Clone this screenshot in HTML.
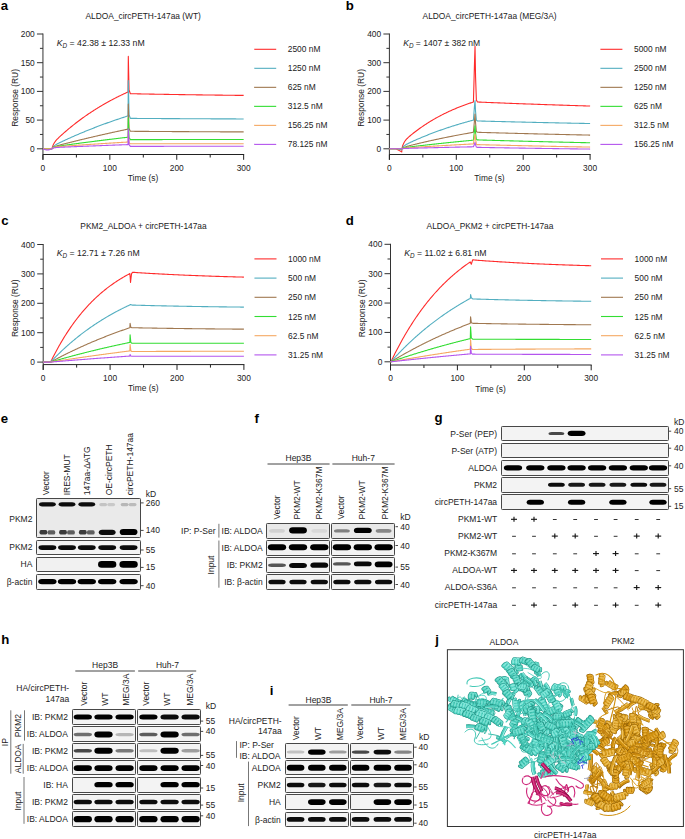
<!DOCTYPE html>
<html><head><meta charset="utf-8"><style>
html,body{margin:0;padding:0;background:#fff;}
svg{display:block;}
svg{font-family:"Liberation Sans",sans-serif;font-size:8.4px;fill:#222;}
</style></head><body>
<svg width="685" height="839" viewBox="0 0 685 839">
<defs>
<filter id="bl" x="-20%" y="-60%" width="140%" height="220%"><feGaussianBlur stdDeviation="0.7"/></filter>
<filter id="bl2" x="-20%" y="-60%" width="140%" height="220%"><feGaussianBlur stdDeviation="0.5"/></filter>
</defs>
<rect width="685" height="839" fill="#fff"/>
<line x1="42.95" y1="33.5" x2="42.95" y2="159.8" stroke="#333" stroke-width="1"/>
<line x1="42.95" y1="154.5" x2="244.15" y2="154.5" stroke="#222" stroke-width="1"/>
<line x1="36.95" y1="148.8" x2="42.95" y2="148.8" stroke="#333" stroke-width="1"/>
<text x="34.75" y="151.8" text-anchor="end">0</text>
<line x1="39.95" y1="134.45" x2="42.95" y2="134.45" stroke="#333" stroke-width="1"/>
<line x1="36.95" y1="120.1" x2="42.95" y2="120.1" stroke="#333" stroke-width="1"/>
<text x="34.75" y="123.1" text-anchor="end">50</text>
<line x1="39.95" y1="105.75" x2="42.95" y2="105.75" stroke="#333" stroke-width="1"/>
<line x1="36.95" y1="91.4" x2="42.95" y2="91.4" stroke="#333" stroke-width="1"/>
<text x="34.75" y="94.4" text-anchor="end">100</text>
<line x1="39.95" y1="77.05" x2="42.95" y2="77.05" stroke="#333" stroke-width="1"/>
<line x1="36.95" y1="62.7" x2="42.95" y2="62.7" stroke="#333" stroke-width="1"/>
<text x="34.75" y="65.7" text-anchor="end">150</text>
<line x1="39.95" y1="48.35" x2="42.95" y2="48.35" stroke="#333" stroke-width="1"/>
<line x1="36.95" y1="34" x2="42.95" y2="34" stroke="#333" stroke-width="1"/>
<text x="34.75" y="37" text-anchor="end">200</text>
<line x1="42.95" y1="154.5" x2="42.95" y2="159.8" stroke="#222" stroke-width="1"/>
<text x="42.95" y="170.8" text-anchor="middle">0</text>
<line x1="76.4" y1="154.5" x2="76.4" y2="157.5" stroke="#222" stroke-width="1"/>
<line x1="109.85" y1="154.5" x2="109.85" y2="159.8" stroke="#222" stroke-width="1"/>
<text x="109.85" y="170.8" text-anchor="middle">100</text>
<line x1="143.3" y1="154.5" x2="143.3" y2="157.5" stroke="#222" stroke-width="1"/>
<line x1="176.75" y1="154.5" x2="176.75" y2="159.8" stroke="#222" stroke-width="1"/>
<text x="176.75" y="170.8" text-anchor="middle">200</text>
<line x1="210.2" y1="154.5" x2="210.2" y2="157.5" stroke="#222" stroke-width="1"/>
<line x1="243.65" y1="154.5" x2="243.65" y2="159.8" stroke="#222" stroke-width="1"/>
<text x="243.65" y="170.8" text-anchor="middle">300</text>
<text x="143" y="181.2" text-anchor="middle">Time (s)</text>
<text x="18.4" y="97.9" text-anchor="middle" transform="rotate(-90 18.4 97.9)">Response (RU)</text>
<text x="143.2" y="18.8" text-anchor="middle">ALDOA_circPETH-147aa (WT)</text>
<text x="56.8" y="45.8" font-size="8.7"><tspan font-style="italic">K</tspan><tspan font-style="italic" font-size="6.3" dy="2.3">D</tspan><tspan dy="-2.3"> = 42.38 ± 12.33 nM</tspan></text>
<line x1="254.2" y1="49.3" x2="276.2" y2="49.3" stroke="#ff2b2b" stroke-width="1.1"/>
<text x="287.8" y="52.3">2500 nM</text>
<line x1="254.2" y1="68.32" x2="276.2" y2="68.32" stroke="#52aec0" stroke-width="1.1"/>
<text x="287.8" y="71.32">1250 nM</text>
<line x1="254.2" y1="87.34" x2="276.2" y2="87.34" stroke="#a07850" stroke-width="1.1"/>
<text x="287.8" y="90.34">625 nM</text>
<line x1="254.2" y1="106.36" x2="276.2" y2="106.36" stroke="#33dd33" stroke-width="1.1"/>
<text x="287.8" y="109.36">312.5 nM</text>
<line x1="254.2" y1="125.38" x2="276.2" y2="125.38" stroke="#f5a862" stroke-width="1.1"/>
<text x="287.8" y="128.38">156.25 nM</text>
<line x1="254.2" y1="144.4" x2="276.2" y2="144.4" stroke="#b455ee" stroke-width="1.1"/>
<text x="287.8" y="147.4">78.125 nM</text>
<path d="M42.95,148.8 L43.28,148.8 L43.62,148.8 L43.95,148.8 L44.29,148.8 L44.62,148.8 L44.96,148.8 L45.29,148.8 L45.63,148.8 L45.96,148.8 L46.3,148.8 L46.63,148.8 L46.96,148.8 L47.3,148.8 L47.63,148.8 L47.97,148.8 L48.3,148.8 L48.64,148.8 L48.97,148.8 L49.31,148.8 L49.64,148.8 L49.97,148.8 L50.31,148.8 L50.64,148.8 L50.98,148.8 L51.31,148.8 L51.65,148.8 L51.85,148.8 L52.52,146.62 L53.19,144.95 L53.85,143.62 L54.52,142.51 L55.19,141.56 L55.86,140.71 L56.53,139.94 L57.2,139.22 L57.87,138.53 L58.54,137.87 L59.21,137.22 L59.88,136.59 L60.54,135.96 L61.21,135.35 L61.88,134.74 L62.55,134.14 L63.22,133.55 L63.89,132.96 L64.56,132.37 L65.23,131.79 L65.9,131.21 L66.57,130.64 L67.23,130.07 L67.9,129.51 L68.57,128.95 L69.24,128.39 L69.91,127.84 L70.58,127.29 L71.25,126.74 L71.92,126.2 L72.59,125.66 L73.26,125.13 L73.92,124.6 L74.59,124.07 L75.26,123.55 L75.93,123.03 L76.6,122.52 L77.27,122 L77.94,121.5 L78.61,120.99 L79.28,120.49 L79.95,119.99 L80.61,119.5 L81.28,119.01 L81.95,118.52 L82.62,118.04 L83.29,117.56 L83.96,117.08 L84.63,116.6 L85.3,116.13 L85.97,115.67 L86.64,115.2 L87.3,114.74 L87.97,114.28 L88.64,113.83 L89.31,113.38 L89.98,112.93 L90.65,112.49 L91.32,112.04 L91.99,111.61 L92.66,111.17 L93.33,110.74 L93.99,110.31 L94.66,109.88 L95.33,109.46 L96,109.04 L96.67,108.62 L97.34,108.2 L98.01,107.79 L98.68,107.38 L99.35,106.98 L100.02,106.57 L100.68,106.17 L101.35,105.77 L102.02,105.38 L102.69,104.99 L103.36,104.6 L104.03,104.21 L104.7,103.83 L105.37,103.45 L106.04,103.07 L106.71,102.69 L107.37,102.32 L108.04,101.95 L108.71,101.58 L109.38,101.21 L110.05,100.85 L110.72,100.49 L111.39,100.13 L112.06,99.77 L112.73,99.42 L113.4,99.07 L114.06,98.72 L114.73,98.38 L115.4,98.03 L116.07,97.69 L116.74,97.35 L117.41,97.02 L118.08,96.68 L118.75,96.35 L119.42,96.02 L120.09,95.69 L120.75,95.37 L121.42,95.05 L122.09,94.73 L122.76,94.41 L123.43,94.09 L124.1,93.78 L124.77,93.47 L125.44,93.16 L126.11,92.85 L126.78,92.55 L127.44,92.24 L128.05,91.97 L128.31,56.39 L129.05,89.97 L130.39,93.7 L131.06,93.71 L132.4,93.74 L133.73,93.77 L135.07,93.79 L136.41,93.82 L137.75,93.85 L139.09,93.87 L140.42,93.9 L141.76,93.93 L143.1,93.95 L144.44,93.98 L145.78,94 L147.11,94.03 L148.45,94.05 L149.79,94.08 L151.13,94.1 L152.47,94.13 L153.8,94.15 L155.14,94.18 L156.48,94.2 L157.82,94.23 L159.16,94.25 L160.49,94.27 L161.83,94.3 L163.17,94.32 L164.51,94.34 L165.85,94.36 L167.18,94.39 L168.52,94.41 L169.86,94.43 L171.2,94.45 L172.54,94.48 L173.87,94.5 L175.21,94.52 L176.55,94.54 L177.89,94.56 L179.23,94.58 L180.56,94.6 L181.9,94.62 L183.24,94.64 L184.58,94.66 L185.92,94.68 L187.25,94.7 L188.59,94.72 L189.93,94.74 L191.27,94.76 L192.61,94.78 L193.94,94.8 L195.28,94.82 L196.62,94.84 L197.96,94.86 L199.3,94.88 L200.63,94.9 L201.97,94.91 L203.31,94.93 L204.65,94.95 L205.99,94.97 L207.32,94.99 L208.66,95 L210,95.02 L211.34,95.04 L212.68,95.06 L214.01,95.07 L215.35,95.09 L216.69,95.11 L218.03,95.12 L219.37,95.14 L220.7,95.16 L222.04,95.17 L223.38,95.19 L224.72,95.2 L226.06,95.22 L227.39,95.24 L228.73,95.25 L230.07,95.27 L231.41,95.28 L232.75,95.3 L234.08,95.31 L235.42,95.33 L236.76,95.34 L238.1,95.36 L239.44,95.37 L240.77,95.39 L242.11,95.4 L243.45,95.42 L243.65,95.42" fill="none" stroke="#ff2b2b" stroke-width="1.1" stroke-linejoin="round"/>
<path d="M42.95,148.8 L43.28,148.8 L43.62,148.8 L43.95,148.8 L44.29,148.8 L44.62,148.8 L44.96,148.8 L45.29,148.8 L45.63,148.8 L45.96,148.8 L46.3,148.8 L46.63,148.8 L46.96,148.8 L47.3,148.8 L47.63,148.8 L47.97,148.8 L48.3,148.8 L48.64,148.8 L48.97,148.8 L49.31,148.8 L49.64,148.8 L49.97,148.8 L50.31,148.8 L50.64,148.8 L50.98,148.8 L51.31,148.8 L51.65,148.8 L51.85,148.8 L52.52,147.71 L53.19,146.87 L53.85,146.2 L54.52,145.64 L55.19,145.16 L55.86,144.73 L56.53,144.34 L57.2,143.96 L57.87,143.61 L58.54,143.27 L59.21,142.93 L59.88,142.6 L60.54,142.28 L61.21,141.96 L61.88,141.64 L62.55,141.32 L63.22,141.01 L63.89,140.7 L64.56,140.39 L65.23,140.08 L65.9,139.77 L66.57,139.46 L67.23,139.16 L67.9,138.85 L68.57,138.55 L69.24,138.25 L69.91,137.95 L70.58,137.65 L71.25,137.35 L71.92,137.05 L72.59,136.75 L73.26,136.46 L73.92,136.17 L74.59,135.87 L75.26,135.58 L75.93,135.29 L76.6,135 L77.27,134.71 L77.94,134.43 L78.61,134.14 L79.28,133.86 L79.95,133.57 L80.61,133.29 L81.28,133.01 L81.95,132.73 L82.62,132.45 L83.29,132.18 L83.96,131.9 L84.63,131.62 L85.3,131.35 L85.97,131.08 L86.64,130.8 L87.3,130.53 L87.97,130.26 L88.64,129.99 L89.31,129.73 L89.98,129.46 L90.65,129.19 L91.32,128.93 L91.99,128.66 L92.66,128.4 L93.33,128.14 L93.99,127.88 L94.66,127.62 L95.33,127.36 L96,127.11 L96.67,126.85 L97.34,126.59 L98.01,126.34 L98.68,126.09 L99.35,125.83 L100.02,125.58 L100.68,125.33 L101.35,125.08 L102.02,124.83 L102.69,124.59 L103.36,124.34 L104.03,124.1 L104.7,123.85 L105.37,123.61 L106.04,123.37 L106.71,123.12 L107.37,122.88 L108.04,122.64 L108.71,122.41 L109.38,122.17 L110.05,121.93 L110.72,121.7 L111.39,121.46 L112.06,121.23 L112.73,121 L113.4,120.76 L114.06,120.53 L114.73,120.3 L115.4,120.07 L116.07,119.84 L116.74,119.62 L117.41,119.39 L118.08,119.17 L118.75,118.94 L119.42,118.72 L120.09,118.49 L120.75,118.27 L121.42,118.05 L122.09,117.83 L122.76,117.61 L123.43,117.39 L124.1,117.18 L124.77,116.96 L125.44,116.74 L126.11,116.53 L126.78,116.31 L127.44,116.1 L128.05,115.91 L128.31,80.49 L129.05,114.59 L130.39,118.38 L131.06,118.38 L132.4,118.39 L133.73,118.4 L135.07,118.41 L136.41,118.42 L137.75,118.43 L139.09,118.44 L140.42,118.45 L141.76,118.45 L143.1,118.46 L144.44,118.47 L145.78,118.48 L147.11,118.49 L148.45,118.5 L149.79,118.51 L151.13,118.51 L152.47,118.52 L153.8,118.53 L155.14,118.54 L156.48,118.55 L157.82,118.55 L159.16,118.56 L160.49,118.57 L161.83,118.58 L163.17,118.59 L164.51,118.59 L165.85,118.6 L167.18,118.61 L168.52,118.62 L169.86,118.62 L171.2,118.63 L172.54,118.64 L173.87,118.65 L175.21,118.65 L176.55,118.66 L177.89,118.67 L179.23,118.67 L180.56,118.68 L181.9,118.69 L183.24,118.69 L184.58,118.7 L185.92,118.71 L187.25,118.71 L188.59,118.72 L189.93,118.73 L191.27,118.73 L192.61,118.74 L193.94,118.75 L195.28,118.75 L196.62,118.76 L197.96,118.77 L199.3,118.77 L200.63,118.78 L201.97,118.78 L203.31,118.79 L204.65,118.8 L205.99,118.8 L207.32,118.81 L208.66,118.81 L210,118.82 L211.34,118.83 L212.68,118.83 L214.01,118.84 L215.35,118.84 L216.69,118.85 L218.03,118.85 L219.37,118.86 L220.7,118.86 L222.04,118.87 L223.38,118.88 L224.72,118.88 L226.06,118.89 L227.39,118.89 L228.73,118.9 L230.07,118.9 L231.41,118.91 L232.75,118.91 L234.08,118.92 L235.42,118.92 L236.76,118.93 L238.1,118.93 L239.44,118.94 L240.77,118.94 L242.11,118.95 L243.45,118.95 L243.65,118.95" fill="none" stroke="#52aec0" stroke-width="1.1" stroke-linejoin="round"/>
<path d="M42.95,148.8 L43.28,148.8 L43.62,148.8 L43.95,148.8 L44.29,148.8 L44.62,148.8 L44.96,148.8 L45.29,148.8 L45.63,148.8 L45.96,148.8 L46.3,148.8 L46.63,148.8 L46.96,148.8 L47.3,148.8 L47.63,148.8 L47.97,148.8 L48.3,148.8 L48.64,148.8 L48.97,148.8 L49.31,148.8 L49.64,148.8 L49.97,148.8 L50.31,148.8 L50.64,148.8 L50.98,148.8 L51.31,148.8 L51.65,148.8 L51.85,148.8 L52.52,148.06 L53.19,147.5 L53.85,147.07 L54.52,146.72 L55.19,146.43 L55.86,146.18 L56.53,145.96 L57.2,145.75 L57.87,145.55 L58.54,145.36 L59.21,145.18 L59.88,145 L60.54,144.82 L61.21,144.65 L61.88,144.48 L62.55,144.3 L63.22,144.13 L63.89,143.96 L64.56,143.79 L65.23,143.62 L65.9,143.45 L66.57,143.28 L67.23,143.11 L67.9,142.94 L68.57,142.78 L69.24,142.61 L69.91,142.44 L70.58,142.28 L71.25,142.11 L71.92,141.94 L72.59,141.78 L73.26,141.61 L73.92,141.45 L74.59,141.28 L75.26,141.12 L75.93,140.95 L76.6,140.79 L77.27,140.62 L77.94,140.46 L78.61,140.3 L79.28,140.13 L79.95,139.97 L80.61,139.81 L81.28,139.65 L81.95,139.49 L82.62,139.33 L83.29,139.17 L83.96,139.01 L84.63,138.85 L85.3,138.69 L85.97,138.53 L86.64,138.37 L87.3,138.21 L87.97,138.05 L88.64,137.89 L89.31,137.73 L89.98,137.58 L90.65,137.42 L91.32,137.26 L91.99,137.11 L92.66,136.95 L93.33,136.79 L93.99,136.64 L94.66,136.48 L95.33,136.33 L96,136.17 L96.67,136.02 L97.34,135.86 L98.01,135.71 L98.68,135.56 L99.35,135.4 L100.02,135.25 L100.68,135.1 L101.35,134.95 L102.02,134.79 L102.69,134.64 L103.36,134.49 L104.03,134.34 L104.7,134.19 L105.37,134.04 L106.04,133.89 L106.71,133.74 L107.37,133.59 L108.04,133.44 L108.71,133.29 L109.38,133.14 L110.05,132.99 L110.72,132.85 L111.39,132.7 L112.06,132.55 L112.73,132.4 L113.4,132.26 L114.06,132.11 L114.73,131.96 L115.4,131.82 L116.07,131.67 L116.74,131.53 L117.41,131.38 L118.08,131.24 L118.75,131.09 L119.42,130.95 L120.09,130.8 L120.75,130.66 L121.42,130.52 L122.09,130.37 L122.76,130.23 L123.43,130.09 L124.1,129.95 L124.77,129.8 L125.44,129.66 L126.11,129.52 L126.78,129.38 L127.44,129.24 L128.05,129.11 L128.31,104.03 L129.05,128.57 L130.39,131.29 L131.06,131.3 L132.4,131.31 L133.73,131.32 L135.07,131.33 L136.41,131.34 L137.75,131.35 L139.09,131.36 L140.42,131.37 L141.76,131.38 L143.1,131.39 L144.44,131.4 L145.78,131.41 L147.11,131.42 L148.45,131.42 L149.79,131.43 L151.13,131.44 L152.47,131.45 L153.8,131.46 L155.14,131.47 L156.48,131.48 L157.82,131.49 L159.16,131.5 L160.49,131.5 L161.83,131.51 L163.17,131.52 L164.51,131.53 L165.85,131.54 L167.18,131.55 L168.52,131.55 L169.86,131.56 L171.2,131.57 L172.54,131.58 L173.87,131.59 L175.21,131.59 L176.55,131.6 L177.89,131.61 L179.23,131.62 L180.56,131.63 L181.9,131.63 L183.24,131.64 L184.58,131.65 L185.92,131.66 L187.25,131.66 L188.59,131.67 L189.93,131.68 L191.27,131.68 L192.61,131.69 L193.94,131.7 L195.28,131.71 L196.62,131.71 L197.96,131.72 L199.3,131.73 L200.63,131.73 L201.97,131.74 L203.31,131.75 L204.65,131.75 L205.99,131.76 L207.32,131.77 L208.66,131.77 L210,131.78 L211.34,131.79 L212.68,131.79 L214.01,131.8 L215.35,131.8 L216.69,131.81 L218.03,131.82 L219.37,131.82 L220.7,131.83 L222.04,131.83 L223.38,131.84 L224.72,131.85 L226.06,131.85 L227.39,131.86 L228.73,131.86 L230.07,131.87 L231.41,131.87 L232.75,131.88 L234.08,131.89 L235.42,131.89 L236.76,131.9 L238.1,131.9 L239.44,131.91 L240.77,131.91 L242.11,131.92 L243.45,131.92 L243.65,131.92" fill="none" stroke="#a07850" stroke-width="1.1" stroke-linejoin="round"/>
<path d="M42.95,148.8 L43.28,148.8 L43.62,148.8 L43.95,148.8 L44.29,148.8 L44.62,148.8 L44.96,148.8 L45.29,148.8 L45.63,148.8 L45.96,148.8 L46.3,148.8 L46.63,148.8 L46.96,148.8 L47.3,148.8 L47.63,148.8 L47.97,148.8 L48.3,148.8 L48.64,148.8 L48.97,148.8 L49.31,148.8 L49.64,148.8 L49.97,148.8 L50.31,148.8 L50.64,148.8 L50.98,148.8 L51.31,148.8 L51.65,148.8 L51.85,148.8 L52.52,148.14 L53.19,147.66 L53.85,147.31 L54.52,147.04 L55.19,146.83 L55.86,146.66 L56.53,146.51 L57.2,146.38 L57.87,146.26 L58.54,146.15 L59.21,146.04 L59.88,145.94 L60.54,145.84 L61.21,145.75 L61.88,145.65 L62.55,145.55 L63.22,145.46 L63.89,145.37 L64.56,145.27 L65.23,145.18 L65.9,145.09 L66.57,144.99 L67.23,144.9 L67.9,144.81 L68.57,144.71 L69.24,144.62 L69.91,144.53 L70.58,144.44 L71.25,144.35 L71.92,144.26 L72.59,144.16 L73.26,144.07 L73.92,143.98 L74.59,143.89 L75.26,143.8 L75.93,143.71 L76.6,143.62 L77.27,143.53 L77.94,143.44 L78.61,143.35 L79.28,143.26 L79.95,143.17 L80.61,143.08 L81.28,143 L81.95,142.91 L82.62,142.82 L83.29,142.73 L83.96,142.64 L84.63,142.55 L85.3,142.47 L85.97,142.38 L86.64,142.29 L87.3,142.2 L87.97,142.12 L88.64,142.03 L89.31,141.94 L89.98,141.86 L90.65,141.77 L91.32,141.68 L91.99,141.6 L92.66,141.51 L93.33,141.43 L93.99,141.34 L94.66,141.26 L95.33,141.17 L96,141.09 L96.67,141 L97.34,140.92 L98.01,140.83 L98.68,140.75 L99.35,140.66 L100.02,140.58 L100.68,140.49 L101.35,140.41 L102.02,140.33 L102.69,140.24 L103.36,140.16 L104.03,140.08 L104.7,140 L105.37,139.91 L106.04,139.83 L106.71,139.75 L107.37,139.67 L108.04,139.58 L108.71,139.5 L109.38,139.42 L110.05,139.34 L110.72,139.26 L111.39,139.18 L112.06,139.09 L112.73,139.01 L113.4,138.93 L114.06,138.85 L114.73,138.77 L115.4,138.69 L116.07,138.61 L116.74,138.53 L117.41,138.45 L118.08,138.37 L118.75,138.29 L119.42,138.21 L120.09,138.13 L120.75,138.06 L121.42,137.98 L122.09,137.9 L122.76,137.82 L123.43,137.74 L124.1,137.66 L124.77,137.59 L125.44,137.51 L126.11,137.43 L126.78,137.35 L127.44,137.27 L128.05,137.21 L128.31,117.8 L129.05,137.43 L130.39,139.62 L131.06,139.62 L132.4,139.61 L133.73,139.61 L135.07,139.61 L136.41,139.61 L137.75,139.61 L139.09,139.6 L140.42,139.6 L141.76,139.6 L143.1,139.6 L144.44,139.6 L145.78,139.6 L147.11,139.59 L148.45,139.59 L149.79,139.59 L151.13,139.59 L152.47,139.59 L153.8,139.59 L155.14,139.58 L156.48,139.58 L157.82,139.58 L159.16,139.58 L160.49,139.58 L161.83,139.58 L163.17,139.57 L164.51,139.57 L165.85,139.57 L167.18,139.57 L168.52,139.57 L169.86,139.57 L171.2,139.57 L172.54,139.56 L173.87,139.56 L175.21,139.56 L176.55,139.56 L177.89,139.56 L179.23,139.56 L180.56,139.56 L181.9,139.55 L183.24,139.55 L184.58,139.55 L185.92,139.55 L187.25,139.55 L188.59,139.55 L189.93,139.55 L191.27,139.54 L192.61,139.54 L193.94,139.54 L195.28,139.54 L196.62,139.54 L197.96,139.54 L199.3,139.54 L200.63,139.54 L201.97,139.53 L203.31,139.53 L204.65,139.53 L205.99,139.53 L207.32,139.53 L208.66,139.53 L210,139.53 L211.34,139.53 L212.68,139.53 L214.01,139.52 L215.35,139.52 L216.69,139.52 L218.03,139.52 L219.37,139.52 L220.7,139.52 L222.04,139.52 L223.38,139.52 L224.72,139.52 L226.06,139.51 L227.39,139.51 L228.73,139.51 L230.07,139.51 L231.41,139.51 L232.75,139.51 L234.08,139.51 L235.42,139.51 L236.76,139.51 L238.1,139.51 L239.44,139.5 L240.77,139.5 L242.11,139.5 L243.45,139.5 L243.65,139.5" fill="none" stroke="#33dd33" stroke-width="1.1" stroke-linejoin="round"/>
<path d="M42.95,148.8 L43.28,148.8 L43.62,148.8 L43.95,148.8 L44.29,148.8 L44.62,148.8 L44.96,148.8 L45.29,148.8 L45.63,148.8 L45.96,148.8 L46.3,148.8 L46.63,148.8 L46.96,148.8 L47.3,148.8 L47.63,148.8 L47.97,148.8 L48.3,148.8 L48.64,148.8 L48.97,148.8 L49.31,148.8 L49.64,148.8 L49.97,148.8 L50.31,148.8 L50.64,148.8 L50.98,148.8 L51.31,148.8 L51.65,148.8 L51.85,148.8 L52.52,148.18 L53.19,147.75 L53.85,147.45 L54.52,147.23 L55.19,147.06 L55.86,146.94 L56.53,146.84 L57.2,146.75 L57.87,146.68 L58.54,146.62 L59.21,146.56 L59.88,146.5 L60.54,146.45 L61.21,146.4 L61.88,146.35 L62.55,146.3 L63.22,146.25 L63.89,146.2 L64.56,146.15 L65.23,146.11 L65.9,146.06 L66.57,146.01 L67.23,145.96 L67.9,145.92 L68.57,145.87 L69.24,145.82 L69.91,145.77 L70.58,145.73 L71.25,145.68 L71.92,145.63 L72.59,145.59 L73.26,145.54 L73.92,145.49 L74.59,145.45 L75.26,145.4 L75.93,145.36 L76.6,145.31 L77.27,145.26 L77.94,145.22 L78.61,145.17 L79.28,145.13 L79.95,145.08 L80.61,145.03 L81.28,144.99 L81.95,144.94 L82.62,144.9 L83.29,144.85 L83.96,144.81 L84.63,144.76 L85.3,144.72 L85.97,144.67 L86.64,144.63 L87.3,144.58 L87.97,144.54 L88.64,144.5 L89.31,144.45 L89.98,144.41 L90.65,144.36 L91.32,144.32 L91.99,144.27 L92.66,144.23 L93.33,144.19 L93.99,144.14 L94.66,144.1 L95.33,144.06 L96,144.01 L96.67,143.97 L97.34,143.93 L98.01,143.88 L98.68,143.84 L99.35,143.8 L100.02,143.75 L100.68,143.71 L101.35,143.67 L102.02,143.62 L102.69,143.58 L103.36,143.54 L104.03,143.5 L104.7,143.45 L105.37,143.41 L106.04,143.37 L106.71,143.33 L107.37,143.29 L108.04,143.24 L108.71,143.2 L109.38,143.16 L110.05,143.12 L110.72,143.08 L111.39,143.03 L112.06,142.99 L112.73,142.95 L113.4,142.91 L114.06,142.87 L114.73,142.83 L115.4,142.79 L116.07,142.75 L116.74,142.71 L117.41,142.66 L118.08,142.62 L118.75,142.58 L119.42,142.54 L120.09,142.5 L120.75,142.46 L121.42,142.42 L122.09,142.38 L122.76,142.34 L123.43,142.3 L124.1,142.26 L124.77,142.22 L125.44,142.18 L126.11,142.14 L126.78,142.1 L127.44,142.06 L128.05,142.03 L128.31,131.58 L129.05,142.58 L130.39,143.81 L131.06,143.81 L132.4,143.81 L133.73,143.81 L135.07,143.81 L136.41,143.81 L137.75,143.81 L139.09,143.81 L140.42,143.81 L141.76,143.81 L143.1,143.81 L144.44,143.81 L145.78,143.81 L147.11,143.81 L148.45,143.81 L149.79,143.81 L151.13,143.81 L152.47,143.81 L153.8,143.81 L155.14,143.81 L156.48,143.81 L157.82,143.81 L159.16,143.81 L160.49,143.81 L161.83,143.81 L163.17,143.81 L164.51,143.81 L165.85,143.81 L167.18,143.81 L168.52,143.81 L169.86,143.81 L171.2,143.81 L172.54,143.81 L173.87,143.81 L175.21,143.81 L176.55,143.81 L177.89,143.81 L179.23,143.81 L180.56,143.81 L181.9,143.81 L183.24,143.81 L184.58,143.81 L185.92,143.81 L187.25,143.81 L188.59,143.81 L189.93,143.81 L191.27,143.81 L192.61,143.81 L193.94,143.81 L195.28,143.81 L196.62,143.81 L197.96,143.81 L199.3,143.81 L200.63,143.81 L201.97,143.81 L203.31,143.81 L204.65,143.81 L205.99,143.81 L207.32,143.81 L208.66,143.81 L210,143.81 L211.34,143.81 L212.68,143.81 L214.01,143.81 L215.35,143.81 L216.69,143.81 L218.03,143.81 L219.37,143.81 L220.7,143.81 L222.04,143.81 L223.38,143.81 L224.72,143.81 L226.06,143.81 L227.39,143.81 L228.73,143.81 L230.07,143.81 L231.41,143.81 L232.75,143.81 L234.08,143.81 L235.42,143.81 L236.76,143.81 L238.1,143.81 L239.44,143.81 L240.77,143.81 L242.11,143.81 L243.45,143.81 L243.65,143.81" fill="none" stroke="#f5a862" stroke-width="1.1" stroke-linejoin="round"/>
<path d="M42.95,148.8 L43.28,148.94 L43.62,149.07 L43.95,149.2 L44.29,149.32 L44.62,149.44 L44.96,149.55 L45.29,149.64 L45.63,149.73 L45.96,149.8 L46.3,149.86 L46.63,149.91 L46.96,149.93 L47.3,149.95 L47.63,149.94 L47.97,149.92 L48.3,149.89 L48.64,149.84 L48.97,149.78 L49.31,149.7 L49.64,149.61 L49.97,149.51 L50.31,149.39 L50.64,149.27 L50.98,149.15 L51.31,149.02 L51.65,148.88 L51.85,148.8 L52.52,148.39 L53.19,148.11 L53.85,147.91 L54.52,147.76 L55.19,147.66 L55.86,147.58 L56.53,147.51 L57.2,147.46 L57.87,147.42 L58.54,147.38 L59.21,147.34 L59.88,147.31 L60.54,147.28 L61.21,147.24 L61.88,147.21 L62.55,147.18 L63.22,147.15 L63.89,147.12 L64.56,147.1 L65.23,147.07 L65.9,147.04 L66.57,147.01 L67.23,146.98 L67.9,146.95 L68.57,146.92 L69.24,146.9 L69.91,146.87 L70.58,146.84 L71.25,146.81 L71.92,146.78 L72.59,146.75 L73.26,146.73 L73.92,146.7 L74.59,146.67 L75.26,146.64 L75.93,146.61 L76.6,146.59 L77.27,146.56 L77.94,146.53 L78.61,146.5 L79.28,146.48 L79.95,146.45 L80.61,146.42 L81.28,146.39 L81.95,146.37 L82.62,146.34 L83.29,146.31 L83.96,146.29 L84.63,146.26 L85.3,146.23 L85.97,146.2 L86.64,146.18 L87.3,146.15 L87.97,146.12 L88.64,146.1 L89.31,146.07 L89.98,146.04 L90.65,146.02 L91.32,145.99 L91.99,145.96 L92.66,145.94 L93.33,145.91 L93.99,145.88 L94.66,145.86 L95.33,145.83 L96,145.81 L96.67,145.78 L97.34,145.75 L98.01,145.73 L98.68,145.7 L99.35,145.68 L100.02,145.65 L100.68,145.62 L101.35,145.6 L102.02,145.57 L102.69,145.55 L103.36,145.52 L104.03,145.49 L104.7,145.47 L105.37,145.44 L106.04,145.42 L106.71,145.39 L107.37,145.37 L108.04,145.34 L108.71,145.32 L109.38,145.29 L110.05,145.27 L110.72,145.24 L111.39,145.22 L112.06,145.19 L112.73,145.17 L113.4,145.14 L114.06,145.12 L114.73,145.09 L115.4,145.07 L116.07,145.04 L116.74,145.02 L117.41,144.99 L118.08,144.97 L118.75,144.95 L119.42,144.92 L120.09,144.9 L120.75,144.87 L121.42,144.85 L122.09,144.82 L122.76,144.8 L123.43,144.78 L124.1,144.75 L124.77,144.73 L125.44,144.7 L126.11,144.68 L126.78,144.66 L127.44,144.63 L128.05,144.61 L128.31,128.71 L129.05,144.62 L130.39,146.39 L131.06,146.39 L132.4,146.39 L133.73,146.38 L135.07,146.38 L136.41,146.38 L137.75,146.37 L139.09,146.37 L140.42,146.37 L141.76,146.37 L143.1,146.36 L144.44,146.36 L145.78,146.36 L147.11,146.36 L148.45,146.35 L149.79,146.35 L151.13,146.35 L152.47,146.35 L153.8,146.34 L155.14,146.34 L156.48,146.34 L157.82,146.34 L159.16,146.33 L160.49,146.33 L161.83,146.33 L163.17,146.33 L164.51,146.32 L165.85,146.32 L167.18,146.32 L168.52,146.32 L169.86,146.32 L171.2,146.31 L172.54,146.31 L173.87,146.31 L175.21,146.31 L176.55,146.3 L177.89,146.3 L179.23,146.3 L180.56,146.3 L181.9,146.3 L183.24,146.29 L184.58,146.29 L185.92,146.29 L187.25,146.29 L188.59,146.29 L189.93,146.28 L191.27,146.28 L192.61,146.28 L193.94,146.28 L195.28,146.28 L196.62,146.27 L197.96,146.27 L199.3,146.27 L200.63,146.27 L201.97,146.27 L203.31,146.27 L204.65,146.26 L205.99,146.26 L207.32,146.26 L208.66,146.26 L210,146.26 L211.34,146.25 L212.68,146.25 L214.01,146.25 L215.35,146.25 L216.69,146.25 L218.03,146.25 L219.37,146.24 L220.7,146.24 L222.04,146.24 L223.38,146.24 L224.72,146.24 L226.06,146.24 L227.39,146.24 L228.73,146.23 L230.07,146.23 L231.41,146.23 L232.75,146.23 L234.08,146.23 L235.42,146.23 L236.76,146.22 L238.1,146.22 L239.44,146.22 L240.77,146.22 L242.11,146.22 L243.45,146.22 L243.65,146.22" fill="none" stroke="#b455ee" stroke-width="1.1" stroke-linejoin="round"/>
<line x1="389.4" y1="33.5" x2="389.4" y2="159.8" stroke="#333" stroke-width="1"/>
<line x1="389.4" y1="154.5" x2="590.6" y2="154.5" stroke="#222" stroke-width="1"/>
<line x1="383.4" y1="148.8" x2="389.4" y2="148.8" stroke="#333" stroke-width="1"/>
<text x="381.2" y="151.8" text-anchor="end">0</text>
<line x1="386.4" y1="134.45" x2="389.4" y2="134.45" stroke="#333" stroke-width="1"/>
<line x1="383.4" y1="120.1" x2="389.4" y2="120.1" stroke="#333" stroke-width="1"/>
<text x="381.2" y="123.1" text-anchor="end">100</text>
<line x1="386.4" y1="105.75" x2="389.4" y2="105.75" stroke="#333" stroke-width="1"/>
<line x1="383.4" y1="91.4" x2="389.4" y2="91.4" stroke="#333" stroke-width="1"/>
<text x="381.2" y="94.4" text-anchor="end">200</text>
<line x1="386.4" y1="77.05" x2="389.4" y2="77.05" stroke="#333" stroke-width="1"/>
<line x1="383.4" y1="62.7" x2="389.4" y2="62.7" stroke="#333" stroke-width="1"/>
<text x="381.2" y="65.7" text-anchor="end">300</text>
<line x1="386.4" y1="48.35" x2="389.4" y2="48.35" stroke="#333" stroke-width="1"/>
<line x1="383.4" y1="34" x2="389.4" y2="34" stroke="#333" stroke-width="1"/>
<text x="381.2" y="37" text-anchor="end">400</text>
<line x1="389.4" y1="154.5" x2="389.4" y2="159.8" stroke="#222" stroke-width="1"/>
<text x="389.4" y="170.8" text-anchor="middle">0</text>
<line x1="422.85" y1="154.5" x2="422.85" y2="157.5" stroke="#222" stroke-width="1"/>
<line x1="456.3" y1="154.5" x2="456.3" y2="159.8" stroke="#222" stroke-width="1"/>
<text x="456.3" y="170.8" text-anchor="middle">100</text>
<line x1="489.75" y1="154.5" x2="489.75" y2="157.5" stroke="#222" stroke-width="1"/>
<line x1="523.2" y1="154.5" x2="523.2" y2="159.8" stroke="#222" stroke-width="1"/>
<text x="523.2" y="170.8" text-anchor="middle">200</text>
<line x1="556.65" y1="154.5" x2="556.65" y2="157.5" stroke="#222" stroke-width="1"/>
<line x1="590.1" y1="154.5" x2="590.1" y2="159.8" stroke="#222" stroke-width="1"/>
<text x="590.1" y="170.8" text-anchor="middle">300</text>
<text x="489.45" y="181.2" text-anchor="middle">Time (s)</text>
<text x="363.8" y="97.9" text-anchor="middle" transform="rotate(-90 363.8 97.9)">Response (RU)</text>
<text x="489.6" y="18.8" text-anchor="middle">ALDOA_circPETH-147aa (MEG/3A)</text>
<text x="403.2" y="45.6" font-size="8.55"><tspan font-style="italic">K</tspan><tspan font-style="italic" font-size="6.3" dy="2.3">D</tspan><tspan dy="-2.3"> = 1407 ± 382 nM</tspan></text>
<line x1="600.4" y1="49.3" x2="622.4" y2="49.3" stroke="#ff2b2b" stroke-width="1.1"/>
<text x="634" y="52.3">5000 nM</text>
<line x1="600.4" y1="68.32" x2="622.4" y2="68.32" stroke="#52aec0" stroke-width="1.1"/>
<text x="634" y="71.32">2500 nM</text>
<line x1="600.4" y1="87.34" x2="622.4" y2="87.34" stroke="#a07850" stroke-width="1.1"/>
<text x="634" y="90.34">1250 nM</text>
<line x1="600.4" y1="106.36" x2="622.4" y2="106.36" stroke="#33dd33" stroke-width="1.1"/>
<text x="634" y="109.36">625 nM</text>
<line x1="600.4" y1="125.38" x2="622.4" y2="125.38" stroke="#f5a862" stroke-width="1.1"/>
<text x="634" y="128.38">312.5 nM</text>
<line x1="600.4" y1="144.4" x2="622.4" y2="144.4" stroke="#b455ee" stroke-width="1.1"/>
<text x="634" y="147.4">156.25 nM</text>
<path d="M389.4,148.8 L389.73,148.8 L390.07,148.8 L390.4,148.8 L390.74,148.8 L391.07,148.8 L391.41,148.8 L391.74,148.8 L392.08,148.8 L392.41,148.8 L392.75,148.8 L393.08,148.8 L393.41,148.8 L393.75,148.8 L394.08,148.8 L394.42,148.8 L394.75,148.8 L395.09,148.8 L395.42,148.8 L395.76,148.8 L396.09,148.8 L396.42,148.98 L396.76,149.17 L397.09,149.35 L397.43,149.53 L397.76,149.72 L398.1,149.9 L398.43,150.08 L398.77,150.27 L399.1,150.45 L399.44,150.64 L399.77,150.82 L400.1,151 L400.44,151.19 L400.77,151.37 L401.11,151.55 L401.44,151.74 L401.78,151.92 L401.84,148.8 L402.51,146.29 L403.18,144.4 L403.85,142.94 L404.52,141.77 L405.19,140.79 L405.86,139.94 L406.53,139.19 L407.2,138.49 L407.86,137.84 L408.53,137.22 L409.2,136.62 L409.87,136.04 L410.54,135.48 L411.21,134.92 L411.88,134.37 L412.55,133.83 L413.22,133.3 L413.89,132.77 L414.55,132.25 L415.22,131.74 L415.89,131.23 L416.56,130.72 L417.23,130.23 L417.9,129.73 L418.57,129.24 L419.24,128.76 L419.91,128.28 L420.58,127.8 L421.24,127.33 L421.91,126.87 L422.58,126.41 L423.25,125.95 L423.92,125.5 L424.59,125.05 L425.26,124.61 L425.93,124.17 L426.6,123.74 L427.27,123.31 L427.93,122.89 L428.6,122.47 L429.27,122.05 L429.94,121.64 L430.61,121.23 L431.28,120.82 L431.95,120.42 L432.62,120.03 L433.29,119.63 L433.96,119.25 L434.62,118.86 L435.29,118.48 L435.96,118.1 L436.63,117.73 L437.3,117.36 L437.97,117 L438.64,116.63 L439.31,116.27 L439.98,115.92 L440.65,115.57 L441.31,115.22 L441.98,114.88 L442.65,114.53 L443.32,114.2 L443.99,113.86 L444.66,113.53 L445.33,113.2 L446,112.88 L446.67,112.56 L447.34,112.24 L448,111.92 L448.67,111.61 L449.34,111.3 L450.01,111 L450.68,110.7 L451.35,110.4 L452.02,110.1 L452.69,109.81 L453.36,109.52 L454.03,109.23 L454.69,108.94 L455.36,108.66 L456.03,108.38 L456.7,108.1 L457.37,107.83 L458.04,107.56 L458.71,107.29 L459.38,107.03 L460.05,106.76 L460.72,106.5 L461.38,106.24 L462.05,105.99 L462.72,105.74 L463.39,105.49 L464.06,105.24 L464.73,104.99 L465.4,104.75 L466.07,104.51 L466.74,104.27 L467.41,104.04 L468.07,103.8 L468.74,103.57 L469.41,103.34 L470.08,103.12 L470.75,102.89 L471.42,102.67 L472.09,102.45 L472.76,102.23 L473.43,102.02 L474.5,62.7 L475.03,46.34 L475.57,77.05 L476.37,100.01 L477.44,102.02 L478.11,102.05 L479.45,102.1 L480.79,102.16 L482.12,102.21 L483.46,102.27 L484.8,102.32 L486.14,102.38 L487.48,102.43 L488.81,102.49 L490.15,102.54 L491.49,102.6 L492.83,102.65 L494.17,102.7 L495.5,102.76 L496.84,102.81 L498.18,102.86 L499.52,102.92 L500.86,102.97 L502.19,103.02 L503.53,103.07 L504.87,103.13 L506.21,103.18 L507.55,103.23 L508.88,103.28 L510.22,103.33 L511.56,103.38 L512.9,103.43 L514.24,103.48 L515.57,103.53 L516.91,103.58 L518.25,103.63 L519.59,103.68 L520.93,103.73 L522.26,103.78 L523.6,103.83 L524.94,103.88 L526.28,103.93 L527.62,103.98 L528.95,104.02 L530.29,104.07 L531.63,104.12 L532.97,104.17 L534.31,104.22 L535.64,104.26 L536.98,104.31 L538.32,104.36 L539.66,104.4 L541,104.45 L542.33,104.5 L543.67,104.54 L545.01,104.59 L546.35,104.63 L547.69,104.68 L549.02,104.73 L550.36,104.77 L551.7,104.82 L553.04,104.86 L554.38,104.91 L555.71,104.95 L557.05,105 L558.39,105.04 L559.73,105.08 L561.07,105.13 L562.4,105.17 L563.74,105.21 L565.08,105.26 L566.42,105.3 L567.76,105.34 L569.09,105.39 L570.43,105.43 L571.77,105.47 L573.11,105.51 L574.45,105.56 L575.78,105.6 L577.12,105.64 L578.46,105.68 L579.8,105.72 L581.14,105.76 L582.47,105.81 L583.81,105.85 L585.15,105.89 L586.49,105.93 L587.83,105.97 L589.16,106.01 L590.1,106.04" fill="none" stroke="#ff2b2b" stroke-width="1.1" stroke-linejoin="round"/>
<path d="M389.4,148.8 L389.73,148.8 L390.07,148.8 L390.4,148.8 L390.74,148.8 L391.07,148.8 L391.41,148.8 L391.74,148.8 L392.08,148.8 L392.41,148.8 L392.75,148.8 L393.08,148.8 L393.41,148.8 L393.75,148.8 L394.08,148.8 L394.42,148.8 L394.75,148.8 L395.09,148.8 L395.42,148.8 L395.76,148.8 L396.09,148.8 L396.42,148.8 L396.76,148.8 L397.09,148.8 L397.43,148.8 L397.76,148.89 L398.1,148.97 L398.43,149.06 L398.77,149.15 L399.1,149.23 L399.44,149.32 L399.77,149.41 L400.1,149.5 L400.44,149.58 L400.77,149.67 L401.11,149.76 L401.44,149.84 L401.78,149.93 L401.84,148.8 L402.51,147.71 L403.18,146.87 L403.85,146.2 L404.52,145.65 L405.19,145.17 L405.86,144.74 L406.53,144.35 L407.2,143.99 L407.86,143.64 L408.53,143.3 L409.2,142.97 L409.87,142.65 L410.54,142.33 L411.21,142.02 L411.88,141.71 L412.55,141.41 L413.22,141.1 L413.89,140.8 L414.55,140.5 L415.22,140.2 L415.89,139.91 L416.56,139.61 L417.23,139.32 L417.9,139.03 L418.57,138.74 L419.24,138.45 L419.91,138.17 L420.58,137.89 L421.24,137.6 L421.91,137.32 L422.58,137.04 L423.25,136.77 L423.92,136.49 L424.59,136.22 L425.26,135.95 L425.93,135.68 L426.6,135.41 L427.27,135.14 L427.93,134.88 L428.6,134.61 L429.27,134.35 L429.94,134.09 L430.61,133.83 L431.28,133.57 L431.95,133.32 L432.62,133.06 L433.29,132.81 L433.96,132.56 L434.62,132.31 L435.29,132.06 L435.96,131.81 L436.63,131.57 L437.3,131.32 L437.97,131.08 L438.64,130.84 L439.31,130.6 L439.98,130.36 L440.65,130.12 L441.31,129.89 L441.98,129.65 L442.65,129.42 L443.32,129.19 L443.99,128.96 L444.66,128.73 L445.33,128.51 L446,128.28 L446.67,128.06 L447.34,127.83 L448,127.61 L448.67,127.39 L449.34,127.17 L450.01,126.95 L450.68,126.74 L451.35,126.52 L452.02,126.31 L452.69,126.1 L453.36,125.88 L454.03,125.67 L454.69,125.47 L455.36,125.26 L456.03,125.05 L456.7,124.85 L457.37,124.64 L458.04,124.44 L458.71,124.24 L459.38,124.04 L460.05,123.84 L460.72,123.64 L461.38,123.44 L462.05,123.25 L462.72,123.06 L463.39,122.86 L464.06,122.67 L464.73,122.48 L465.4,122.29 L466.07,122.1 L466.74,121.91 L467.41,121.73 L468.07,121.54 L468.74,121.36 L469.41,121.18 L470.08,120.99 L470.75,120.81 L471.42,120.63 L472.09,120.45 L472.76,120.28 L473.43,120.1 L474.5,105.75 L475.03,100.58 L475.57,111.49 L476.37,120.1 L477.44,120.96 L478.11,120.98 L479.45,121.02 L480.79,121.05 L482.12,121.09 L483.46,121.12 L484.8,121.16 L486.14,121.19 L487.48,121.23 L488.81,121.26 L490.15,121.3 L491.49,121.33 L492.83,121.37 L494.17,121.4 L495.5,121.44 L496.84,121.47 L498.18,121.5 L499.52,121.54 L500.86,121.57 L502.19,121.61 L503.53,121.64 L504.87,121.67 L506.21,121.71 L507.55,121.74 L508.88,121.77 L510.22,121.8 L511.56,121.84 L512.9,121.87 L514.24,121.9 L515.57,121.93 L516.91,121.97 L518.25,122 L519.59,122.03 L520.93,122.06 L522.26,122.09 L523.6,122.13 L524.94,122.16 L526.28,122.19 L527.62,122.22 L528.95,122.25 L530.29,122.28 L531.63,122.31 L532.97,122.34 L534.31,122.37 L535.64,122.4 L536.98,122.43 L538.32,122.46 L539.66,122.49 L541,122.52 L542.33,122.55 L543.67,122.58 L545.01,122.61 L546.35,122.64 L547.69,122.67 L549.02,122.7 L550.36,122.73 L551.7,122.76 L553.04,122.79 L554.38,122.82 L555.71,122.85 L557.05,122.87 L558.39,122.9 L559.73,122.93 L561.07,122.96 L562.4,122.99 L563.74,123.02 L565.08,123.04 L566.42,123.07 L567.76,123.1 L569.09,123.13 L570.43,123.15 L571.77,123.18 L573.11,123.21 L574.45,123.23 L575.78,123.26 L577.12,123.29 L578.46,123.32 L579.8,123.34 L581.14,123.37 L582.47,123.4 L583.81,123.42 L585.15,123.45 L586.49,123.47 L587.83,123.5 L589.16,123.53 L590.1,123.54" fill="none" stroke="#52aec0" stroke-width="1.1" stroke-linejoin="round"/>
<path d="M389.4,148.8 L389.73,148.8 L390.07,148.8 L390.4,148.8 L390.74,148.8 L391.07,148.8 L391.41,148.8 L391.74,148.8 L392.08,148.8 L392.41,148.8 L392.75,148.8 L393.08,148.8 L393.41,148.8 L393.75,148.8 L394.08,148.8 L394.42,148.8 L394.75,148.8 L395.09,148.8 L395.42,148.8 L395.76,148.8 L396.09,148.8 L396.42,148.8 L396.76,148.8 L397.09,148.8 L397.43,148.8 L397.76,148.8 L398.1,148.8 L398.43,148.8 L398.77,148.8 L399.1,148.8 L399.44,148.8 L399.77,148.8 L400.1,148.8 L400.44,148.8 L400.77,148.8 L401.11,148.8 L401.44,148.8 L401.78,148.8 L401.84,148.8 L402.51,148.25 L403.18,147.82 L403.85,147.47 L404.52,147.18 L405.19,146.93 L405.86,146.71 L406.53,146.5 L407.2,146.31 L407.86,146.12 L408.53,145.94 L409.2,145.77 L409.87,145.59 L410.54,145.42 L411.21,145.25 L411.88,145.09 L412.55,144.92 L413.22,144.75 L413.89,144.59 L414.55,144.43 L415.22,144.26 L415.89,144.1 L416.56,143.94 L417.23,143.78 L417.9,143.62 L418.57,143.46 L419.24,143.3 L419.91,143.14 L420.58,142.98 L421.24,142.82 L421.91,142.67 L422.58,142.51 L423.25,142.35 L423.92,142.2 L424.59,142.04 L425.26,141.89 L425.93,141.74 L426.6,141.59 L427.27,141.43 L427.93,141.28 L428.6,141.13 L429.27,140.98 L429.94,140.83 L430.61,140.68 L431.28,140.54 L431.95,140.39 L432.62,140.24 L433.29,140.09 L433.96,139.95 L434.62,139.8 L435.29,139.66 L435.96,139.51 L436.63,139.37 L437.3,139.23 L437.97,139.09 L438.64,138.94 L439.31,138.8 L439.98,138.66 L440.65,138.52 L441.31,138.38 L441.98,138.24 L442.65,138.1 L443.32,137.97 L443.99,137.83 L444.66,137.69 L445.33,137.56 L446,137.42 L446.67,137.28 L447.34,137.15 L448,137.02 L448.67,136.88 L449.34,136.75 L450.01,136.62 L450.68,136.48 L451.35,136.35 L452.02,136.22 L452.69,136.09 L453.36,135.96 L454.03,135.83 L454.69,135.7 L455.36,135.58 L456.03,135.45 L456.7,135.32 L457.37,135.19 L458.04,135.07 L458.71,134.94 L459.38,134.82 L460.05,134.69 L460.72,134.57 L461.38,134.44 L462.05,134.32 L462.72,134.2 L463.39,134.07 L464.06,133.95 L464.73,133.83 L465.4,133.71 L466.07,133.59 L466.74,133.47 L467.41,133.35 L468.07,133.23 L468.74,133.11 L469.41,133 L470.08,132.88 L470.75,132.76 L471.42,132.64 L472.09,132.53 L472.76,132.41 L473.43,132.3 L474.5,120.1 L475.03,114.07 L475.57,122.97 L476.37,131.58 L477.44,132.3 L478.11,132.32 L479.45,132.36 L480.79,132.4 L482.12,132.43 L483.46,132.47 L484.8,132.51 L486.14,132.55 L487.48,132.59 L488.81,132.63 L490.15,132.66 L491.49,132.7 L492.83,132.74 L494.17,132.78 L495.5,132.81 L496.84,132.85 L498.18,132.89 L499.52,132.93 L500.86,132.96 L502.19,133 L503.53,133.04 L504.87,133.07 L506.21,133.11 L507.55,133.14 L508.88,133.18 L510.22,133.22 L511.56,133.25 L512.9,133.29 L514.24,133.32 L515.57,133.36 L516.91,133.39 L518.25,133.43 L519.59,133.46 L520.93,133.5 L522.26,133.53 L523.6,133.57 L524.94,133.6 L526.28,133.63 L527.62,133.67 L528.95,133.7 L530.29,133.74 L531.63,133.77 L532.97,133.8 L534.31,133.84 L535.64,133.87 L536.98,133.9 L538.32,133.93 L539.66,133.97 L541,134 L542.33,134.03 L543.67,134.06 L545.01,134.1 L546.35,134.13 L547.69,134.16 L549.02,134.19 L550.36,134.22 L551.7,134.26 L553.04,134.29 L554.38,134.32 L555.71,134.35 L557.05,134.38 L558.39,134.41 L559.73,134.44 L561.07,134.47 L562.4,134.5 L563.74,134.53 L565.08,134.56 L566.42,134.59 L567.76,134.62 L569.09,134.65 L570.43,134.68 L571.77,134.71 L573.11,134.74 L574.45,134.77 L575.78,134.8 L577.12,134.83 L578.46,134.86 L579.8,134.89 L581.14,134.92 L582.47,134.95 L583.81,134.98 L585.15,135.01 L586.49,135.03 L587.83,135.06 L589.16,135.09 L590.1,135.11" fill="none" stroke="#a07850" stroke-width="1.1" stroke-linejoin="round"/>
<path d="M389.4,148.8 L389.73,148.8 L390.07,148.8 L390.4,148.8 L390.74,148.8 L391.07,148.8 L391.41,148.8 L391.74,148.8 L392.08,148.8 L392.41,148.8 L392.75,148.8 L393.08,148.8 L393.41,148.8 L393.75,148.8 L394.08,148.8 L394.42,148.8 L394.75,148.8 L395.09,148.8 L395.42,148.8 L395.76,148.8 L396.09,148.8 L396.42,148.8 L396.76,148.8 L397.09,148.8 L397.43,148.8 L397.76,148.8 L398.1,148.8 L398.43,148.8 L398.77,148.8 L399.1,148.8 L399.44,148.8 L399.77,148.8 L400.1,148.8 L400.44,148.8 L400.77,148.8 L401.11,148.8 L401.44,148.8 L401.78,148.8 L401.84,148.8 L402.51,148.43 L403.18,148.16 L403.85,147.95 L404.52,147.78 L405.19,147.64 L405.86,147.51 L406.53,147.4 L407.2,147.3 L407.86,147.21 L408.53,147.12 L409.2,147.03 L409.87,146.95 L410.54,146.86 L411.21,146.78 L411.88,146.7 L412.55,146.62 L413.22,146.54 L413.89,146.46 L414.55,146.38 L415.22,146.3 L415.89,146.22 L416.56,146.14 L417.23,146.06 L417.9,145.98 L418.57,145.9 L419.24,145.82 L419.91,145.74 L420.58,145.67 L421.24,145.59 L421.91,145.51 L422.58,145.43 L423.25,145.36 L423.92,145.28 L424.59,145.2 L425.26,145.13 L425.93,145.05 L426.6,144.97 L427.27,144.9 L427.93,144.82 L428.6,144.75 L429.27,144.67 L429.94,144.6 L430.61,144.52 L431.28,144.45 L431.95,144.38 L432.62,144.3 L433.29,144.23 L433.96,144.15 L434.62,144.08 L435.29,144.01 L435.96,143.94 L436.63,143.86 L437.3,143.79 L437.97,143.72 L438.64,143.65 L439.31,143.57 L439.98,143.5 L440.65,143.43 L441.31,143.36 L441.98,143.29 L442.65,143.22 L443.32,143.15 L443.99,143.08 L444.66,143.01 L445.33,142.94 L446,142.87 L446.67,142.8 L447.34,142.73 L448,142.66 L448.67,142.59 L449.34,142.52 L450.01,142.46 L450.68,142.39 L451.35,142.32 L452.02,142.25 L452.69,142.19 L453.36,142.12 L454.03,142.05 L454.69,141.98 L455.36,141.92 L456.03,141.85 L456.7,141.78 L457.37,141.72 L458.04,141.65 L458.71,141.59 L459.38,141.52 L460.05,141.46 L460.72,141.39 L461.38,141.33 L462.05,141.26 L462.72,141.2 L463.39,141.13 L464.06,141.07 L464.73,141 L465.4,140.94 L466.07,140.88 L466.74,140.81 L467.41,140.75 L468.07,140.69 L468.74,140.62 L469.41,140.56 L470.08,140.5 L470.75,140.44 L471.42,140.38 L472.09,140.31 L472.76,140.25 L473.43,140.19 L474.5,130.15 L475.03,125.84 L475.57,133.02 L476.37,139.33 L477.44,139.9 L478.11,139.92 L479.45,139.96 L480.79,140 L482.12,140.04 L483.46,140.08 L484.8,140.12 L486.14,140.16 L487.48,140.2 L488.81,140.24 L490.15,140.28 L491.49,140.32 L492.83,140.35 L494.17,140.39 L495.5,140.43 L496.84,140.47 L498.18,140.51 L499.52,140.54 L500.86,140.58 L502.19,140.62 L503.53,140.66 L504.87,140.69 L506.21,140.73 L507.55,140.77 L508.88,140.8 L510.22,140.84 L511.56,140.88 L512.9,140.91 L514.24,140.95 L515.57,140.98 L516.91,141.02 L518.25,141.06 L519.59,141.09 L520.93,141.13 L522.26,141.16 L523.6,141.2 L524.94,141.23 L526.28,141.27 L527.62,141.3 L528.95,141.34 L530.29,141.37 L531.63,141.4 L532.97,141.44 L534.31,141.47 L535.64,141.51 L536.98,141.54 L538.32,141.57 L539.66,141.61 L541,141.64 L542.33,141.67 L543.67,141.71 L545.01,141.74 L546.35,141.77 L547.69,141.8 L549.02,141.84 L550.36,141.87 L551.7,141.9 L553.04,141.93 L554.38,141.97 L555.71,142 L557.05,142.03 L558.39,142.06 L559.73,142.09 L561.07,142.12 L562.4,142.15 L563.74,142.19 L565.08,142.22 L566.42,142.25 L567.76,142.28 L569.09,142.31 L570.43,142.34 L571.77,142.37 L573.11,142.4 L574.45,142.43 L575.78,142.46 L577.12,142.49 L578.46,142.52 L579.8,142.55 L581.14,142.58 L582.47,142.61 L583.81,142.64 L585.15,142.67 L586.49,142.7 L587.83,142.72 L589.16,142.75 L590.1,142.77" fill="none" stroke="#33dd33" stroke-width="1.1" stroke-linejoin="round"/>
<path d="M389.4,148.8 L389.73,148.8 L390.07,148.8 L390.4,148.8 L390.74,148.8 L391.07,148.8 L391.41,148.8 L391.74,148.8 L392.08,148.8 L392.41,148.8 L392.75,148.8 L393.08,148.8 L393.41,148.8 L393.75,148.8 L394.08,148.8 L394.42,148.8 L394.75,148.8 L395.09,148.8 L395.42,148.8 L395.76,148.8 L396.09,148.8 L396.42,148.8 L396.76,148.8 L397.09,148.8 L397.43,148.8 L397.76,148.8 L398.1,148.8 L398.43,148.8 L398.77,148.8 L399.1,148.8 L399.44,148.8 L399.77,148.8 L400.1,148.8 L400.44,148.8 L400.77,148.8 L401.11,148.8 L401.44,148.8 L401.78,148.8 L401.84,148.8 L402.51,148.56 L403.18,148.39 L403.85,148.26 L404.52,148.15 L405.19,148.07 L405.86,148 L406.53,147.94 L407.2,147.88 L407.86,147.82 L408.53,147.77 L409.2,147.72 L409.87,147.68 L410.54,147.63 L411.21,147.58 L411.88,147.54 L412.55,147.49 L413.22,147.45 L413.89,147.4 L414.55,147.36 L415.22,147.31 L415.89,147.27 L416.56,147.22 L417.23,147.18 L417.9,147.14 L418.57,147.09 L419.24,147.05 L419.91,147.01 L420.58,146.96 L421.24,146.92 L421.91,146.88 L422.58,146.83 L423.25,146.79 L423.92,146.75 L424.59,146.71 L425.26,146.66 L425.93,146.62 L426.6,146.58 L427.27,146.54 L427.93,146.49 L428.6,146.45 L429.27,146.41 L429.94,146.37 L430.61,146.33 L431.28,146.29 L431.95,146.25 L432.62,146.2 L433.29,146.16 L433.96,146.12 L434.62,146.08 L435.29,146.04 L435.96,146 L436.63,145.96 L437.3,145.92 L437.97,145.88 L438.64,145.84 L439.31,145.8 L439.98,145.76 L440.65,145.72 L441.31,145.68 L441.98,145.64 L442.65,145.6 L443.32,145.56 L443.99,145.53 L444.66,145.49 L445.33,145.45 L446,145.41 L446.67,145.37 L447.34,145.33 L448,145.29 L448.67,145.26 L449.34,145.22 L450.01,145.18 L450.68,145.14 L451.35,145.1 L452.02,145.07 L452.69,145.03 L453.36,144.99 L454.03,144.95 L454.69,144.92 L455.36,144.88 L456.03,144.84 L456.7,144.81 L457.37,144.77 L458.04,144.73 L458.71,144.7 L459.38,144.66 L460.05,144.62 L460.72,144.59 L461.38,144.55 L462.05,144.52 L462.72,144.48 L463.39,144.44 L464.06,144.41 L464.73,144.37 L465.4,144.34 L466.07,144.3 L466.74,144.27 L467.41,144.23 L468.07,144.2 L468.74,144.16 L469.41,144.13 L470.08,144.09 L470.75,144.06 L471.42,144.02 L472.09,143.99 L472.76,143.96 L473.43,143.92 L474.5,137.32 L475.03,134.16 L475.57,138.75 L476.37,144.21 L477.44,144.61 L478.11,144.63 L479.45,144.66 L480.79,144.7 L482.12,144.73 L483.46,144.76 L484.8,144.8 L486.14,144.83 L487.48,144.86 L488.81,144.9 L490.15,144.93 L491.49,144.96 L492.83,145 L494.17,145.03 L495.5,145.06 L496.84,145.1 L498.18,145.13 L499.52,145.16 L500.86,145.19 L502.19,145.23 L503.53,145.26 L504.87,145.29 L506.21,145.32 L507.55,145.35 L508.88,145.38 L510.22,145.42 L511.56,145.45 L512.9,145.48 L514.24,145.51 L515.57,145.54 L516.91,145.57 L518.25,145.6 L519.59,145.63 L520.93,145.66 L522.26,145.69 L523.6,145.72 L524.94,145.75 L526.28,145.78 L527.62,145.81 L528.95,145.84 L530.29,145.87 L531.63,145.9 L532.97,145.93 L534.31,145.96 L535.64,145.99 L536.98,146.02 L538.32,146.05 L539.66,146.07 L541,146.1 L542.33,146.13 L543.67,146.16 L545.01,146.19 L546.35,146.22 L547.69,146.24 L549.02,146.27 L550.36,146.3 L551.7,146.33 L553.04,146.36 L554.38,146.38 L555.71,146.41 L557.05,146.44 L558.39,146.47 L559.73,146.49 L561.07,146.52 L562.4,146.55 L563.74,146.57 L565.08,146.6 L566.42,146.63 L567.76,146.65 L569.09,146.68 L570.43,146.7 L571.77,146.73 L573.11,146.76 L574.45,146.78 L575.78,146.81 L577.12,146.83 L578.46,146.86 L579.8,146.89 L581.14,146.91 L582.47,146.94 L583.81,146.96 L585.15,146.99 L586.49,147.01 L587.83,147.04 L589.16,147.06 L590.1,147.08" fill="none" stroke="#f5a862" stroke-width="1.1" stroke-linejoin="round"/>
<path d="M389.4,148.8 L389.73,148.8 L390.07,148.8 L390.4,148.8 L390.74,148.8 L391.07,148.8 L391.41,148.8 L391.74,148.8 L392.08,148.8 L392.41,148.8 L392.75,148.8 L393.08,148.8 L393.41,148.8 L393.75,148.8 L394.08,148.8 L394.42,148.8 L394.75,148.8 L395.09,148.8 L395.42,148.8 L395.76,148.8 L396.09,148.8 L396.42,148.8 L396.76,148.8 L397.09,148.8 L397.43,148.8 L397.76,148.8 L398.1,148.8 L398.43,148.8 L398.77,148.8 L399.1,148.8 L399.44,148.8 L399.77,148.8 L400.1,148.8 L400.44,148.8 L400.77,148.8 L401.11,148.8 L401.44,148.8 L401.78,148.8 L401.84,148.8 L402.51,148.69 L403.18,148.6 L403.85,148.54 L404.52,148.5 L405.19,148.46 L405.86,148.43 L406.53,148.4 L407.2,148.38 L407.86,148.35 L408.53,148.33 L409.2,148.31 L409.87,148.29 L410.54,148.27 L411.21,148.26 L411.88,148.24 L412.55,148.22 L413.22,148.2 L413.89,148.18 L414.55,148.17 L415.22,148.15 L415.89,148.13 L416.56,148.11 L417.23,148.09 L417.9,148.08 L418.57,148.06 L419.24,148.04 L419.91,148.03 L420.58,148.01 L421.24,147.99 L421.91,147.97 L422.58,147.96 L423.25,147.94 L423.92,147.92 L424.59,147.9 L425.26,147.89 L425.93,147.87 L426.6,147.85 L427.27,147.84 L427.93,147.82 L428.6,147.8 L429.27,147.79 L429.94,147.77 L430.61,147.75 L431.28,147.74 L431.95,147.72 L432.62,147.7 L433.29,147.69 L433.96,147.67 L434.62,147.66 L435.29,147.64 L435.96,147.62 L436.63,147.61 L437.3,147.59 L437.97,147.58 L438.64,147.56 L439.31,147.54 L439.98,147.53 L440.65,147.51 L441.31,147.5 L441.98,147.48 L442.65,147.46 L443.32,147.45 L443.99,147.43 L444.66,147.42 L445.33,147.4 L446,147.39 L446.67,147.37 L447.34,147.36 L448,147.34 L448.67,147.33 L449.34,147.31 L450.01,147.29 L450.68,147.28 L451.35,147.26 L452.02,147.25 L452.69,147.23 L453.36,147.22 L454.03,147.2 L454.69,147.19 L455.36,147.17 L456.03,147.16 L456.7,147.15 L457.37,147.13 L458.04,147.12 L458.71,147.1 L459.38,147.09 L460.05,147.07 L460.72,147.06 L461.38,147.04 L462.05,147.03 L462.72,147.01 L463.39,147 L464.06,146.99 L464.73,146.97 L465.4,146.96 L466.07,146.94 L466.74,146.93 L467.41,146.92 L468.07,146.9 L468.74,146.89 L469.41,146.87 L470.08,146.86 L470.75,146.85 L471.42,146.83 L472.09,146.82 L472.76,146.8 L473.43,146.79 L474.5,144.21 L475.03,142.49 L475.57,144.78 L476.37,147.08 L477.44,147.37 L478.11,147.38 L479.45,147.4 L480.79,147.42 L482.12,147.45 L483.46,147.47 L484.8,147.5 L486.14,147.52 L487.48,147.54 L488.81,147.57 L490.15,147.59 L491.49,147.61 L492.83,147.64 L494.17,147.66 L495.5,147.68 L496.84,147.7 L498.18,147.73 L499.52,147.75 L500.86,147.77 L502.19,147.79 L503.53,147.82 L504.87,147.84 L506.21,147.86 L507.55,147.88 L508.88,147.91 L510.22,147.93 L511.56,147.95 L512.9,147.97 L514.24,147.99 L515.57,148.01 L516.91,148.04 L518.25,148.06 L519.59,148.08 L520.93,148.1 L522.26,148.12 L523.6,148.14 L524.94,148.16 L526.28,148.18 L527.62,148.2 L528.95,148.22 L530.29,148.25 L531.63,148.27 L532.97,148.29 L534.31,148.31 L535.64,148.33 L536.98,148.35 L538.32,148.37 L539.66,148.39 L541,148.41 L542.33,148.43 L543.67,148.45 L545.01,148.47 L546.35,148.49 L547.69,148.51 L549.02,148.53 L550.36,148.54 L551.7,148.56 L553.04,148.58 L554.38,148.6 L555.71,148.62 L557.05,148.64 L558.39,148.66 L559.73,148.68 L561.07,148.7 L562.4,148.72 L563.74,148.73 L565.08,148.75 L566.42,148.77 L567.76,148.79 L569.09,148.81 L570.43,148.83 L571.77,148.84 L573.11,148.86 L574.45,148.88 L575.78,148.9 L577.12,148.92 L578.46,148.93 L579.8,148.95 L581.14,148.97 L582.47,148.99 L583.81,149.01 L585.15,149.02 L586.49,149.04 L587.83,149.06 L589.16,149.07 L590.1,149.09" fill="none" stroke="#b455ee" stroke-width="1.1" stroke-linejoin="round"/>
<line x1="43.2" y1="244" x2="43.2" y2="369.9" stroke="#333" stroke-width="1"/>
<line x1="43.2" y1="364.6" x2="244.4" y2="364.6" stroke="#222" stroke-width="1"/>
<line x1="37.2" y1="362.1" x2="43.2" y2="362.1" stroke="#333" stroke-width="1"/>
<text x="35" y="365.1" text-anchor="end">0</text>
<line x1="40.2" y1="347.4" x2="43.2" y2="347.4" stroke="#333" stroke-width="1"/>
<line x1="37.2" y1="332.7" x2="43.2" y2="332.7" stroke="#333" stroke-width="1"/>
<text x="35" y="335.7" text-anchor="end">100</text>
<line x1="40.2" y1="318" x2="43.2" y2="318" stroke="#333" stroke-width="1"/>
<line x1="37.2" y1="303.3" x2="43.2" y2="303.3" stroke="#333" stroke-width="1"/>
<text x="35" y="306.3" text-anchor="end">200</text>
<line x1="40.2" y1="288.6" x2="43.2" y2="288.6" stroke="#333" stroke-width="1"/>
<line x1="37.2" y1="273.9" x2="43.2" y2="273.9" stroke="#333" stroke-width="1"/>
<text x="35" y="276.9" text-anchor="end">300</text>
<line x1="40.2" y1="259.2" x2="43.2" y2="259.2" stroke="#333" stroke-width="1"/>
<line x1="37.2" y1="244.5" x2="43.2" y2="244.5" stroke="#333" stroke-width="1"/>
<text x="35" y="247.5" text-anchor="end">400</text>
<line x1="43.2" y1="364.6" x2="43.2" y2="369.9" stroke="#222" stroke-width="1"/>
<text x="43.2" y="380.9" text-anchor="middle">0</text>
<line x1="76.65" y1="364.6" x2="76.65" y2="367.6" stroke="#222" stroke-width="1"/>
<line x1="110.1" y1="364.6" x2="110.1" y2="369.9" stroke="#222" stroke-width="1"/>
<text x="110.1" y="380.9" text-anchor="middle">100</text>
<line x1="143.55" y1="364.6" x2="143.55" y2="367.6" stroke="#222" stroke-width="1"/>
<line x1="177" y1="364.6" x2="177" y2="369.9" stroke="#222" stroke-width="1"/>
<text x="177" y="380.9" text-anchor="middle">200</text>
<line x1="210.45" y1="364.6" x2="210.45" y2="367.6" stroke="#222" stroke-width="1"/>
<line x1="243.9" y1="364.6" x2="243.9" y2="369.9" stroke="#222" stroke-width="1"/>
<text x="243.9" y="380.9" text-anchor="middle">300</text>
<text x="143.25" y="391.3" text-anchor="middle">Time (s)</text>
<text x="18.4" y="308.2" text-anchor="middle" transform="rotate(-90 18.4 308.2)">Response (RU)</text>
<text x="143.5" y="229" text-anchor="middle">PKM2_ALDOA + circPETH-147aa</text>
<text x="56.7" y="256.1" font-size="8.7"><tspan font-style="italic">K</tspan><tspan font-style="italic" font-size="6.3" dy="2.3">D</tspan><tspan dy="-2.3"> = 12.71 ± 7.26 nM</tspan></text>
<line x1="254.5" y1="258.9" x2="276.5" y2="258.9" stroke="#ff2b2b" stroke-width="1.1"/>
<text x="288.1" y="261.9">1000 nM</text>
<line x1="254.5" y1="278.1" x2="276.5" y2="278.1" stroke="#52aec0" stroke-width="1.1"/>
<text x="288.1" y="281.1">500 nM</text>
<line x1="254.5" y1="297.3" x2="276.5" y2="297.3" stroke="#a07850" stroke-width="1.1"/>
<text x="288.1" y="300.3">250 nM</text>
<line x1="254.5" y1="316.5" x2="276.5" y2="316.5" stroke="#33dd33" stroke-width="1.1"/>
<text x="288.1" y="319.5">125 nM</text>
<line x1="254.5" y1="335.7" x2="276.5" y2="335.7" stroke="#f5a862" stroke-width="1.1"/>
<text x="288.1" y="338.7">62.5 nM</text>
<line x1="254.5" y1="354.9" x2="276.5" y2="354.9" stroke="#b455ee" stroke-width="1.1"/>
<text x="288.1" y="357.9">31.25 nM</text>
<path d="M43.2,362.1 L43.53,362.1 L43.87,362.1 L44.2,362.1 L44.54,362.1 L44.87,362.1 L45.21,362.1 L45.54,362.1 L45.88,362.1 L46.21,362.1 L46.55,362.1 L46.88,362.1 L47.21,362.1 L47.55,362.1 L47.88,362.1 L48.22,362.1 L48.55,362.1 L48.89,362.1 L49.22,362.1 L49.56,362.1 L49.89,362.1 L50.22,362.1 L50.56,362.1 L50.56,362.1 L51.23,360.74 L51.9,359.4 L52.57,358.07 L53.23,356.75 L53.9,355.45 L54.57,354.17 L55.24,352.9 L55.91,351.65 L56.58,350.41 L57.25,349.18 L57.92,347.97 L58.59,346.77 L59.26,345.58 L59.93,344.41 L60.59,343.26 L61.26,342.11 L61.93,340.98 L62.6,339.86 L63.27,338.76 L63.94,337.66 L64.61,336.58 L65.28,335.51 L65.95,334.46 L66.62,333.41 L67.28,332.38 L67.95,331.36 L68.62,330.35 L69.29,329.36 L69.96,328.37 L70.63,327.4 L71.3,326.43 L71.97,325.48 L72.64,324.54 L73.31,323.61 L73.97,322.69 L74.64,321.78 L75.31,320.88 L75.98,319.99 L76.65,319.11 L77.32,318.25 L77.99,317.39 L78.66,316.54 L79.33,315.7 L80,314.87 L80.66,314.05 L81.33,313.24 L82,312.44 L82.67,311.65 L83.34,310.86 L84.01,310.09 L84.68,309.32 L85.35,308.57 L86.02,307.82 L86.69,307.08 L87.35,306.35 L88.02,305.63 L88.69,304.91 L89.36,304.21 L90.03,303.51 L90.7,302.82 L91.37,302.14 L92.04,301.46 L92.71,300.8 L93.38,300.14 L94.04,299.49 L94.71,298.84 L95.38,298.21 L96.05,297.58 L96.72,296.95 L97.39,296.34 L98.06,295.73 L98.73,295.13 L99.4,294.54 L100.06,293.95 L100.73,293.37 L101.4,292.79 L102.07,292.23 L102.74,291.66 L103.41,291.11 L104.08,290.56 L104.75,290.02 L105.42,289.48 L106.09,288.95 L106.76,288.43 L107.42,287.91 L108.09,287.4 L108.76,286.9 L109.43,286.4 L110.1,285.9 L110.77,285.41 L111.44,284.93 L112.11,284.45 L112.78,283.98 L113.45,283.51 L114.11,283.05 L114.78,282.6 L115.45,282.15 L116.12,281.7 L116.79,281.26 L117.46,280.82 L118.13,280.39 L118.8,279.97 L119.47,279.55 L120.14,279.13 L120.8,278.72 L121.47,278.31 L122.14,277.91 L122.81,277.51 L123.48,277.12 L124.15,276.73 L124.82,276.35 L125.49,275.97 L126.16,275.59 L126.83,275.22 L127.49,274.86 L128.16,274.49 L128.83,274.14 L129.5,273.78 L129.84,273.61 L130.17,276.84 L130.5,282.43 L131.51,273.9 L132.51,272.28 L133.18,272.33 L134.52,272.42 L135.86,272.51 L137.19,272.6 L138.53,272.69 L139.87,272.77 L141.21,272.86 L142.55,272.94 L143.88,273.03 L145.22,273.11 L146.56,273.19 L147.9,273.27 L149.24,273.35 L150.57,273.43 L151.91,273.51 L153.25,273.59 L154.59,273.66 L155.93,273.74 L157.26,273.81 L158.6,273.89 L159.94,273.96 L161.28,274.03 L162.62,274.1 L163.95,274.17 L165.29,274.24 L166.63,274.31 L167.97,274.37 L169.31,274.44 L170.64,274.51 L171.98,274.57 L173.32,274.64 L174.66,274.7 L176,274.76 L177.33,274.82 L178.67,274.89 L180.01,274.95 L181.35,275.01 L182.69,275.07 L184.02,275.12 L185.36,275.18 L186.7,275.24 L188.04,275.29 L189.38,275.35 L190.71,275.41 L192.05,275.46 L193.39,275.51 L194.73,275.57 L196.07,275.62 L197.4,275.67 L198.74,275.72 L200.08,275.77 L201.42,275.82 L202.76,275.87 L204.09,275.92 L205.43,275.97 L206.77,276.02 L208.11,276.06 L209.45,276.11 L210.78,276.16 L212.12,276.2 L213.46,276.25 L214.8,276.29 L216.14,276.33 L217.47,276.38 L218.81,276.42 L220.15,276.46 L221.49,276.5 L222.83,276.55 L224.16,276.59 L225.5,276.63 L226.84,276.67 L228.18,276.71 L229.52,276.74 L230.85,276.78 L232.19,276.82 L233.53,276.86 L234.87,276.9 L236.21,276.93 L237.54,276.97 L238.88,277 L240.22,277.04 L241.56,277.07 L242.9,277.11 L243.9,277.13" fill="none" stroke="#ff2b2b" stroke-width="1.1" stroke-linejoin="round"/>
<path d="M43.2,362.1 L43.53,362.1 L43.87,362.1 L44.2,362.1 L44.54,362.1 L44.87,362.1 L45.21,362.1 L45.54,362.1 L45.88,362.1 L46.21,362.1 L46.55,362.1 L46.88,362.1 L47.21,362.1 L47.55,362.1 L47.88,362.1 L48.22,362.1 L48.55,362.1 L48.89,362.1 L49.22,362.1 L49.56,362.1 L49.89,362.1 L50.22,362.1 L50.56,362.1 L50.56,362.1 L51.23,361.39 L51.9,360.69 L52.57,359.99 L53.23,359.3 L53.9,358.61 L54.57,357.93 L55.24,357.25 L55.91,356.58 L56.58,355.91 L57.25,355.24 L57.92,354.58 L58.59,353.93 L59.26,353.28 L59.93,352.63 L60.59,351.99 L61.26,351.35 L61.93,350.72 L62.6,350.09 L63.27,349.47 L63.94,348.85 L64.61,348.23 L65.28,347.62 L65.95,347.02 L66.62,346.41 L67.28,345.82 L67.95,345.22 L68.62,344.63 L69.29,344.05 L69.96,343.46 L70.63,342.89 L71.3,342.31 L71.97,341.74 L72.64,341.18 L73.31,340.62 L73.97,340.06 L74.64,339.5 L75.31,338.95 L75.98,338.41 L76.65,337.87 L77.32,337.33 L77.99,336.79 L78.66,336.26 L79.33,335.73 L80,335.21 L80.66,334.69 L81.33,334.17 L82,333.66 L82.67,333.15 L83.34,332.65 L84.01,332.14 L84.68,331.65 L85.35,331.15 L86.02,330.66 L86.69,330.17 L87.35,329.69 L88.02,329.2 L88.69,328.73 L89.36,328.25 L90.03,327.78 L90.7,327.31 L91.37,326.85 L92.04,326.39 L92.71,325.93 L93.38,325.47 L94.04,325.02 L94.71,324.57 L95.38,324.13 L96.05,323.68 L96.72,323.24 L97.39,322.81 L98.06,322.37 L98.73,321.94 L99.4,321.51 L100.06,321.09 L100.73,320.67 L101.4,320.25 L102.07,319.83 L102.74,319.42 L103.41,319.01 L104.08,318.6 L104.75,318.2 L105.42,317.8 L106.09,317.4 L106.76,317.01 L107.42,316.61 L108.09,316.22 L108.76,315.83 L109.43,315.45 L110.1,315.07 L110.77,314.69 L111.44,314.31 L112.11,313.94 L112.78,313.57 L113.45,313.2 L114.11,312.83 L114.78,312.47 L115.45,312.1 L116.12,311.75 L116.79,311.39 L117.46,311.04 L118.13,310.68 L118.8,310.34 L119.47,309.99 L120.14,309.64 L120.8,309.3 L121.47,308.96 L122.14,308.63 L122.81,308.29 L123.48,307.96 L124.15,307.63 L124.82,307.3 L125.49,306.98 L126.16,306.65 L126.83,306.33 L127.49,306.01 L128.16,305.7 L128.83,305.38 L129.5,305.07 L129.84,304.92 L130.5,304.48 L131.84,305.06 L132.51,305.08 L133.85,305.12 L135.19,305.16 L136.53,305.2 L137.86,305.23 L139.2,305.27 L140.54,305.31 L141.88,305.34 L143.22,305.38 L144.55,305.41 L145.89,305.45 L147.23,305.48 L148.57,305.52 L149.91,305.55 L151.24,305.58 L152.58,305.61 L153.92,305.65 L155.26,305.68 L156.6,305.71 L157.93,305.74 L159.27,305.77 L160.61,305.8 L161.95,305.83 L163.29,305.86 L164.62,305.89 L165.96,305.92 L167.3,305.95 L168.64,305.98 L169.98,306 L171.31,306.03 L172.65,306.06 L173.99,306.09 L175.33,306.11 L176.67,306.14 L178,306.16 L179.34,306.19 L180.68,306.22 L182.02,306.24 L183.36,306.27 L184.69,306.29 L186.03,306.31 L187.37,306.34 L188.71,306.36 L190.05,306.38 L191.38,306.41 L192.72,306.43 L194.06,306.45 L195.4,306.47 L196.74,306.5 L198.07,306.52 L199.41,306.54 L200.75,306.56 L202.09,306.58 L203.43,306.6 L204.76,306.62 L206.1,306.64 L207.44,306.66 L208.78,306.68 L210.12,306.7 L211.45,306.72 L212.79,306.74 L214.13,306.76 L215.47,306.78 L216.81,306.8 L218.14,306.81 L219.48,306.83 L220.82,306.85 L222.16,306.87 L223.5,306.88 L224.83,306.9 L226.17,306.92 L227.51,306.93 L228.85,306.95 L230.19,306.97 L231.52,306.98 L232.86,307 L234.2,307.01 L235.54,307.03 L236.88,307.04 L238.21,307.06 L239.55,307.07 L240.89,307.09 L242.23,307.1 L243.57,307.12 L243.9,307.12" fill="none" stroke="#52aec0" stroke-width="1.1" stroke-linejoin="round"/>
<path d="M43.2,362.1 L43.53,362.1 L43.87,362.1 L44.2,362.1 L44.54,362.1 L44.87,362.1 L45.21,362.1 L45.54,362.1 L45.88,362.1 L46.21,362.1 L46.55,362.1 L46.88,362.1 L47.21,362.1 L47.55,362.1 L47.88,362.1 L48.22,362.1 L48.55,362.1 L48.89,362.1 L49.22,362.1 L49.56,362.1 L49.89,362.1 L50.22,362.1 L50.56,362.1 L50.56,362.1 L51.23,361.74 L51.9,361.37 L52.57,361.01 L53.23,360.65 L53.9,360.3 L54.57,359.94 L55.24,359.58 L55.91,359.23 L56.58,358.88 L57.25,358.53 L57.92,358.18 L58.59,357.83 L59.26,357.48 L59.93,357.14 L60.59,356.79 L61.26,356.45 L61.93,356.11 L62.6,355.77 L63.27,355.43 L63.94,355.09 L64.61,354.76 L65.28,354.42 L65.95,354.09 L66.62,353.76 L67.28,353.43 L67.95,353.1 L68.62,352.77 L69.29,352.45 L69.96,352.12 L70.63,351.8 L71.3,351.47 L71.97,351.15 L72.64,350.83 L73.31,350.51 L73.97,350.2 L74.64,349.88 L75.31,349.56 L75.98,349.25 L76.65,348.94 L77.32,348.63 L77.99,348.32 L78.66,348.01 L79.33,347.7 L80,347.39 L80.66,347.09 L81.33,346.79 L82,346.48 L82.67,346.18 L83.34,345.88 L84.01,345.58 L84.68,345.28 L85.35,344.99 L86.02,344.69 L86.69,344.4 L87.35,344.11 L88.02,343.81 L88.69,343.52 L89.36,343.23 L90.03,342.94 L90.7,342.66 L91.37,342.37 L92.04,342.09 L92.71,341.8 L93.38,341.52 L94.04,341.24 L94.71,340.96 L95.38,340.68 L96.05,340.4 L96.72,340.12 L97.39,339.85 L98.06,339.57 L98.73,339.3 L99.4,339.02 L100.06,338.75 L100.73,338.48 L101.4,338.21 L102.07,337.94 L102.74,337.68 L103.41,337.41 L104.08,337.15 L104.75,336.88 L105.42,336.62 L106.09,336.36 L106.76,336.1 L107.42,335.84 L108.09,335.58 L108.76,335.32 L109.43,335.06 L110.1,334.81 L110.77,334.55 L111.44,334.3 L112.11,334.05 L112.78,333.79 L113.45,333.54 L114.11,333.29 L114.78,333.04 L115.45,332.8 L116.12,332.55 L116.79,332.3 L117.46,332.06 L118.13,331.81 L118.8,331.57 L119.47,331.33 L120.14,331.09 L120.8,330.85 L121.47,330.61 L122.14,330.37 L122.81,330.14 L123.48,329.9 L124.15,329.66 L124.82,329.43 L125.49,329.2 L126.16,328.96 L126.83,328.73 L127.49,328.5 L128.16,328.27 L128.83,328.04 L129.5,327.82 L129.84,327.7 L130.1,323.29 L130.84,327.26 L131.84,327.7 L132.51,327.72 L133.85,327.74 L135.19,327.77 L136.53,327.8 L137.86,327.82 L139.2,327.85 L140.54,327.88 L141.88,327.9 L143.22,327.93 L144.55,327.95 L145.89,327.98 L147.23,328 L148.57,328.02 L149.91,328.05 L151.24,328.07 L152.58,328.1 L153.92,328.12 L155.26,328.14 L156.6,328.16 L157.93,328.19 L159.27,328.21 L160.61,328.23 L161.95,328.25 L163.29,328.27 L164.62,328.29 L165.96,328.31 L167.3,328.33 L168.64,328.35 L169.98,328.37 L171.31,328.39 L172.65,328.41 L173.99,328.43 L175.33,328.45 L176.67,328.47 L178,328.49 L179.34,328.51 L180.68,328.52 L182.02,328.54 L183.36,328.56 L184.69,328.58 L186.03,328.59 L187.37,328.61 L188.71,328.63 L190.05,328.64 L191.38,328.66 L192.72,328.68 L194.06,328.69 L195.4,328.71 L196.74,328.73 L198.07,328.74 L199.41,328.76 L200.75,328.77 L202.09,328.79 L203.43,328.8 L204.76,328.82 L206.1,328.83 L207.44,328.84 L208.78,328.86 L210.12,328.87 L211.45,328.89 L212.79,328.9 L214.13,328.91 L215.47,328.93 L216.81,328.94 L218.14,328.95 L219.48,328.96 L220.82,328.98 L222.16,328.99 L223.5,329 L224.83,329.01 L226.17,329.03 L227.51,329.04 L228.85,329.05 L230.19,329.06 L231.52,329.07 L232.86,329.08 L234.2,329.09 L235.54,329.11 L236.88,329.12 L238.21,329.13 L239.55,329.14 L240.89,329.15 L242.23,329.16 L243.57,329.17 L243.9,329.17" fill="none" stroke="#a07850" stroke-width="1.1" stroke-linejoin="round"/>
<path d="M43.2,362.1 L43.53,362.1 L43.87,362.1 L44.2,362.1 L44.54,362.1 L44.87,362.1 L45.21,362.1 L45.54,362.1 L45.88,362.1 L46.21,362.1 L46.55,362.1 L46.88,362.1 L47.21,362.1 L47.55,362.1 L47.88,362.1 L48.22,362.1 L48.55,362.1 L48.89,362.1 L49.22,362.1 L49.56,362.1 L49.89,362.1 L50.22,362.1 L50.56,362.1 L50.56,362.1 L51.23,361.9 L51.9,361.71 L52.57,361.51 L53.23,361.31 L53.9,361.12 L54.57,360.93 L55.24,360.73 L55.91,360.54 L56.58,360.35 L57.25,360.15 L57.92,359.96 L58.59,359.77 L59.26,359.58 L59.93,359.39 L60.59,359.2 L61.26,359.01 L61.93,358.83 L62.6,358.64 L63.27,358.45 L63.94,358.27 L64.61,358.08 L65.28,357.89 L65.95,357.71 L66.62,357.53 L67.28,357.34 L67.95,357.16 L68.62,356.98 L69.29,356.8 L69.96,356.61 L70.63,356.43 L71.3,356.25 L71.97,356.07 L72.64,355.89 L73.31,355.72 L73.97,355.54 L74.64,355.36 L75.31,355.18 L75.98,355.01 L76.65,354.83 L77.32,354.65 L77.99,354.48 L78.66,354.31 L79.33,354.13 L80,353.96 L80.66,353.79 L81.33,353.61 L82,353.44 L82.67,353.27 L83.34,353.1 L84.01,352.93 L84.68,352.76 L85.35,352.59 L86.02,352.42 L86.69,352.25 L87.35,352.09 L88.02,351.92 L88.69,351.75 L89.36,351.59 L90.03,351.42 L90.7,351.25 L91.37,351.09 L92.04,350.93 L92.71,350.76 L93.38,350.6 L94.04,350.44 L94.71,350.27 L95.38,350.11 L96.05,349.95 L96.72,349.79 L97.39,349.63 L98.06,349.47 L98.73,349.31 L99.4,349.15 L100.06,348.99 L100.73,348.83 L101.4,348.68 L102.07,348.52 L102.74,348.36 L103.41,348.21 L104.08,348.05 L104.75,347.9 L105.42,347.74 L106.09,347.59 L106.76,347.43 L107.42,347.28 L108.09,347.13 L108.76,346.98 L109.43,346.82 L110.1,346.67 L110.77,346.52 L111.44,346.37 L112.11,346.22 L112.78,346.07 L113.45,345.92 L114.11,345.77 L114.78,345.62 L115.45,345.48 L116.12,345.33 L116.79,345.18 L117.46,345.04 L118.13,344.89 L118.8,344.74 L119.47,344.6 L120.14,344.45 L120.8,344.31 L121.47,344.17 L122.14,344.02 L122.81,343.88 L123.48,343.74 L124.15,343.59 L124.82,343.45 L125.49,343.31 L126.16,343.17 L126.83,343.03 L127.49,342.89 L128.16,342.75 L128.83,342.61 L129.5,342.47 L129.84,342.4 L130.1,334.76 L130.84,342.43 L131.84,343.28 L132.51,343.28 L133.85,343.28 L135.19,343.28 L136.53,343.28 L137.86,343.28 L139.2,343.28 L140.54,343.28 L141.88,343.28 L143.22,343.28 L144.55,343.28 L145.89,343.28 L147.23,343.28 L148.57,343.28 L149.91,343.28 L151.24,343.28 L152.58,343.28 L153.92,343.28 L155.26,343.28 L156.6,343.28 L157.93,343.28 L159.27,343.28 L160.61,343.28 L161.95,343.28 L163.29,343.28 L164.62,343.28 L165.96,343.28 L167.3,343.28 L168.64,343.28 L169.98,343.28 L171.31,343.28 L172.65,343.28 L173.99,343.28 L175.33,343.28 L176.67,343.28 L178,343.28 L179.34,343.28 L180.68,343.28 L182.02,343.28 L183.36,343.28 L184.69,343.28 L186.03,343.28 L187.37,343.28 L188.71,343.28 L190.05,343.28 L191.38,343.28 L192.72,343.28 L194.06,343.28 L195.4,343.28 L196.74,343.28 L198.07,343.28 L199.41,343.28 L200.75,343.28 L202.09,343.28 L203.43,343.28 L204.76,343.28 L206.1,343.28 L207.44,343.28 L208.78,343.28 L210.12,343.28 L211.45,343.28 L212.79,343.28 L214.13,343.28 L215.47,343.28 L216.81,343.28 L218.14,343.28 L219.48,343.28 L220.82,343.28 L222.16,343.28 L223.5,343.28 L224.83,343.28 L226.17,343.28 L227.51,343.28 L228.85,343.28 L230.19,343.28 L231.52,343.28 L232.86,343.28 L234.2,343.28 L235.54,343.28 L236.88,343.28 L238.21,343.28 L239.55,343.28 L240.89,343.28 L242.23,343.28 L243.57,343.28 L243.9,343.28" fill="none" stroke="#33dd33" stroke-width="1.1" stroke-linejoin="round"/>
<path d="M43.2,362.1 L43.53,362.1 L43.87,362.1 L44.2,362.1 L44.54,362.1 L44.87,362.1 L45.21,362.1 L45.54,362.1 L45.88,362.1 L46.21,362.1 L46.55,362.1 L46.88,362.1 L47.21,362.1 L47.55,362.1 L47.88,362.1 L48.22,362.1 L48.55,362.1 L48.89,362.1 L49.22,362.1 L49.56,362.1 L49.89,362.1 L50.22,362.1 L50.56,362.1 L50.56,362.1 L51.23,361.99 L51.9,361.89 L52.57,361.78 L53.23,361.68 L53.9,361.57 L54.57,361.47 L55.24,361.36 L55.91,361.26 L56.58,361.16 L57.25,361.05 L57.92,360.95 L58.59,360.84 L59.26,360.74 L59.93,360.64 L60.59,360.54 L61.26,360.43 L61.93,360.33 L62.6,360.23 L63.27,360.13 L63.94,360.02 L64.61,359.92 L65.28,359.82 L65.95,359.72 L66.62,359.62 L67.28,359.52 L67.95,359.42 L68.62,359.32 L69.29,359.22 L69.96,359.12 L70.63,359.02 L71.3,358.92 L71.97,358.82 L72.64,358.72 L73.31,358.62 L73.97,358.52 L74.64,358.42 L75.31,358.32 L75.98,358.23 L76.65,358.13 L77.32,358.03 L77.99,357.93 L78.66,357.83 L79.33,357.74 L80,357.64 L80.66,357.54 L81.33,357.45 L82,357.35 L82.67,357.25 L83.34,357.16 L84.01,357.06 L84.68,356.97 L85.35,356.87 L86.02,356.77 L86.69,356.68 L87.35,356.58 L88.02,356.49 L88.69,356.4 L89.36,356.3 L90.03,356.21 L90.7,356.11 L91.37,356.02 L92.04,355.93 L92.71,355.83 L93.38,355.74 L94.04,355.65 L94.71,355.55 L95.38,355.46 L96.05,355.37 L96.72,355.28 L97.39,355.18 L98.06,355.09 L98.73,355 L99.4,354.91 L100.06,354.82 L100.73,354.73 L101.4,354.63 L102.07,354.54 L102.74,354.45 L103.41,354.36 L104.08,354.27 L104.75,354.18 L105.42,354.09 L106.09,354 L106.76,353.91 L107.42,353.82 L108.09,353.73 L108.76,353.64 L109.43,353.56 L110.1,353.47 L110.77,353.38 L111.44,353.29 L112.11,353.2 L112.78,353.11 L113.45,353.03 L114.11,352.94 L114.78,352.85 L115.45,352.76 L116.12,352.68 L116.79,352.59 L117.46,352.5 L118.13,352.42 L118.8,352.33 L119.47,352.24 L120.14,352.16 L120.8,352.07 L121.47,351.99 L122.14,351.9 L122.81,351.81 L123.48,351.73 L124.15,351.64 L124.82,351.56 L125.49,351.47 L126.16,351.39 L126.83,351.31 L127.49,351.22 L128.16,351.14 L128.83,351.05 L129.5,350.97 L129.84,350.93 L130.1,344.46 L130.84,350.81 L131.84,351.52 L132.51,351.51 L133.85,351.51 L135.19,351.5 L136.53,351.5 L137.86,351.49 L139.2,351.49 L140.54,351.48 L141.88,351.48 L143.22,351.47 L144.55,351.47 L145.89,351.46 L147.23,351.46 L148.57,351.45 L149.91,351.45 L151.24,351.44 L152.58,351.44 L153.92,351.43 L155.26,351.43 L156.6,351.42 L157.93,351.42 L159.27,351.41 L160.61,351.41 L161.95,351.41 L163.29,351.4 L164.62,351.4 L165.96,351.39 L167.3,351.39 L168.64,351.39 L169.98,351.38 L171.31,351.38 L172.65,351.37 L173.99,351.37 L175.33,351.37 L176.67,351.36 L178,351.36 L179.34,351.36 L180.68,351.35 L182.02,351.35 L183.36,351.34 L184.69,351.34 L186.03,351.34 L187.37,351.33 L188.71,351.33 L190.05,351.33 L191.38,351.32 L192.72,351.32 L194.06,351.32 L195.4,351.31 L196.74,351.31 L198.07,351.31 L199.41,351.31 L200.75,351.3 L202.09,351.3 L203.43,351.3 L204.76,351.29 L206.1,351.29 L207.44,351.29 L208.78,351.28 L210.12,351.28 L211.45,351.28 L212.79,351.28 L214.13,351.27 L215.47,351.27 L216.81,351.27 L218.14,351.27 L219.48,351.26 L220.82,351.26 L222.16,351.26 L223.5,351.26 L224.83,351.25 L226.17,351.25 L227.51,351.25 L228.85,351.25 L230.19,351.24 L231.52,351.24 L232.86,351.24 L234.2,351.24 L235.54,351.24 L236.88,351.23 L238.21,351.23 L239.55,351.23 L240.89,351.23 L242.23,351.22 L243.57,351.22 L243.9,351.22" fill="none" stroke="#f5a862" stroke-width="1.1" stroke-linejoin="round"/>
<path d="M43.2,362.1 L43.53,362.1 L43.87,362.1 L44.2,362.1 L44.54,362.1 L44.87,362.1 L45.21,362.1 L45.54,362.1 L45.88,362.1 L46.21,362.1 L46.55,362.1 L46.88,362.1 L47.21,362.1 L47.55,362.1 L47.88,362.1 L48.22,362.1 L48.55,362.1 L48.89,362.1 L49.22,362.1 L49.56,362.1 L49.89,362.1 L50.22,362.1 L50.56,362.1 L50.56,362.1 L51.23,362.04 L51.9,361.99 L52.57,361.93 L53.23,361.87 L53.9,361.82 L54.57,361.76 L55.24,361.7 L55.91,361.65 L56.58,361.59 L57.25,361.53 L57.92,361.48 L58.59,361.42 L59.26,361.37 L59.93,361.31 L60.59,361.26 L61.26,361.2 L61.93,361.15 L62.6,361.09 L63.27,361.03 L63.94,360.98 L64.61,360.93 L65.28,360.87 L65.95,360.82 L66.62,360.76 L67.28,360.71 L67.95,360.65 L68.62,360.6 L69.29,360.54 L69.96,360.49 L70.63,360.44 L71.3,360.38 L71.97,360.33 L72.64,360.28 L73.31,360.22 L73.97,360.17 L74.64,360.12 L75.31,360.06 L75.98,360.01 L76.65,359.96 L77.32,359.9 L77.99,359.85 L78.66,359.8 L79.33,359.75 L80,359.69 L80.66,359.64 L81.33,359.59 L82,359.54 L82.67,359.49 L83.34,359.43 L84.01,359.38 L84.68,359.33 L85.35,359.28 L86.02,359.23 L86.69,359.18 L87.35,359.12 L88.02,359.07 L88.69,359.02 L89.36,358.97 L90.03,358.92 L90.7,358.87 L91.37,358.82 L92.04,358.77 L92.71,358.72 L93.38,358.67 L94.04,358.62 L94.71,358.57 L95.38,358.52 L96.05,358.47 L96.72,358.42 L97.39,358.37 L98.06,358.32 L98.73,358.27 L99.4,358.22 L100.06,358.17 L100.73,358.12 L101.4,358.07 L102.07,358.02 L102.74,357.97 L103.41,357.93 L104.08,357.88 L104.75,357.83 L105.42,357.78 L106.09,357.73 L106.76,357.68 L107.42,357.63 L108.09,357.59 L108.76,357.54 L109.43,357.49 L110.1,357.44 L110.77,357.39 L111.44,357.35 L112.11,357.3 L112.78,357.25 L113.45,357.2 L114.11,357.16 L114.78,357.11 L115.45,357.06 L116.12,357.02 L116.79,356.97 L117.46,356.92 L118.13,356.88 L118.8,356.83 L119.47,356.78 L120.14,356.74 L120.8,356.69 L121.47,356.64 L122.14,356.6 L122.81,356.55 L123.48,356.51 L124.15,356.46 L124.82,356.41 L125.49,356.37 L126.16,356.32 L126.83,356.28 L127.49,356.23 L128.16,356.19 L128.83,356.14 L129.5,356.1 L129.84,356.07 L130.1,354.46 L130.84,356.04 L131.84,356.22 L132.51,356.22 L133.85,356.22 L135.19,356.22 L136.53,356.22 L137.86,356.22 L139.2,356.22 L140.54,356.22 L141.88,356.22 L143.22,356.22 L144.55,356.22 L145.89,356.22 L147.23,356.22 L148.57,356.22 L149.91,356.22 L151.24,356.22 L152.58,356.22 L153.92,356.22 L155.26,356.22 L156.6,356.22 L157.93,356.22 L159.27,356.22 L160.61,356.22 L161.95,356.22 L163.29,356.22 L164.62,356.22 L165.96,356.22 L167.3,356.22 L168.64,356.22 L169.98,356.22 L171.31,356.22 L172.65,356.22 L173.99,356.22 L175.33,356.22 L176.67,356.22 L178,356.22 L179.34,356.22 L180.68,356.22 L182.02,356.22 L183.36,356.22 L184.69,356.22 L186.03,356.22 L187.37,356.22 L188.71,356.22 L190.05,356.22 L191.38,356.22 L192.72,356.22 L194.06,356.22 L195.4,356.22 L196.74,356.22 L198.07,356.22 L199.41,356.22 L200.75,356.22 L202.09,356.22 L203.43,356.22 L204.76,356.22 L206.1,356.22 L207.44,356.22 L208.78,356.22 L210.12,356.22 L211.45,356.22 L212.79,356.22 L214.13,356.22 L215.47,356.22 L216.81,356.22 L218.14,356.22 L219.48,356.22 L220.82,356.22 L222.16,356.22 L223.5,356.22 L224.83,356.22 L226.17,356.22 L227.51,356.22 L228.85,356.22 L230.19,356.22 L231.52,356.22 L232.86,356.22 L234.2,356.22 L235.54,356.22 L236.88,356.22 L238.21,356.22 L239.55,356.22 L240.89,356.22 L242.23,356.22 L243.57,356.22 L243.9,356.22" fill="none" stroke="#b455ee" stroke-width="1.1" stroke-linejoin="round"/>
<line x1="390.5" y1="243.8" x2="390.5" y2="370.3" stroke="#333" stroke-width="1"/>
<line x1="390.5" y1="365" x2="591.7" y2="365" stroke="#222" stroke-width="1"/>
<line x1="384.5" y1="361.8" x2="390.5" y2="361.8" stroke="#333" stroke-width="1"/>
<text x="382.3" y="364.8" text-anchor="end">0</text>
<line x1="387.5" y1="347.11" x2="390.5" y2="347.11" stroke="#333" stroke-width="1"/>
<line x1="384.5" y1="332.43" x2="390.5" y2="332.43" stroke="#333" stroke-width="1"/>
<text x="382.3" y="335.43" text-anchor="end">100</text>
<line x1="387.5" y1="317.74" x2="390.5" y2="317.74" stroke="#333" stroke-width="1"/>
<line x1="384.5" y1="303.05" x2="390.5" y2="303.05" stroke="#333" stroke-width="1"/>
<text x="382.3" y="306.05" text-anchor="end">200</text>
<line x1="387.5" y1="288.36" x2="390.5" y2="288.36" stroke="#333" stroke-width="1"/>
<line x1="384.5" y1="273.68" x2="390.5" y2="273.68" stroke="#333" stroke-width="1"/>
<text x="382.3" y="276.68" text-anchor="end">300</text>
<line x1="387.5" y1="258.99" x2="390.5" y2="258.99" stroke="#333" stroke-width="1"/>
<line x1="384.5" y1="244.3" x2="390.5" y2="244.3" stroke="#333" stroke-width="1"/>
<text x="382.3" y="247.3" text-anchor="end">400</text>
<line x1="390.5" y1="365" x2="390.5" y2="370.3" stroke="#222" stroke-width="1"/>
<text x="390.5" y="381.3" text-anchor="middle">0</text>
<line x1="423.95" y1="365" x2="423.95" y2="368" stroke="#222" stroke-width="1"/>
<line x1="457.4" y1="365" x2="457.4" y2="370.3" stroke="#222" stroke-width="1"/>
<text x="457.4" y="381.3" text-anchor="middle">100</text>
<line x1="490.85" y1="365" x2="490.85" y2="368" stroke="#222" stroke-width="1"/>
<line x1="524.3" y1="365" x2="524.3" y2="370.3" stroke="#222" stroke-width="1"/>
<text x="524.3" y="381.3" text-anchor="middle">200</text>
<line x1="557.75" y1="365" x2="557.75" y2="368" stroke="#222" stroke-width="1"/>
<line x1="591.2" y1="365" x2="591.2" y2="370.3" stroke="#222" stroke-width="1"/>
<text x="591.2" y="381.3" text-anchor="middle">300</text>
<text x="490.55" y="391.7" text-anchor="middle">Time (s)</text>
<text x="364.6" y="308.3" text-anchor="middle" transform="rotate(-90 364.6 308.3)">Response (RU)</text>
<text x="490" y="229" text-anchor="middle">ALDOA_PKM2 + circPETH-147aa</text>
<text x="404.2" y="256.1" font-size="8.7"><tspan font-style="italic">K</tspan><tspan font-style="italic" font-size="6.3" dy="2.3">D</tspan><tspan dy="-2.3"> = 11.02 ± 6.81 nM</tspan></text>
<line x1="601" y1="258.9" x2="623" y2="258.9" stroke="#ff2b2b" stroke-width="1.1"/>
<text x="634.6" y="261.9">1000 nM</text>
<line x1="601" y1="278.1" x2="623" y2="278.1" stroke="#52aec0" stroke-width="1.1"/>
<text x="634.6" y="281.1">500 nM</text>
<line x1="601" y1="297.3" x2="623" y2="297.3" stroke="#a07850" stroke-width="1.1"/>
<text x="634.6" y="300.3">250 nM</text>
<line x1="601" y1="316.5" x2="623" y2="316.5" stroke="#33dd33" stroke-width="1.1"/>
<text x="634.6" y="319.5">125 nM</text>
<line x1="601" y1="335.7" x2="623" y2="335.7" stroke="#f5a862" stroke-width="1.1"/>
<text x="634.6" y="338.7">62.5 nM</text>
<line x1="601" y1="354.9" x2="623" y2="354.9" stroke="#b455ee" stroke-width="1.1"/>
<text x="634.6" y="357.9">31.25 nM</text>
<path d="M390.5,361.8 L390.83,361.8 L390.9,361.8 L391.57,360.4 L392.24,359.02 L392.91,357.65 L393.58,356.29 L394.25,354.95 L394.92,353.62 L395.58,352.3 L396.25,350.99 L396.92,349.7 L397.59,348.41 L398.26,347.14 L398.93,345.89 L399.6,344.64 L400.27,343.41 L400.94,342.18 L401.61,340.97 L402.27,339.77 L402.94,338.58 L403.61,337.41 L404.28,336.24 L404.95,335.09 L405.62,333.94 L406.29,332.81 L406.96,331.69 L407.63,330.58 L408.3,329.47 L408.96,328.38 L409.63,327.3 L410.3,326.23 L410.97,325.17 L411.64,324.12 L412.31,323.08 L412.98,322.05 L413.65,321.03 L414.32,320.02 L414.99,319.02 L415.65,318.03 L416.32,317.04 L416.99,316.07 L417.66,315.11 L418.33,314.15 L419,313.21 L419.67,312.27 L420.34,311.34 L421.01,310.42 L421.68,309.51 L422.34,308.61 L423.01,307.71 L423.68,306.83 L424.35,305.95 L425.02,305.08 L425.69,304.22 L426.36,303.37 L427.03,302.53 L427.7,301.69 L428.37,300.86 L429.03,300.04 L429.7,299.23 L430.37,298.43 L431.04,297.63 L431.71,296.84 L432.38,296.06 L433.05,295.28 L433.72,294.51 L434.39,293.75 L435.06,293 L435.72,292.25 L436.39,291.52 L437.06,290.78 L437.73,290.06 L438.4,289.34 L439.07,288.63 L439.74,287.92 L440.41,287.23 L441.08,286.54 L441.75,285.85 L442.41,285.17 L443.08,284.5 L443.75,283.83 L444.42,283.17 L445.09,282.52 L445.76,281.87 L446.43,281.23 L447.1,280.6 L447.77,279.97 L448.44,279.35 L449.1,278.73 L449.77,278.12 L450.44,277.51 L451.11,276.91 L451.78,276.32 L452.45,275.73 L453.12,275.15 L453.79,274.57 L454.46,274 L455.13,273.43 L455.79,272.87 L456.46,272.32 L457.13,271.77 L457.8,271.22 L458.47,270.68 L459.14,270.15 L459.81,269.62 L460.48,269.09 L461.15,268.57 L461.82,268.06 L462.48,267.55 L463.15,267.04 L463.82,266.54 L464.49,266.05 L465.16,265.55 L465.83,265.07 L466.5,264.59 L467.17,264.11 L467.84,263.64 L468.51,263.17 L469.17,262.7 L469.84,262.24 L470.31,261.93 L470.65,263.1 L471.32,264.27 L472.65,259.87 L473.32,259.92 L474.66,260.03 L476,260.13 L477.34,260.24 L478.67,260.34 L480.01,260.44 L481.35,260.54 L482.69,260.64 L484.03,260.74 L485.36,260.84 L486.7,260.93 L488.04,261.03 L489.38,261.12 L490.72,261.21 L492.05,261.3 L493.39,261.39 L494.73,261.48 L496.07,261.57 L497.41,261.66 L498.74,261.74 L500.08,261.83 L501.42,261.91 L502.76,261.99 L504.1,262.07 L505.43,262.15 L506.77,262.23 L508.11,262.31 L509.45,262.39 L510.79,262.47 L512.12,262.54 L513.46,262.62 L514.8,262.69 L516.14,262.77 L517.48,262.84 L518.81,262.91 L520.15,262.98 L521.49,263.05 L522.83,263.12 L524.17,263.19 L525.5,263.26 L526.84,263.32 L528.18,263.39 L529.52,263.45 L530.86,263.52 L532.19,263.58 L533.53,263.64 L534.87,263.71 L536.21,263.77 L537.55,263.83 L538.88,263.89 L540.22,263.95 L541.56,264.01 L542.9,264.06 L544.24,264.12 L545.57,264.18 L546.91,264.23 L548.25,264.29 L549.59,264.34 L550.93,264.4 L552.26,264.45 L553.6,264.5 L554.94,264.55 L556.28,264.6 L557.62,264.65 L558.95,264.7 L560.29,264.75 L561.63,264.8 L562.97,264.85 L564.31,264.9 L565.64,264.95 L566.98,264.99 L568.32,265.04 L569.66,265.08 L571,265.13 L572.33,265.17 L573.67,265.22 L575.01,265.26 L576.35,265.3 L577.69,265.34 L579.02,265.39 L580.36,265.43 L581.7,265.47 L583.04,265.51 L584.38,265.55 L585.71,265.59 L587.05,265.63 L588.39,265.66 L589.73,265.7 L591.07,265.74 L591.2,265.74" fill="none" stroke="#ff2b2b" stroke-width="1.1" stroke-linejoin="round"/>
<path d="M390.5,361.8 L390.83,361.8 L390.9,361.8 L391.57,361.05 L392.24,360.31 L392.91,359.58 L393.58,358.85 L394.25,358.12 L394.92,357.4 L395.58,356.68 L396.25,355.96 L396.92,355.25 L397.59,354.55 L398.26,353.85 L398.93,353.15 L399.6,352.45 L400.27,351.77 L400.94,351.08 L401.61,350.4 L402.27,349.72 L402.94,349.05 L403.61,348.38 L404.28,347.72 L404.95,347.06 L405.62,346.4 L406.29,345.75 L406.96,345.1 L407.63,344.45 L408.3,343.81 L408.96,343.17 L409.63,342.54 L410.3,341.91 L410.97,341.28 L411.64,340.66 L412.31,340.04 L412.98,339.43 L413.65,338.82 L414.32,338.21 L414.99,337.6 L415.65,337 L416.32,336.41 L416.99,335.81 L417.66,335.22 L418.33,334.64 L419,334.06 L419.67,333.48 L420.34,332.9 L421.01,332.33 L421.68,331.76 L422.34,331.19 L423.01,330.63 L423.68,330.07 L424.35,329.52 L425.02,328.97 L425.69,328.42 L426.36,327.87 L427.03,327.33 L427.7,326.79 L428.37,326.26 L429.03,325.72 L429.7,325.19 L430.37,324.67 L431.04,324.15 L431.71,323.63 L432.38,323.11 L433.05,322.6 L433.72,322.09 L434.39,321.58 L435.06,321.07 L435.72,320.57 L436.39,320.07 L437.06,319.58 L437.73,319.09 L438.4,318.6 L439.07,318.11 L439.74,317.63 L440.41,317.14 L441.08,316.67 L441.75,316.19 L442.41,315.72 L443.08,315.25 L443.75,314.78 L444.42,314.32 L445.09,313.86 L445.76,313.4 L446.43,312.94 L447.1,312.49 L447.77,312.04 L448.44,311.59 L449.1,311.15 L449.77,310.71 L450.44,310.27 L451.11,309.83 L451.78,309.4 L452.45,308.97 L453.12,308.54 L453.79,308.11 L454.46,307.69 L455.13,307.27 L455.79,306.85 L456.46,306.43 L457.13,306.02 L457.8,305.6 L458.47,305.2 L459.14,304.79 L459.81,304.39 L460.48,303.98 L461.15,303.58 L461.82,303.19 L462.48,302.79 L463.15,302.4 L463.82,302.01 L464.49,301.62 L465.16,301.24 L465.83,300.86 L466.5,300.48 L467.17,300.1 L467.84,299.72 L468.51,299.35 L469.17,298.98 L469.84,298.61 L470.31,298.35 L470.65,294.53 L471.32,297.76 L472.65,298.94 L473.32,298.96 L474.66,299 L476,299.04 L477.34,299.09 L478.67,299.13 L480.01,299.17 L481.35,299.21 L482.69,299.25 L484.03,299.29 L485.36,299.32 L486.7,299.36 L488.04,299.4 L489.38,299.44 L490.72,299.47 L492.05,299.51 L493.39,299.55 L494.73,299.58 L496.07,299.62 L497.41,299.65 L498.74,299.69 L500.08,299.72 L501.42,299.75 L502.76,299.79 L504.1,299.82 L505.43,299.85 L506.77,299.88 L508.11,299.92 L509.45,299.95 L510.79,299.98 L512.12,300.01 L513.46,300.04 L514.8,300.07 L516.14,300.1 L517.48,300.13 L518.81,300.15 L520.15,300.18 L521.49,300.21 L522.83,300.24 L524.17,300.27 L525.5,300.29 L526.84,300.32 L528.18,300.35 L529.52,300.37 L530.86,300.4 L532.19,300.42 L533.53,300.45 L534.87,300.47 L536.21,300.5 L537.55,300.52 L538.88,300.55 L540.22,300.57 L541.56,300.59 L542.9,300.62 L544.24,300.64 L545.57,300.66 L546.91,300.68 L548.25,300.7 L549.59,300.73 L550.93,300.75 L552.26,300.77 L553.6,300.79 L554.94,300.81 L556.28,300.83 L557.62,300.85 L558.95,300.87 L560.29,300.89 L561.63,300.91 L562.97,300.93 L564.31,300.95 L565.64,300.97 L566.98,300.99 L568.32,301.01 L569.66,301.02 L571,301.04 L572.33,301.06 L573.67,301.08 L575.01,301.09 L576.35,301.11 L577.69,301.13 L579.02,301.14 L580.36,301.16 L581.7,301.18 L583.04,301.19 L584.38,301.21 L585.71,301.22 L587.05,301.24 L588.39,301.26 L589.73,301.27 L591.07,301.29 L591.2,301.29" fill="none" stroke="#52aec0" stroke-width="1.1" stroke-linejoin="round"/>
<path d="M390.5,361.8 L390.83,361.8 L390.9,361.8 L391.57,361.39 L392.24,360.99 L392.91,360.59 L393.58,360.18 L394.25,359.78 L394.92,359.39 L395.58,358.99 L396.25,358.59 L396.92,358.2 L397.59,357.81 L398.26,357.42 L398.93,357.03 L399.6,356.64 L400.27,356.26 L400.94,355.87 L401.61,355.49 L402.27,355.11 L402.94,354.73 L403.61,354.35 L404.28,353.97 L404.95,353.6 L405.62,353.22 L406.29,352.85 L406.96,352.48 L407.63,352.11 L408.3,351.74 L408.96,351.38 L409.63,351.01 L410.3,350.65 L410.97,350.29 L411.64,349.93 L412.31,349.57 L412.98,349.21 L413.65,348.85 L414.32,348.5 L414.99,348.15 L415.65,347.79 L416.32,347.44 L416.99,347.1 L417.66,346.75 L418.33,346.4 L419,346.06 L419.67,345.71 L420.34,345.37 L421.01,345.03 L421.68,344.69 L422.34,344.35 L423.01,344.02 L423.68,343.68 L424.35,343.35 L425.02,343.01 L425.69,342.68 L426.36,342.35 L427.03,342.02 L427.7,341.7 L428.37,341.37 L429.03,341.04 L429.7,340.72 L430.37,340.4 L431.04,340.08 L431.71,339.76 L432.38,339.44 L433.05,339.12 L433.72,338.81 L434.39,338.49 L435.06,338.18 L435.72,337.87 L436.39,337.56 L437.06,337.25 L437.73,336.94 L438.4,336.63 L439.07,336.32 L439.74,336.02 L440.41,335.72 L441.08,335.41 L441.75,335.11 L442.41,334.81 L443.08,334.51 L443.75,334.22 L444.42,333.92 L445.09,333.63 L445.76,333.33 L446.43,333.04 L447.1,332.75 L447.77,332.46 L448.44,332.17 L449.1,331.88 L449.77,331.59 L450.44,331.31 L451.11,331.02 L451.78,330.74 L452.45,330.46 L453.12,330.17 L453.79,329.89 L454.46,329.62 L455.13,329.34 L455.79,329.06 L456.46,328.79 L457.13,328.51 L457.8,328.24 L458.47,327.96 L459.14,327.69 L459.81,327.42 L460.48,327.15 L461.15,326.89 L461.82,326.62 L462.48,326.35 L463.15,326.09 L463.82,325.82 L464.49,325.56 L465.16,325.3 L465.83,325.04 L466.5,324.78 L467.17,324.52 L467.84,324.26 L468.51,324.01 L469.17,323.75 L469.84,323.5 L470.31,323.32 L470.58,316.86 L471.32,322.67 L472.65,323.32 L473.32,323.33 L474.66,323.36 L476,323.39 L477.34,323.41 L478.67,323.44 L480.01,323.46 L481.35,323.49 L482.69,323.51 L484.03,323.54 L485.36,323.56 L486.7,323.58 L488.04,323.61 L489.38,323.63 L490.72,323.65 L492.05,323.68 L493.39,323.7 L494.73,323.72 L496.07,323.74 L497.41,323.77 L498.74,323.79 L500.08,323.81 L501.42,323.83 L502.76,323.85 L504.1,323.87 L505.43,323.89 L506.77,323.91 L508.11,323.93 L509.45,323.95 L510.79,323.97 L512.12,323.99 L513.46,324.01 L514.8,324.02 L516.14,324.04 L517.48,324.06 L518.81,324.08 L520.15,324.1 L521.49,324.11 L522.83,324.13 L524.17,324.15 L525.5,324.17 L526.84,324.18 L528.18,324.2 L529.52,324.22 L530.86,324.23 L532.19,324.25 L533.53,324.26 L534.87,324.28 L536.21,324.29 L537.55,324.31 L538.88,324.32 L540.22,324.34 L541.56,324.35 L542.9,324.37 L544.24,324.38 L545.57,324.4 L546.91,324.41 L548.25,324.42 L549.59,324.44 L550.93,324.45 L552.26,324.46 L553.6,324.48 L554.94,324.49 L556.28,324.5 L557.62,324.52 L558.95,324.53 L560.29,324.54 L561.63,324.55 L562.97,324.56 L564.31,324.58 L565.64,324.59 L566.98,324.6 L568.32,324.61 L569.66,324.62 L571,324.63 L572.33,324.64 L573.67,324.66 L575.01,324.67 L576.35,324.68 L577.69,324.69 L579.02,324.7 L580.36,324.71 L581.7,324.72 L583.04,324.73 L584.38,324.74 L585.71,324.75 L587.05,324.76 L588.39,324.77 L589.73,324.78 L591.07,324.79 L591.2,324.79" fill="none" stroke="#a07850" stroke-width="1.1" stroke-linejoin="round"/>
<path d="M390.5,361.8 L390.83,361.8 L390.9,361.8 L391.57,361.57 L392.24,361.34 L392.91,361.11 L393.58,360.88 L394.25,360.65 L394.92,360.42 L395.58,360.19 L396.25,359.96 L396.92,359.74 L397.59,359.51 L398.26,359.29 L398.93,359.06 L399.6,358.84 L400.27,358.61 L400.94,358.39 L401.61,358.17 L402.27,357.95 L402.94,357.73 L403.61,357.51 L404.28,357.29 L404.95,357.07 L405.62,356.85 L406.29,356.64 L406.96,356.42 L407.63,356.2 L408.3,355.99 L408.96,355.77 L409.63,355.56 L410.3,355.35 L410.97,355.13 L411.64,354.92 L412.31,354.71 L412.98,354.5 L413.65,354.29 L414.32,354.08 L414.99,353.87 L415.65,353.66 L416.32,353.45 L416.99,353.25 L417.66,353.04 L418.33,352.84 L419,352.63 L419.67,352.43 L420.34,352.22 L421.01,352.02 L421.68,351.82 L422.34,351.61 L423.01,351.41 L423.68,351.21 L424.35,351.01 L425.02,350.81 L425.69,350.61 L426.36,350.41 L427.03,350.22 L427.7,350.02 L428.37,349.82 L429.03,349.63 L429.7,349.43 L430.37,349.23 L431.04,349.04 L431.71,348.85 L432.38,348.65 L433.05,348.46 L433.72,348.27 L434.39,348.08 L435.06,347.89 L435.72,347.7 L436.39,347.51 L437.06,347.32 L437.73,347.13 L438.4,346.94 L439.07,346.75 L439.74,346.57 L440.41,346.38 L441.08,346.19 L441.75,346.01 L442.41,345.82 L443.08,345.64 L443.75,345.46 L444.42,345.27 L445.09,345.09 L445.76,344.91 L446.43,344.73 L447.1,344.55 L447.77,344.37 L448.44,344.19 L449.1,344.01 L449.77,343.83 L450.44,343.65 L451.11,343.47 L451.78,343.29 L452.45,343.12 L453.12,342.94 L453.79,342.77 L454.46,342.59 L455.13,342.42 L455.79,342.24 L456.46,342.07 L457.13,341.9 L457.8,341.72 L458.47,341.55 L459.14,341.38 L459.81,341.21 L460.48,341.04 L461.15,340.87 L461.82,340.7 L462.48,340.53 L463.15,340.36 L463.82,340.2 L464.49,340.03 L465.16,339.86 L465.83,339.7 L466.5,339.53 L467.17,339.36 L467.84,339.2 L468.51,339.03 L469.17,338.87 L469.84,338.71 L470.31,338.59 L470.58,326.84 L471.32,337.95 L472.65,339.18 L473.32,339.18 L474.66,339.19 L476,339.19 L477.34,339.2 L478.67,339.2 L480.01,339.21 L481.35,339.21 L482.69,339.22 L484.03,339.22 L485.36,339.23 L486.7,339.23 L488.04,339.24 L489.38,339.24 L490.72,339.25 L492.05,339.25 L493.39,339.26 L494.73,339.26 L496.07,339.27 L497.41,339.27 L498.74,339.27 L500.08,339.28 L501.42,339.28 L502.76,339.29 L504.1,339.29 L505.43,339.3 L506.77,339.3 L508.11,339.3 L509.45,339.31 L510.79,339.31 L512.12,339.32 L513.46,339.32 L514.8,339.32 L516.14,339.33 L517.48,339.33 L518.81,339.33 L520.15,339.34 L521.49,339.34 L522.83,339.34 L524.17,339.35 L525.5,339.35 L526.84,339.35 L528.18,339.36 L529.52,339.36 L530.86,339.36 L532.19,339.37 L533.53,339.37 L534.87,339.37 L536.21,339.38 L537.55,339.38 L538.88,339.38 L540.22,339.39 L541.56,339.39 L542.9,339.39 L544.24,339.39 L545.57,339.4 L546.91,339.4 L548.25,339.4 L549.59,339.4 L550.93,339.41 L552.26,339.41 L553.6,339.41 L554.94,339.42 L556.28,339.42 L557.62,339.42 L558.95,339.42 L560.29,339.43 L561.63,339.43 L562.97,339.43 L564.31,339.43 L565.64,339.44 L566.98,339.44 L568.32,339.44 L569.66,339.44 L571,339.44 L572.33,339.45 L573.67,339.45 L575.01,339.45 L576.35,339.45 L577.69,339.46 L579.02,339.46 L580.36,339.46 L581.7,339.46 L583.04,339.46 L584.38,339.47 L585.71,339.47 L587.05,339.47 L588.39,339.47 L589.73,339.47 L591.07,339.47 L591.2,339.48" fill="none" stroke="#33dd33" stroke-width="1.1" stroke-linejoin="round"/>
<path d="M390.5,361.8 L390.83,361.8 L390.9,361.8 L391.57,361.68 L392.24,361.56 L392.91,361.44 L393.58,361.32 L394.25,361.21 L394.92,361.09 L395.58,360.97 L396.25,360.85 L396.92,360.73 L397.59,360.62 L398.26,360.5 L398.93,360.38 L399.6,360.27 L400.27,360.15 L400.94,360.03 L401.61,359.92 L402.27,359.8 L402.94,359.69 L403.61,359.57 L404.28,359.46 L404.95,359.34 L405.62,359.23 L406.29,359.11 L406.96,359 L407.63,358.88 L408.3,358.77 L408.96,358.66 L409.63,358.54 L410.3,358.43 L410.97,358.32 L411.64,358.21 L412.31,358.09 L412.98,357.98 L413.65,357.87 L414.32,357.76 L414.99,357.65 L415.65,357.54 L416.32,357.43 L416.99,357.31 L417.66,357.2 L418.33,357.09 L419,356.98 L419.67,356.87 L420.34,356.76 L421.01,356.66 L421.68,356.55 L422.34,356.44 L423.01,356.33 L423.68,356.22 L424.35,356.11 L425.02,356 L425.69,355.9 L426.36,355.79 L427.03,355.68 L427.7,355.57 L428.37,355.47 L429.03,355.36 L429.7,355.25 L430.37,355.15 L431.04,355.04 L431.71,354.94 L432.38,354.83 L433.05,354.72 L433.72,354.62 L434.39,354.51 L435.06,354.41 L435.72,354.3 L436.39,354.2 L437.06,354.1 L437.73,353.99 L438.4,353.89 L439.07,353.78 L439.74,353.68 L440.41,353.58 L441.08,353.47 L441.75,353.37 L442.41,353.27 L443.08,353.17 L443.75,353.06 L444.42,352.96 L445.09,352.86 L445.76,352.76 L446.43,352.66 L447.1,352.56 L447.77,352.46 L448.44,352.35 L449.1,352.25 L449.77,352.15 L450.44,352.05 L451.11,351.95 L451.78,351.85 L452.45,351.75 L453.12,351.66 L453.79,351.56 L454.46,351.46 L455.13,351.36 L455.79,351.26 L456.46,351.16 L457.13,351.06 L457.8,350.97 L458.47,350.87 L459.14,350.77 L459.81,350.67 L460.48,350.58 L461.15,350.48 L461.82,350.38 L462.48,350.28 L463.15,350.19 L463.82,350.09 L464.49,350 L465.16,349.9 L465.83,349.8 L466.5,349.71 L467.17,349.61 L467.84,349.52 L468.51,349.42 L469.17,349.33 L469.84,349.23 L470.31,349.17 L470.58,339.48 L471.32,348.46 L472.65,349.46 L473.32,349.46 L474.66,349.45 L476,349.44 L477.34,349.43 L478.67,349.42 L480.01,349.41 L481.35,349.4 L482.69,349.39 L484.03,349.38 L485.36,349.37 L486.7,349.36 L488.04,349.35 L489.38,349.34 L490.72,349.33 L492.05,349.32 L493.39,349.31 L494.73,349.3 L496.07,349.29 L497.41,349.28 L498.74,349.28 L500.08,349.27 L501.42,349.26 L502.76,349.25 L504.1,349.24 L505.43,349.23 L506.77,349.23 L508.11,349.22 L509.45,349.21 L510.79,349.2 L512.12,349.19 L513.46,349.19 L514.8,349.18 L516.14,349.17 L517.48,349.17 L518.81,349.16 L520.15,349.15 L521.49,349.14 L522.83,349.14 L524.17,349.13 L525.5,349.12 L526.84,349.12 L528.18,349.11 L529.52,349.1 L530.86,349.1 L532.19,349.09 L533.53,349.08 L534.87,349.08 L536.21,349.07 L537.55,349.07 L538.88,349.06 L540.22,349.05 L541.56,349.05 L542.9,349.04 L544.24,349.04 L545.57,349.03 L546.91,349.03 L548.25,349.02 L549.59,349.02 L550.93,349.01 L552.26,349 L553.6,349 L554.94,348.99 L556.28,348.99 L557.62,348.98 L558.95,348.98 L560.29,348.97 L561.63,348.97 L562.97,348.96 L564.31,348.96 L565.64,348.95 L566.98,348.95 L568.32,348.95 L569.66,348.94 L571,348.94 L572.33,348.93 L573.67,348.93 L575.01,348.92 L576.35,348.92 L577.69,348.91 L579.02,348.91 L580.36,348.91 L581.7,348.9 L583.04,348.9 L584.38,348.89 L585.71,348.89 L587.05,348.89 L588.39,348.88 L589.73,348.88 L591.07,348.88 L591.2,348.88" fill="none" stroke="#f5a862" stroke-width="1.1" stroke-linejoin="round"/>
<path d="M390.5,361.8 L390.83,361.8 L390.9,361.8 L391.57,361.73 L392.24,361.65 L392.91,361.58 L393.58,361.5 L394.25,361.43 L394.92,361.35 L395.58,361.28 L396.25,361.2 L396.92,361.13 L397.59,361.06 L398.26,360.98 L398.93,360.91 L399.6,360.84 L400.27,360.76 L400.94,360.69 L401.61,360.62 L402.27,360.55 L402.94,360.47 L403.61,360.4 L404.28,360.33 L404.95,360.26 L405.62,360.18 L406.29,360.11 L406.96,360.04 L407.63,359.97 L408.3,359.9 L408.96,359.83 L409.63,359.76 L410.3,359.69 L410.97,359.61 L411.64,359.54 L412.31,359.47 L412.98,359.4 L413.65,359.33 L414.32,359.26 L414.99,359.19 L415.65,359.12 L416.32,359.05 L416.99,358.98 L417.66,358.91 L418.33,358.85 L419,358.78 L419.67,358.71 L420.34,358.64 L421.01,358.57 L421.68,358.5 L422.34,358.43 L423.01,358.36 L423.68,358.3 L424.35,358.23 L425.02,358.16 L425.69,358.09 L426.36,358.03 L427.03,357.96 L427.7,357.89 L428.37,357.82 L429.03,357.76 L429.7,357.69 L430.37,357.62 L431.04,357.56 L431.71,357.49 L432.38,357.42 L433.05,357.36 L433.72,357.29 L434.39,357.22 L435.06,357.16 L435.72,357.09 L436.39,357.03 L437.06,356.96 L437.73,356.9 L438.4,356.83 L439.07,356.77 L439.74,356.7 L440.41,356.64 L441.08,356.57 L441.75,356.51 L442.41,356.44 L443.08,356.38 L443.75,356.31 L444.42,356.25 L445.09,356.19 L445.76,356.12 L446.43,356.06 L447.1,356 L447.77,355.93 L448.44,355.87 L449.1,355.81 L449.77,355.74 L450.44,355.68 L451.11,355.62 L451.78,355.55 L452.45,355.49 L453.12,355.43 L453.79,355.37 L454.46,355.31 L455.13,355.24 L455.79,355.18 L456.46,355.12 L457.13,355.06 L457.8,355 L458.47,354.94 L459.14,354.87 L459.81,354.81 L460.48,354.75 L461.15,354.69 L461.82,354.63 L462.48,354.57 L463.15,354.51 L463.82,354.45 L464.49,354.39 L465.16,354.33 L465.83,354.27 L466.5,354.21 L467.17,354.15 L467.84,354.09 L468.51,354.03 L469.17,353.97 L469.84,353.91 L470.31,353.87 L470.58,346.23 L471.32,353.37 L472.65,354.16 L473.32,354.17 L474.66,354.17 L476,354.18 L477.34,354.18 L478.67,354.19 L480.01,354.19 L481.35,354.2 L482.69,354.2 L484.03,354.21 L485.36,354.21 L486.7,354.22 L488.04,354.22 L489.38,354.23 L490.72,354.23 L492.05,354.23 L493.39,354.24 L494.73,354.24 L496.07,354.25 L497.41,354.25 L498.74,354.26 L500.08,354.26 L501.42,354.26 L502.76,354.27 L504.1,354.27 L505.43,354.28 L506.77,354.28 L508.11,354.28 L509.45,354.29 L510.79,354.29 L512.12,354.3 L513.46,354.3 L514.8,354.3 L516.14,354.31 L517.48,354.31 L518.81,354.31 L520.15,354.32 L521.49,354.32 L522.83,354.33 L524.17,354.33 L525.5,354.33 L526.84,354.34 L528.18,354.34 L529.52,354.34 L530.86,354.34 L532.19,354.35 L533.53,354.35 L534.87,354.35 L536.21,354.36 L537.55,354.36 L538.88,354.36 L540.22,354.37 L541.56,354.37 L542.9,354.37 L544.24,354.38 L545.57,354.38 L546.91,354.38 L548.25,354.38 L549.59,354.39 L550.93,354.39 L552.26,354.39 L553.6,354.39 L554.94,354.4 L556.28,354.4 L557.62,354.4 L558.95,354.4 L560.29,354.41 L561.63,354.41 L562.97,354.41 L564.31,354.41 L565.64,354.42 L566.98,354.42 L568.32,354.42 L569.66,354.42 L571,354.43 L572.33,354.43 L573.67,354.43 L575.01,354.43 L576.35,354.43 L577.69,354.44 L579.02,354.44 L580.36,354.44 L581.7,354.44 L583.04,354.44 L584.38,354.45 L585.71,354.45 L587.05,354.45 L588.39,354.45 L589.73,354.45 L591.07,354.46 L591.2,354.46" fill="none" stroke="#b455ee" stroke-width="1.1" stroke-linejoin="round"/>
<text x="0.8" y="9.9" font-size="13.2" font-weight="bold" fill="#000">a</text>
<text x="345.8" y="9.8" font-size="13.2" font-weight="bold" fill="#000">b</text>
<text x="1.2" y="225.1" font-size="13.2" font-weight="bold" fill="#000">c</text>
<text x="345.8" y="225" font-size="13.2" font-weight="bold" fill="#000">d</text>
<text x="0.8" y="423.1" font-size="13.2" font-weight="bold" fill="#000">e</text>
<text x="254.6" y="422.8" font-size="13.2" font-weight="bold" fill="#000">f</text>
<text x="434.4" y="422.2" font-size="13.2" font-weight="bold" fill="#000">g</text>
<text x="1.2" y="644" font-size="13.2" font-weight="bold" fill="#000">h</text>
<text x="269.8" y="695.2" font-size="13.2" font-weight="bold" fill="#000">i</text>
<text x="435.2" y="643.5" font-size="13.2" font-weight="bold" fill="#000">j</text>
<g font-size="8.5">
<text x="49.4" y="495.3" transform="rotate(-90 49.4 495.3)">Vector</text>
<text x="70" y="495.3" transform="rotate(-90 70 495.3)">IRES-MUT</text>
<text x="90.4" y="495.3" transform="rotate(-90 90.4 495.3)">147aa-ΔATG</text>
<text x="112.2" y="495.3" transform="rotate(-90 112.2 495.3)">OE-circPETH</text>
<text x="133" y="495.3" transform="rotate(-90 133 495.3)">circPETH-147aa</text>
<rect x="36.5" y="498.5" width="104" height="39" rx="0.8" fill="#eaeaea" stroke="#474747" stroke-width="1"/>
<rect x="36.5" y="540.5" width="104" height="14" rx="0.8" fill="#f3f3f3" stroke="#474747" stroke-width="1"/>
<rect x="36.5" y="557.5" width="104" height="14" rx="0.8" fill="#f1f1f1" stroke="#474747" stroke-width="1"/>
<rect x="36.5" y="574.5" width="104" height="15" rx="0.8" fill="#f3f3f3" stroke="#474747" stroke-width="1"/>
<rect x="39" y="502.2" width="16.8" height="4.2" rx="3.36" ry="2.1" fill="#000" fill-opacity="0.95" filter="url(#bl)"/>
<rect x="58.6" y="502.2" width="16.8" height="4.2" rx="3.36" ry="2.1" fill="#000" fill-opacity="0.95" filter="url(#bl)"/>
<rect x="78.4" y="502.2" width="16.8" height="4.2" rx="3.36" ry="2.1" fill="#000" fill-opacity="0.95" filter="url(#bl)"/>
<rect x="99.3" y="503" width="7.8" height="3.2" rx="1.56" ry="1.6" fill="#000" fill-opacity="0.16" filter="url(#bl)"/>
<rect x="107.3" y="503" width="7.8" height="3.2" rx="1.56" ry="1.6" fill="#000" fill-opacity="0.14" filter="url(#bl)"/>
<rect x="120.7" y="503" width="7.8" height="3.2" rx="1.56" ry="1.6" fill="#000" fill-opacity="0.22" filter="url(#bl)"/>
<rect x="128.7" y="503" width="7.8" height="3.2" rx="1.56" ry="1.6" fill="#000" fill-opacity="0.20" filter="url(#bl)"/>
<rect x="39.5" y="530.1" width="7.8" height="4.4" rx="1.56" ry="2.2" fill="#000" fill-opacity="0.75" filter="url(#bl)"/>
<rect x="47.5" y="530.2" width="7.8" height="4.4" rx="1.56" ry="2.2" fill="#000" fill-opacity="0.60" filter="url(#bl)"/>
<rect x="59.1" y="530.1" width="7.8" height="4.4" rx="1.56" ry="2.2" fill="#000" fill-opacity="0.75" filter="url(#bl)"/>
<rect x="67.1" y="530.2" width="7.8" height="4.4" rx="1.56" ry="2.2" fill="#000" fill-opacity="0.60" filter="url(#bl)"/>
<rect x="78.9" y="530.1" width="7.8" height="4.4" rx="1.56" ry="2.2" fill="#000" fill-opacity="0.75" filter="url(#bl)"/>
<rect x="86.9" y="530.2" width="7.8" height="4.4" rx="1.56" ry="2.2" fill="#000" fill-opacity="0.60" filter="url(#bl)"/>
<rect x="98.8" y="529.7" width="16.8" height="5.2" rx="3.36" ry="2.6" fill="#000" fill-opacity="0.95" filter="url(#bl)"/>
<rect x="119.7" y="528.9" width="17.8" height="6.2" rx="3.56" ry="3.1" fill="#000" fill-opacity="1.00" filter="url(#bl)"/>
<rect x="38.5" y="545.2" width="17.8" height="4.8" rx="3.56" ry="2.4" fill="#000" fill-opacity="0.95" filter="url(#bl)"/>
<rect x="58.1" y="545.2" width="17.8" height="4.8" rx="3.56" ry="2.4" fill="#000" fill-opacity="0.95" filter="url(#bl)"/>
<rect x="77.9" y="545.2" width="17.8" height="4.8" rx="3.56" ry="2.4" fill="#000" fill-opacity="0.95" filter="url(#bl)"/>
<rect x="98.3" y="545.2" width="17.8" height="4.8" rx="3.56" ry="2.4" fill="#000" fill-opacity="0.95" filter="url(#bl)"/>
<rect x="119.7" y="545.2" width="17.8" height="4.8" rx="3.56" ry="2.4" fill="#000" fill-opacity="0.95" filter="url(#bl)"/>
<rect x="98.05" y="561.1" width="18.3" height="6.6" rx="3.66" ry="3.3" fill="#000" fill-opacity="1.00" filter="url(#bl)"/>
<rect x="119.45" y="561.1" width="18.3" height="6.6" rx="3.66" ry="3.3" fill="#000" fill-opacity="1.00" filter="url(#bl)"/>
<rect x="38.25" y="578.9" width="18.3" height="5.4" rx="3.66" ry="2.7" fill="#000" fill-opacity="1.00" filter="url(#bl)"/>
<rect x="57.85" y="578.9" width="18.3" height="5.4" rx="3.66" ry="2.7" fill="#000" fill-opacity="1.00" filter="url(#bl)"/>
<rect x="77.65" y="578.9" width="18.3" height="5.4" rx="3.66" ry="2.7" fill="#000" fill-opacity="1.00" filter="url(#bl)"/>
<rect x="98.05" y="578.9" width="18.3" height="5.4" rx="3.66" ry="2.7" fill="#000" fill-opacity="1.00" filter="url(#bl)"/>
<rect x="119.45" y="578.9" width="18.3" height="5.4" rx="3.66" ry="2.7" fill="#000" fill-opacity="1.00" filter="url(#bl)"/>
<text x="32.4" y="521.5" text-anchor="end">PKM2</text>
<text x="32.4" y="550.4" text-anchor="end">PKM2</text>
<text x="32.4" y="567.4" text-anchor="end">HA</text>
<text x="32.4" y="585" text-anchor="end">β-actin</text>
<text x="145.7" y="497.3">kD</text>
<text x="145.7" y="505.9">260</text>
<line x1="141" y1="502.9" x2="143.6" y2="502.9" stroke="#333" stroke-width="0.9"/>
<text x="145.7" y="533.4">140</text>
<line x1="141" y1="530.4" x2="143.6" y2="530.4" stroke="#333" stroke-width="0.9"/>
<text x="145.7" y="553">55</text>
<line x1="141" y1="550" x2="143.6" y2="550" stroke="#333" stroke-width="0.9"/>
<text x="145.7" y="570.4">15</text>
<line x1="141" y1="567.4" x2="143.6" y2="567.4" stroke="#333" stroke-width="0.9"/>
<text x="145.7" y="588.7">40</text>
<line x1="141" y1="585.7" x2="143.6" y2="585.7" stroke="#333" stroke-width="0.9"/>
<line x1="267.5" y1="464" x2="329.6" y2="464" stroke="#444" stroke-width="1"/>
<line x1="332.4" y1="464" x2="394.6" y2="464" stroke="#444" stroke-width="1"/>
<text x="298.5" y="460.7" text-anchor="middle">Hep3B</text>
<text x="363.3" y="460.7" text-anchor="middle">Huh-7</text>
<text x="279.65" y="519.4" transform="rotate(-90 279.65 519.4)">Vector</text>
<text x="300.45" y="519.4" transform="rotate(-90 300.45 519.4)">PKM2-WT</text>
<text x="322.35" y="519.4" transform="rotate(-90 322.35 519.4)">PKM2-K367M</text>
<text x="344.35" y="519.4" transform="rotate(-90 344.35 519.4)">Vector</text>
<text x="364.85" y="519.4" transform="rotate(-90 364.85 519.4)">PKM2-WT</text>
<text x="387.65" y="519.4" transform="rotate(-90 387.65 519.4)">PKM2-K367M</text>
<rect x="266.5" y="523.5" width="63" height="15" rx="0.8" fill="#e9e9e9" stroke="#474747" stroke-width="1"/>
<rect x="331.5" y="523.5" width="63" height="15" rx="0.8" fill="#e9e9e9" stroke="#474747" stroke-width="1"/>
<rect x="266.5" y="540.5" width="63" height="15" rx="0.8" fill="#f3f3f3" stroke="#474747" stroke-width="1"/>
<rect x="331.5" y="540.5" width="63" height="15" rx="0.8" fill="#f3f3f3" stroke="#474747" stroke-width="1"/>
<rect x="266.5" y="557.5" width="63" height="15" rx="0.8" fill="#f3f3f3" stroke="#474747" stroke-width="1"/>
<rect x="331.5" y="557.5" width="63" height="15" rx="0.8" fill="#f3f3f3" stroke="#474747" stroke-width="1"/>
<rect x="266.5" y="574.5" width="63" height="15" rx="0.8" fill="#f3f3f3" stroke="#474747" stroke-width="1"/>
<rect x="331.5" y="574.5" width="63" height="15" rx="0.8" fill="#f3f3f3" stroke="#474747" stroke-width="1"/>
<rect x="269.1" y="529.1" width="15.8" height="3.6" rx="3.16" ry="1.8" fill="#000" fill-opacity="0.10" filter="url(#bl)"/>
<rect x="289.1" y="527.35" width="17.8" height="6.1" rx="3.56" ry="3.05" fill="#000" fill-opacity="1.00" filter="url(#bl)"/>
<rect x="311.4" y="529.1" width="15.8" height="3.6" rx="3.16" ry="1.8" fill="#000" fill-opacity="0.07" filter="url(#bl)"/>
<rect x="334" y="529.3" width="15.8" height="3.2" rx="3.16" ry="1.6" fill="#000" fill-opacity="0.45" filter="url(#bl)"/>
<rect x="353.9" y="527.8" width="17.8" height="5.2" rx="3.56" ry="2.6" fill="#000" fill-opacity="1.00" filter="url(#bl)"/>
<rect x="375.7" y="529.1" width="15.8" height="3.6" rx="3.16" ry="1.8" fill="#000" fill-opacity="0.42" filter="url(#bl)"/>
<rect x="267.85" y="544.3" width="18.3" height="6" rx="3.66" ry="3" fill="#000" fill-opacity="1.00" filter="url(#bl)"/>
<rect x="288.85" y="544.3" width="18.3" height="6" rx="3.66" ry="3" fill="#000" fill-opacity="1.00" filter="url(#bl)"/>
<rect x="310.15" y="544.3" width="18.3" height="6" rx="3.66" ry="3" fill="#000" fill-opacity="1.00" filter="url(#bl)"/>
<rect x="332.75" y="544.3" width="18.3" height="6" rx="3.66" ry="3" fill="#000" fill-opacity="1.00" filter="url(#bl)"/>
<rect x="353.65" y="544.3" width="18.3" height="6" rx="3.66" ry="3" fill="#000" fill-opacity="1.00" filter="url(#bl)"/>
<rect x="374.45" y="544.3" width="18.3" height="6" rx="3.66" ry="3" fill="#000" fill-opacity="1.00" filter="url(#bl)"/>
<rect x="268.1" y="563.5" width="17.8" height="3.4" rx="3.56" ry="1.7" fill="#000" fill-opacity="0.65" filter="url(#bl)"/>
<rect x="289.1" y="563.1" width="17.8" height="5" rx="3.56" ry="2.5" fill="#000" fill-opacity="0.97" filter="url(#bl)"/>
<rect x="310.4" y="562.6" width="17.8" height="5.2" rx="3.56" ry="2.6" fill="#000" fill-opacity="0.97" filter="url(#bl)"/>
<rect x="333" y="562.2" width="17.8" height="3.4" rx="3.56" ry="1.7" fill="#000" fill-opacity="0.65" filter="url(#bl)"/>
<rect x="353.9" y="561.5" width="17.8" height="4.8" rx="3.56" ry="2.4" fill="#000" fill-opacity="0.97" filter="url(#bl)"/>
<rect x="374.7" y="561.6" width="17.8" height="5.6" rx="3.56" ry="2.8" fill="#000" fill-opacity="1.00" filter="url(#bl)"/>
<rect x="268.35" y="579.7" width="17.3" height="4.6" rx="3.46" ry="2.3" fill="#000" fill-opacity="0.95" filter="url(#bl)"/>
<rect x="289.35" y="579.7" width="17.3" height="4.6" rx="3.46" ry="2.3" fill="#000" fill-opacity="0.95" filter="url(#bl)"/>
<rect x="310.65" y="579.7" width="17.3" height="4.6" rx="3.46" ry="2.3" fill="#000" fill-opacity="0.95" filter="url(#bl)"/>
<rect x="333.25" y="579.7" width="17.3" height="4.6" rx="3.46" ry="2.3" fill="#000" fill-opacity="0.95" filter="url(#bl)"/>
<rect x="354.15" y="579.7" width="17.3" height="4.6" rx="3.46" ry="2.3" fill="#000" fill-opacity="0.95" filter="url(#bl)"/>
<rect x="374.95" y="579.7" width="17.3" height="4.6" rx="3.46" ry="2.3" fill="#000" fill-opacity="0.95" filter="url(#bl)"/>
<text x="215.5" y="534" text-anchor="end">IP: P-Ser</text>
<line x1="218.9" y1="523.8" x2="218.9" y2="537.6" stroke="#777" stroke-width="1"/>
<line x1="218.9" y1="540.5" x2="218.9" y2="587.7" stroke="#777" stroke-width="1"/>
<text x="214.35" y="565" text-anchor="middle" transform="rotate(-90 214.35 565)">Input</text>
<text x="262.7" y="534" text-anchor="end">IB: ALDOA</text>
<text x="262.7" y="550.5" text-anchor="end">IB: ALDOA</text>
<text x="262.7" y="567.5" text-anchor="end">IB: PKM2</text>
<text x="262.7" y="584.5" text-anchor="end">IB: β-actin</text>
<text x="400.2" y="519.6">kD</text>
<text x="400.2" y="529.7">40</text>
<line x1="395.5" y1="526.7" x2="398" y2="526.7" stroke="#333" stroke-width="0.9"/>
<text x="400.2" y="548.5">40</text>
<line x1="395.5" y1="545.5" x2="398" y2="545.5" stroke="#333" stroke-width="0.9"/>
<text x="400.2" y="570.1">55</text>
<line x1="395.5" y1="567.1" x2="398" y2="567.1" stroke="#333" stroke-width="0.9"/>
<text x="400.2" y="587.5">40</text>
<line x1="395.5" y1="584.5" x2="398" y2="584.5" stroke="#333" stroke-width="0.9"/>
<rect x="501.5" y="426.5" width="167" height="14" rx="0.8" fill="#f3f3f3" stroke="#474747" stroke-width="1"/>
<rect x="501.5" y="443.5" width="167" height="14" rx="0.8" fill="#f3f3f3" stroke="#474747" stroke-width="1"/>
<rect x="501.5" y="460.5" width="167" height="15" rx="0.8" fill="#f3f3f3" stroke="#474747" stroke-width="1"/>
<rect x="501.5" y="477.5" width="167" height="15" rx="0.8" fill="#f3f3f3" stroke="#474747" stroke-width="1"/>
<rect x="501.5" y="494.5" width="167" height="15" rx="0.8" fill="#f3f3f3" stroke="#474747" stroke-width="1"/>
<rect x="548.5" y="431.9" width="15.8" height="3.2" rx="3.16" ry="1.6" fill="#000" fill-opacity="0.70" filter="url(#bl)"/>
<rect x="567.7" y="430.7" width="17.8" height="5.2" rx="3.56" ry="2.6" fill="#000" fill-opacity="1.00" filter="url(#bl)"/>
<rect x="503.85" y="465.2" width="18.3" height="5.2" rx="3.66" ry="2.6" fill="#000" fill-opacity="1.00" filter="url(#bl)"/>
<rect x="526.15" y="465.2" width="18.3" height="5.2" rx="3.66" ry="2.6" fill="#000" fill-opacity="1.00" filter="url(#bl)"/>
<rect x="547.25" y="465.2" width="18.3" height="5.2" rx="3.66" ry="2.6" fill="#000" fill-opacity="1.00" filter="url(#bl)"/>
<rect x="567.45" y="465.2" width="18.3" height="5.2" rx="3.66" ry="2.6" fill="#000" fill-opacity="1.00" filter="url(#bl)"/>
<rect x="587.95" y="465.2" width="18.3" height="5.2" rx="3.66" ry="2.6" fill="#000" fill-opacity="1.00" filter="url(#bl)"/>
<rect x="608.75" y="465.2" width="18.3" height="5.2" rx="3.66" ry="2.6" fill="#000" fill-opacity="1.00" filter="url(#bl)"/>
<rect x="629.65" y="465.2" width="18.3" height="5.2" rx="3.66" ry="2.6" fill="#000" fill-opacity="1.00" filter="url(#bl)"/>
<rect x="648.85" y="465.2" width="18.3" height="5.2" rx="3.66" ry="2.6" fill="#000" fill-opacity="1.00" filter="url(#bl)"/>
<rect x="548" y="482.7" width="16.8" height="4" rx="3.36" ry="2" fill="#000" fill-opacity="0.95" filter="url(#bl)"/>
<rect x="568.2" y="482.7" width="16.8" height="4" rx="3.36" ry="2" fill="#000" fill-opacity="0.90" filter="url(#bl)"/>
<rect x="588.7" y="482.7" width="16.8" height="4" rx="3.36" ry="2" fill="#000" fill-opacity="0.90" filter="url(#bl)"/>
<rect x="609.5" y="482.7" width="16.8" height="4" rx="3.36" ry="2" fill="#000" fill-opacity="0.90" filter="url(#bl)"/>
<rect x="630.4" y="482.7" width="16.8" height="4" rx="3.36" ry="2" fill="#000" fill-opacity="0.95" filter="url(#bl)"/>
<rect x="649.6" y="482.7" width="16.8" height="4" rx="3.36" ry="2" fill="#000" fill-opacity="0.90" filter="url(#bl)"/>
<rect x="526.65" y="499.7" width="17.3" height="5" rx="3.46" ry="2.5" fill="#000" fill-opacity="1.00" filter="url(#bl)"/>
<rect x="567.95" y="499.7" width="17.3" height="5" rx="3.46" ry="2.5" fill="#000" fill-opacity="1.00" filter="url(#bl)"/>
<rect x="609.25" y="499.7" width="17.3" height="5" rx="3.46" ry="2.5" fill="#000" fill-opacity="1.00" filter="url(#bl)"/>
<rect x="649.35" y="499.7" width="17.3" height="5" rx="3.46" ry="2.5" fill="#000" fill-opacity="1.00" filter="url(#bl)"/>
<text x="497.1" y="436.8" text-anchor="end">P-Ser (PEP)</text>
<text x="497.1" y="454.3" text-anchor="end">P-Ser (ATP)</text>
<text x="497.1" y="471" text-anchor="end">ALDOA</text>
<text x="497.1" y="487.9" text-anchor="end">PKM2</text>
<text x="497.1" y="505.1" text-anchor="end">circPETH-147aa</text>
<text x="674" y="424.7">kD</text>
<text x="674" y="434.2">40</text>
<line x1="669" y1="431.2" x2="671.2" y2="431.2" stroke="#333" stroke-width="0.9"/>
<text x="674" y="451.2">40</text>
<line x1="669" y1="448.2" x2="671.2" y2="448.2" stroke="#333" stroke-width="0.9"/>
<text x="674" y="468.8">40</text>
<line x1="669" y1="465.8" x2="671.2" y2="465.8" stroke="#333" stroke-width="0.9"/>
<text x="674" y="491.7">55</text>
<line x1="669" y1="488.7" x2="671.2" y2="488.7" stroke="#333" stroke-width="0.9"/>
<text x="674" y="509.3">15</text>
<line x1="669" y1="506.3" x2="671.2" y2="506.3" stroke="#333" stroke-width="0.9"/>
<text x="497.2" y="522" text-anchor="end">PKM1-WT</text>
<line x1="511" y1="519.3" x2="517" y2="519.3" stroke="#111" stroke-width="1.1"/>
<line x1="514" y1="516.8" x2="514" y2="521.8" stroke="#111" stroke-width="1.1"/>
<line x1="531" y1="519.3" x2="537" y2="519.3" stroke="#111" stroke-width="1.1"/>
<line x1="534" y1="516.8" x2="534" y2="521.8" stroke="#111" stroke-width="1.1"/>
<line x1="552.9" y1="519.5" x2="556.7" y2="519.5" stroke="#333" stroke-width="1.0"/>
<line x1="573.3" y1="519.5" x2="577.1" y2="519.5" stroke="#333" stroke-width="1.0"/>
<line x1="594.1" y1="519.5" x2="597.9" y2="519.5" stroke="#333" stroke-width="1.0"/>
<line x1="613.7" y1="519.5" x2="617.5" y2="519.5" stroke="#333" stroke-width="1.0"/>
<line x1="634.8" y1="519.5" x2="638.6" y2="519.5" stroke="#333" stroke-width="1.0"/>
<line x1="656.3" y1="519.5" x2="660.1" y2="519.5" stroke="#333" stroke-width="1.0"/>
<text x="497.2" y="538.8" text-anchor="end">PKM2-WT</text>
<line x1="512.1" y1="536.3" x2="515.9" y2="536.3" stroke="#333" stroke-width="1.0"/>
<line x1="532.1" y1="536.3" x2="535.9" y2="536.3" stroke="#333" stroke-width="1.0"/>
<line x1="551.8" y1="536.1" x2="557.8" y2="536.1" stroke="#111" stroke-width="1.1"/>
<line x1="554.8" y1="533.6" x2="554.8" y2="538.6" stroke="#111" stroke-width="1.1"/>
<line x1="572.2" y1="536.1" x2="578.2" y2="536.1" stroke="#111" stroke-width="1.1"/>
<line x1="575.2" y1="533.6" x2="575.2" y2="538.6" stroke="#111" stroke-width="1.1"/>
<line x1="594.1" y1="536.3" x2="597.9" y2="536.3" stroke="#333" stroke-width="1.0"/>
<line x1="613.7" y1="536.3" x2="617.5" y2="536.3" stroke="#333" stroke-width="1.0"/>
<line x1="633.7" y1="536.1" x2="639.7" y2="536.1" stroke="#111" stroke-width="1.1"/>
<line x1="636.7" y1="533.6" x2="636.7" y2="538.6" stroke="#111" stroke-width="1.1"/>
<line x1="655.2" y1="536.1" x2="661.2" y2="536.1" stroke="#111" stroke-width="1.1"/>
<line x1="658.2" y1="533.6" x2="658.2" y2="538.6" stroke="#111" stroke-width="1.1"/>
<text x="497.2" y="556.3" text-anchor="end">PKM2-K367M</text>
<line x1="512.1" y1="553.8" x2="515.9" y2="553.8" stroke="#333" stroke-width="1.0"/>
<line x1="532.1" y1="553.8" x2="535.9" y2="553.8" stroke="#333" stroke-width="1.0"/>
<line x1="552.9" y1="553.8" x2="556.7" y2="553.8" stroke="#333" stroke-width="1.0"/>
<line x1="573.3" y1="553.8" x2="577.1" y2="553.8" stroke="#333" stroke-width="1.0"/>
<line x1="593" y1="553.6" x2="599" y2="553.6" stroke="#111" stroke-width="1.1"/>
<line x1="596" y1="551.1" x2="596" y2="556.1" stroke="#111" stroke-width="1.1"/>
<line x1="612.6" y1="553.6" x2="618.6" y2="553.6" stroke="#111" stroke-width="1.1"/>
<line x1="615.6" y1="551.1" x2="615.6" y2="556.1" stroke="#111" stroke-width="1.1"/>
<line x1="634.8" y1="553.8" x2="638.6" y2="553.8" stroke="#333" stroke-width="1.0"/>
<line x1="656.3" y1="553.8" x2="660.1" y2="553.8" stroke="#333" stroke-width="1.0"/>
<text x="497.2" y="573.1" text-anchor="end">ALDOA-WT</text>
<line x1="511" y1="570.4" x2="517" y2="570.4" stroke="#111" stroke-width="1.1"/>
<line x1="514" y1="567.9" x2="514" y2="572.9" stroke="#111" stroke-width="1.1"/>
<line x1="531" y1="570.4" x2="537" y2="570.4" stroke="#111" stroke-width="1.1"/>
<line x1="534" y1="567.9" x2="534" y2="572.9" stroke="#111" stroke-width="1.1"/>
<line x1="551.8" y1="570.4" x2="557.8" y2="570.4" stroke="#111" stroke-width="1.1"/>
<line x1="554.8" y1="567.9" x2="554.8" y2="572.9" stroke="#111" stroke-width="1.1"/>
<line x1="572.2" y1="570.4" x2="578.2" y2="570.4" stroke="#111" stroke-width="1.1"/>
<line x1="575.2" y1="567.9" x2="575.2" y2="572.9" stroke="#111" stroke-width="1.1"/>
<line x1="593" y1="570.4" x2="599" y2="570.4" stroke="#111" stroke-width="1.1"/>
<line x1="596" y1="567.9" x2="596" y2="572.9" stroke="#111" stroke-width="1.1"/>
<line x1="612.6" y1="570.4" x2="618.6" y2="570.4" stroke="#111" stroke-width="1.1"/>
<line x1="615.6" y1="567.9" x2="615.6" y2="572.9" stroke="#111" stroke-width="1.1"/>
<line x1="634.8" y1="570.6" x2="638.6" y2="570.6" stroke="#333" stroke-width="1.0"/>
<line x1="656.3" y1="570.6" x2="660.1" y2="570.6" stroke="#333" stroke-width="1.0"/>
<text x="497.2" y="590.3" text-anchor="end">ALDOA-S36A</text>
<line x1="512.1" y1="587.8" x2="515.9" y2="587.8" stroke="#333" stroke-width="1.0"/>
<line x1="532.1" y1="587.8" x2="535.9" y2="587.8" stroke="#333" stroke-width="1.0"/>
<line x1="552.9" y1="587.8" x2="556.7" y2="587.8" stroke="#333" stroke-width="1.0"/>
<line x1="573.3" y1="587.8" x2="577.1" y2="587.8" stroke="#333" stroke-width="1.0"/>
<line x1="594.1" y1="587.8" x2="597.9" y2="587.8" stroke="#333" stroke-width="1.0"/>
<line x1="613.7" y1="587.8" x2="617.5" y2="587.8" stroke="#333" stroke-width="1.0"/>
<line x1="633.7" y1="587.6" x2="639.7" y2="587.6" stroke="#111" stroke-width="1.1"/>
<line x1="636.7" y1="585.1" x2="636.7" y2="590.1" stroke="#111" stroke-width="1.1"/>
<line x1="655.2" y1="587.6" x2="661.2" y2="587.6" stroke="#111" stroke-width="1.1"/>
<line x1="658.2" y1="585.1" x2="658.2" y2="590.1" stroke="#111" stroke-width="1.1"/>
<text x="497.2" y="607.8" text-anchor="end">circPETH-147aa</text>
<line x1="512.1" y1="605.3" x2="515.9" y2="605.3" stroke="#333" stroke-width="1.0"/>
<line x1="531" y1="605.1" x2="537" y2="605.1" stroke="#111" stroke-width="1.1"/>
<line x1="534" y1="602.6" x2="534" y2="607.6" stroke="#111" stroke-width="1.1"/>
<line x1="552.9" y1="605.3" x2="556.7" y2="605.3" stroke="#333" stroke-width="1.0"/>
<line x1="572.2" y1="605.1" x2="578.2" y2="605.1" stroke="#111" stroke-width="1.1"/>
<line x1="575.2" y1="602.6" x2="575.2" y2="607.6" stroke="#111" stroke-width="1.1"/>
<line x1="594.1" y1="605.3" x2="597.9" y2="605.3" stroke="#333" stroke-width="1.0"/>
<line x1="612.6" y1="605.1" x2="618.6" y2="605.1" stroke="#111" stroke-width="1.1"/>
<line x1="615.6" y1="602.6" x2="615.6" y2="607.6" stroke="#111" stroke-width="1.1"/>
<line x1="634.8" y1="605.3" x2="638.6" y2="605.3" stroke="#333" stroke-width="1.0"/>
<line x1="655.2" y1="605.1" x2="661.2" y2="605.1" stroke="#111" stroke-width="1.1"/>
<line x1="658.2" y1="602.6" x2="658.2" y2="607.6" stroke="#111" stroke-width="1.1"/>
<line x1="75.3" y1="671" x2="134.9" y2="671" stroke="#444" stroke-width="1"/>
<line x1="138.2" y1="671" x2="196.2" y2="671" stroke="#444" stroke-width="1"/>
<text x="105.1" y="668" text-anchor="middle">Hep3B</text>
<text x="167.5" y="668" text-anchor="middle">Huh-7</text>
<text x="86.65" y="705.8" transform="rotate(-90 86.65 705.8)">Vector</text>
<text x="107.65" y="705.8" transform="rotate(-90 107.65 705.8)">WT</text>
<text x="129.45" y="705.8" transform="rotate(-90 129.45 705.8)">MEG/3A</text>
<text x="148.85" y="705.8" transform="rotate(-90 148.85 705.8)">Vector</text>
<text x="170.35" y="705.8" transform="rotate(-90 170.35 705.8)">WT</text>
<text x="192.65" y="705.8" transform="rotate(-90 192.65 705.8)">MEG/3A</text>
<text x="69.2" y="690.8" text-anchor="end">HA/circPETH-</text>
<text x="69.2" y="701.8" text-anchor="end">147aa</text>
<rect x="72.5" y="709.5" width="63" height="15" rx="0.8" fill="#f3f3f3" stroke="#474747" stroke-width="1"/>
<rect x="137.5" y="709.5" width="63" height="15" rx="0.8" fill="#f3f3f3" stroke="#474747" stroke-width="1"/>
<rect x="72.5" y="726.5" width="63" height="15" rx="0.8" fill="#f3f3f3" stroke="#474747" stroke-width="1"/>
<rect x="137.5" y="726.5" width="63" height="15" rx="0.8" fill="#f3f3f3" stroke="#474747" stroke-width="1"/>
<rect x="72.5" y="743.5" width="63" height="15" rx="0.8" fill="#f3f3f3" stroke="#474747" stroke-width="1"/>
<rect x="137.5" y="743.5" width="63" height="15" rx="0.8" fill="#f3f3f3" stroke="#474747" stroke-width="1"/>
<rect x="72.5" y="760.5" width="63" height="14" rx="0.8" fill="#f3f3f3" stroke="#474747" stroke-width="1"/>
<rect x="137.5" y="760.5" width="63" height="14" rx="0.8" fill="#f3f3f3" stroke="#474747" stroke-width="1"/>
<rect x="72.5" y="777.5" width="63" height="15" rx="0.8" fill="#f3f3f3" stroke="#474747" stroke-width="1"/>
<rect x="137.5" y="777.5" width="63" height="15" rx="0.8" fill="#f3f3f3" stroke="#474747" stroke-width="1"/>
<rect x="72.5" y="794.5" width="63" height="15" rx="0.8" fill="#f3f3f3" stroke="#474747" stroke-width="1"/>
<rect x="137.5" y="794.5" width="63" height="15" rx="0.8" fill="#f3f3f3" stroke="#474747" stroke-width="1"/>
<rect x="72.5" y="811.5" width="63" height="15" rx="0.8" fill="#f3f3f3" stroke="#474747" stroke-width="1"/>
<rect x="137.5" y="811.5" width="63" height="15" rx="0.8" fill="#f3f3f3" stroke="#474747" stroke-width="1"/>
<rect x="73.65" y="714.55" width="18.3" height="5" rx="3.66" ry="2.5" fill="#000" fill-opacity="1.00" filter="url(#bl)"/>
<rect x="94.35" y="714.55" width="18.3" height="5" rx="3.66" ry="2.5" fill="#000" fill-opacity="1.00" filter="url(#bl)"/>
<rect x="115.45" y="714.55" width="18.3" height="5" rx="3.66" ry="2.5" fill="#000" fill-opacity="1.00" filter="url(#bl)"/>
<rect x="139.25" y="714.55" width="18.3" height="5" rx="3.66" ry="2.5" fill="#000" fill-opacity="1.00" filter="url(#bl)"/>
<rect x="160.45" y="714.55" width="18.3" height="5" rx="3.66" ry="2.5" fill="#000" fill-opacity="0.95" filter="url(#bl)"/>
<rect x="181.45" y="714.55" width="18.3" height="5" rx="3.66" ry="2.5" fill="#000" fill-opacity="0.95" filter="url(#bl)"/>
<rect x="73.65" y="732.75" width="18.3" height="3.6" rx="3.66" ry="1.8" fill="#000" fill-opacity="0.55" filter="url(#bl)"/>
<rect x="94.35" y="731.55" width="18.3" height="6" rx="3.66" ry="3" fill="#000" fill-opacity="1.00" filter="url(#bl)"/>
<rect x="115.45" y="732.95" width="18.3" height="3.2" rx="3.66" ry="1.6" fill="#000" fill-opacity="0.25" filter="url(#bl)"/>
<rect x="139.25" y="732.75" width="18.3" height="3.6" rx="3.66" ry="1.8" fill="#000" fill-opacity="0.62" filter="url(#bl)"/>
<rect x="160.45" y="731.55" width="18.3" height="6" rx="3.66" ry="3" fill="#000" fill-opacity="1.00" filter="url(#bl)"/>
<rect x="181.45" y="732.75" width="18.3" height="3.6" rx="3.66" ry="1.8" fill="#000" fill-opacity="0.55" filter="url(#bl)"/>
<rect x="73.65" y="748.95" width="18.3" height="3.6" rx="3.66" ry="1.8" fill="#000" fill-opacity="0.70" filter="url(#bl)"/>
<rect x="94.35" y="747.75" width="18.3" height="6" rx="3.66" ry="3" fill="#000" fill-opacity="1.00" filter="url(#bl)"/>
<rect x="115.45" y="748.95" width="18.3" height="3.6" rx="3.66" ry="1.8" fill="#000" fill-opacity="0.50" filter="url(#bl)"/>
<rect x="139.25" y="749.15" width="18.3" height="3.2" rx="3.66" ry="1.6" fill="#000" fill-opacity="0.22" filter="url(#bl)"/>
<rect x="160.45" y="747.75" width="18.3" height="6" rx="3.66" ry="3" fill="#000" fill-opacity="1.00" filter="url(#bl)"/>
<rect x="181.45" y="749.05" width="18.3" height="3.4" rx="3.66" ry="1.7" fill="#000" fill-opacity="0.35" filter="url(#bl)"/>
<rect x="73.65" y="765.15" width="18.3" height="5.8" rx="3.66" ry="2.9" fill="#000" fill-opacity="1.00" filter="url(#bl)"/>
<rect x="94.35" y="765.15" width="18.3" height="5.8" rx="3.66" ry="2.9" fill="#000" fill-opacity="1.00" filter="url(#bl)"/>
<rect x="115.45" y="765.15" width="18.3" height="5.8" rx="3.66" ry="2.9" fill="#000" fill-opacity="1.00" filter="url(#bl)"/>
<rect x="139.25" y="765.15" width="18.3" height="5.8" rx="3.66" ry="2.9" fill="#000" fill-opacity="1.00" filter="url(#bl)"/>
<rect x="160.45" y="765.15" width="18.3" height="5.8" rx="3.66" ry="2.9" fill="#000" fill-opacity="1.00" filter="url(#bl)"/>
<rect x="181.45" y="765.15" width="18.3" height="5.8" rx="3.66" ry="2.9" fill="#000" fill-opacity="1.00" filter="url(#bl)"/>
<rect x="94.35" y="781.95" width="18.3" height="5.4" rx="3.66" ry="2.7" fill="#000" fill-opacity="1.00" filter="url(#bl)"/>
<rect x="115.45" y="781.95" width="18.3" height="5.4" rx="3.66" ry="2.7" fill="#000" fill-opacity="1.00" filter="url(#bl)"/>
<rect x="160.45" y="781.95" width="18.3" height="5.4" rx="3.66" ry="2.7" fill="#000" fill-opacity="1.00" filter="url(#bl)"/>
<rect x="181.45" y="781.95" width="18.3" height="5.4" rx="3.66" ry="2.7" fill="#000" fill-opacity="1.00" filter="url(#bl)"/>
<rect x="73.65" y="799.75" width="18.3" height="4.6" rx="3.66" ry="2.3" fill="#000" fill-opacity="0.95" filter="url(#bl)"/>
<rect x="94.35" y="799.75" width="18.3" height="4.6" rx="3.66" ry="2.3" fill="#000" fill-opacity="0.95" filter="url(#bl)"/>
<rect x="115.45" y="799.75" width="18.3" height="4.6" rx="3.66" ry="2.3" fill="#000" fill-opacity="0.95" filter="url(#bl)"/>
<rect x="139.25" y="799.75" width="18.3" height="4.6" rx="3.66" ry="2.3" fill="#000" fill-opacity="0.95" filter="url(#bl)"/>
<rect x="160.45" y="799.75" width="18.3" height="4.6" rx="3.66" ry="2.3" fill="#000" fill-opacity="0.95" filter="url(#bl)"/>
<rect x="181.45" y="799.75" width="18.3" height="4.6" rx="3.66" ry="2.3" fill="#000" fill-opacity="0.95" filter="url(#bl)"/>
<rect x="73.65" y="816.05" width="18.3" height="6.2" rx="3.66" ry="3.1" fill="#000" fill-opacity="1.00" filter="url(#bl)"/>
<rect x="94.35" y="816.05" width="18.3" height="6.2" rx="3.66" ry="3.1" fill="#000" fill-opacity="1.00" filter="url(#bl)"/>
<rect x="115.45" y="816.05" width="18.3" height="6.2" rx="3.66" ry="3.1" fill="#000" fill-opacity="1.00" filter="url(#bl)"/>
<rect x="139.25" y="816.05" width="18.3" height="6.2" rx="3.66" ry="3.1" fill="#000" fill-opacity="1.00" filter="url(#bl)"/>
<rect x="160.45" y="816.05" width="18.3" height="6.2" rx="3.66" ry="3.1" fill="#000" fill-opacity="1.00" filter="url(#bl)"/>
<rect x="181.45" y="816.05" width="18.3" height="6.2" rx="3.66" ry="3.1" fill="#000" fill-opacity="1.00" filter="url(#bl)"/>
<text x="67.9" y="719.7" text-anchor="end">IB: PKM2</text>
<text x="67.9" y="736.7" text-anchor="end">IB: ALDOA</text>
<text x="67.9" y="753.5" text-anchor="end">IB: PKM2</text>
<text x="67.9" y="770.5" text-anchor="end">IB: ALDOA</text>
<text x="67.9" y="787.6" text-anchor="end">IB: HA</text>
<text x="67.9" y="805" text-anchor="end">IB: PKM2</text>
<text x="67.9" y="822.1" text-anchor="end">IB: ALDOA</text>
<line x1="10.8" y1="710.3" x2="10.8" y2="773.7" stroke="#777" stroke-width="1"/>
<line x1="24.5" y1="710.3" x2="24.5" y2="740.6" stroke="#777" stroke-width="1"/>
<line x1="23.2" y1="743.9" x2="23.2" y2="773.7" stroke="#777" stroke-width="1"/>
<line x1="24" y1="777" x2="24" y2="823.8" stroke="#777" stroke-width="1"/>
<text x="8.05" y="742.2" text-anchor="middle" transform="rotate(-90 8.05 742.2)">IP</text>
<text x="21.25" y="725.7" text-anchor="middle" transform="rotate(-90 21.25 725.7)">PKM2</text>
<text x="21.25" y="758.8" text-anchor="middle" transform="rotate(-90 21.25 758.8)">ALDOA</text>
<text x="20.95" y="801" text-anchor="middle" transform="rotate(-90 20.95 801)">Input</text>
<text x="205.8" y="709">kD</text>
<text x="205.8" y="724.1">55</text>
<line x1="200.8" y1="721.1" x2="203.2" y2="721.1" stroke="#333" stroke-width="0.9"/>
<text x="205.8" y="734.4">40</text>
<line x1="200.8" y1="731.4" x2="203.2" y2="731.4" stroke="#333" stroke-width="0.9"/>
<text x="205.8" y="758.4">55</text>
<line x1="200.8" y1="755.4" x2="203.2" y2="755.4" stroke="#333" stroke-width="0.9"/>
<text x="205.8" y="768.5">40</text>
<line x1="200.8" y1="765.5" x2="203.2" y2="765.5" stroke="#333" stroke-width="0.9"/>
<text x="205.8" y="791">15</text>
<line x1="200.8" y1="788" x2="203.2" y2="788" stroke="#333" stroke-width="0.9"/>
<text x="205.8" y="808.1">55</text>
<line x1="200.8" y1="805.1" x2="203.2" y2="805.1" stroke="#333" stroke-width="0.9"/>
<text x="205.8" y="818.8">40</text>
<line x1="200.8" y1="815.8" x2="203.2" y2="815.8" stroke="#333" stroke-width="0.9"/>
<line x1="288.6" y1="705" x2="347.8" y2="705" stroke="#444" stroke-width="1"/>
<line x1="351.3" y1="705" x2="410.4" y2="705" stroke="#444" stroke-width="1"/>
<text x="318.5" y="702.8" text-anchor="middle">Hep3B</text>
<text x="381" y="702.8" text-anchor="middle">Huh-7</text>
<text x="299.45" y="740.2" transform="rotate(-90 299.45 740.2)">Vector</text>
<text x="320.65" y="740.2" transform="rotate(-90 320.65 740.2)">WT</text>
<text x="342.65" y="740.2" transform="rotate(-90 342.65 740.2)">MEG/3A</text>
<text x="363.25" y="740.2" transform="rotate(-90 363.25 740.2)">Vector</text>
<text x="384.05" y="740.2" transform="rotate(-90 384.05 740.2)">WT</text>
<text x="405.75" y="740.2" transform="rotate(-90 405.75 740.2)">MEG/3A</text>
<text x="281.7" y="723.8" text-anchor="end">HA/circPETH-</text>
<text x="281.7" y="733.9" text-anchor="end">147aa</text>
<rect x="285.5" y="743.5" width="63" height="15" rx="0.8" fill="#f3f3f3" stroke="#474747" stroke-width="1"/>
<rect x="350.5" y="743.5" width="63" height="15" rx="0.8" fill="#f3f3f3" stroke="#474747" stroke-width="1"/>
<rect x="285.5" y="760.5" width="63" height="14" rx="0.8" fill="#f3f3f3" stroke="#474747" stroke-width="1"/>
<rect x="350.5" y="760.5" width="63" height="14" rx="0.8" fill="#f3f3f3" stroke="#474747" stroke-width="1"/>
<rect x="285.5" y="777.5" width="63" height="15" rx="0.8" fill="#f3f3f3" stroke="#474747" stroke-width="1"/>
<rect x="350.5" y="777.5" width="63" height="15" rx="0.8" fill="#f3f3f3" stroke="#474747" stroke-width="1"/>
<rect x="285.5" y="794.5" width="63" height="15" rx="0.8" fill="#f3f3f3" stroke="#474747" stroke-width="1"/>
<rect x="350.5" y="794.5" width="63" height="15" rx="0.8" fill="#f3f3f3" stroke="#474747" stroke-width="1"/>
<rect x="285.5" y="812.5" width="63" height="14" rx="0.8" fill="#f3f3f3" stroke="#474747" stroke-width="1"/>
<rect x="350.5" y="812.5" width="63" height="14" rx="0.8" fill="#f3f3f3" stroke="#474747" stroke-width="1"/>
<rect x="286.8" y="750.6" width="17.6" height="3" rx="3.52" ry="1.5" fill="#000" fill-opacity="0.20" filter="url(#bl)"/>
<rect x="308" y="749.5" width="17.6" height="5.2" rx="3.52" ry="2.6" fill="#000" fill-opacity="1.00" filter="url(#bl)"/>
<rect x="329" y="750.6" width="17.6" height="3" rx="3.52" ry="1.5" fill="#000" fill-opacity="0.35" filter="url(#bl)"/>
<rect x="351.8" y="750.4" width="17.6" height="3.4" rx="3.52" ry="1.7" fill="#000" fill-opacity="0.70" filter="url(#bl)"/>
<rect x="373.6" y="749.7" width="17.6" height="4.8" rx="3.52" ry="2.4" fill="#000" fill-opacity="0.95" filter="url(#bl)"/>
<rect x="394.2" y="750.5" width="17.6" height="3.2" rx="3.52" ry="1.6" fill="#000" fill-opacity="0.45" filter="url(#bl)"/>
<rect x="286.8" y="764.75" width="17.6" height="6" rx="3.52" ry="3" fill="#000" fill-opacity="1.00" filter="url(#bl)"/>
<rect x="308" y="764.75" width="17.6" height="6" rx="3.52" ry="3" fill="#000" fill-opacity="1.00" filter="url(#bl)"/>
<rect x="329" y="764.75" width="17.6" height="6" rx="3.52" ry="3" fill="#000" fill-opacity="1.00" filter="url(#bl)"/>
<rect x="351.8" y="764.75" width="17.6" height="6" rx="3.52" ry="3" fill="#000" fill-opacity="1.00" filter="url(#bl)"/>
<rect x="373.6" y="764.75" width="17.6" height="6" rx="3.52" ry="3" fill="#000" fill-opacity="1.00" filter="url(#bl)"/>
<rect x="394.2" y="764.75" width="17.6" height="6" rx="3.52" ry="3" fill="#000" fill-opacity="1.00" filter="url(#bl)"/>
<rect x="286.8" y="782.7" width="17.6" height="4.6" rx="3.52" ry="2.3" fill="#000" fill-opacity="0.95" filter="url(#bl)"/>
<rect x="308" y="782.7" width="17.6" height="4.6" rx="3.52" ry="2.3" fill="#000" fill-opacity="0.90" filter="url(#bl)"/>
<rect x="329" y="782.7" width="17.6" height="4.6" rx="3.52" ry="2.3" fill="#000" fill-opacity="0.95" filter="url(#bl)"/>
<rect x="351.8" y="782.7" width="17.6" height="4.6" rx="3.52" ry="2.3" fill="#000" fill-opacity="0.95" filter="url(#bl)"/>
<rect x="373.6" y="782.7" width="17.6" height="4.6" rx="3.52" ry="2.3" fill="#000" fill-opacity="0.90" filter="url(#bl)"/>
<rect x="394.2" y="782.7" width="17.6" height="4.6" rx="3.52" ry="2.3" fill="#000" fill-opacity="0.95" filter="url(#bl)"/>
<rect x="308" y="799.3" width="17.6" height="5.6" rx="3.52" ry="2.8" fill="#000" fill-opacity="1.00" filter="url(#bl)"/>
<rect x="329" y="799.3" width="17.6" height="5.6" rx="3.52" ry="2.8" fill="#000" fill-opacity="1.00" filter="url(#bl)"/>
<rect x="373.6" y="799.3" width="17.6" height="5.6" rx="3.52" ry="2.8" fill="#000" fill-opacity="1.00" filter="url(#bl)"/>
<rect x="394.2" y="799.3" width="17.6" height="5.6" rx="3.52" ry="2.8" fill="#000" fill-opacity="1.00" filter="url(#bl)"/>
<rect x="286.8" y="817" width="17.6" height="4.8" rx="3.52" ry="2.4" fill="#000" fill-opacity="0.95" filter="url(#bl)"/>
<rect x="308" y="817" width="17.6" height="4.8" rx="3.52" ry="2.4" fill="#000" fill-opacity="0.95" filter="url(#bl)"/>
<rect x="329" y="817" width="17.6" height="4.8" rx="3.52" ry="2.4" fill="#000" fill-opacity="0.95" filter="url(#bl)"/>
<rect x="351.8" y="817" width="17.6" height="4.8" rx="3.52" ry="2.4" fill="#000" fill-opacity="0.95" filter="url(#bl)"/>
<rect x="373.6" y="817" width="17.6" height="4.8" rx="3.52" ry="2.4" fill="#000" fill-opacity="0.95" filter="url(#bl)"/>
<rect x="394.2" y="817" width="17.6" height="4.8" rx="3.52" ry="2.4" fill="#000" fill-opacity="0.95" filter="url(#bl)"/>
<text x="239.4" y="747.5">IP: P-Ser</text>
<text x="239.4" y="758.5">IB: ALDOA</text>
<text x="280.7" y="771.2" text-anchor="end">ALDOA</text>
<text x="280.7" y="788.3" text-anchor="end">PKM2</text>
<text x="280.7" y="805.4" text-anchor="end">HA</text>
<text x="280.7" y="822.5" text-anchor="end">β-actin</text>
<line x1="236.5" y1="741.1" x2="236.5" y2="757.8" stroke="#777" stroke-width="1"/>
<line x1="248.5" y1="761.6" x2="248.5" y2="826.1" stroke="#777" stroke-width="1"/>
<text x="244.35" y="792.9" text-anchor="middle" transform="rotate(-90 244.35 792.9)">Input</text>
<text x="419" y="739.7">kD</text>
<text x="418.6" y="750.2">40</text>
<line x1="414.2" y1="747.2" x2="416.6" y2="747.2" stroke="#333" stroke-width="0.9"/>
<text x="418.6" y="767.8">40</text>
<line x1="414.2" y1="764.8" x2="416.6" y2="764.8" stroke="#333" stroke-width="0.9"/>
<text x="418.6" y="790">55</text>
<line x1="414.2" y1="787" x2="416.6" y2="787" stroke="#333" stroke-width="0.9"/>
<text x="418.6" y="808">15</text>
<line x1="414.2" y1="805" x2="416.6" y2="805" stroke="#333" stroke-width="0.9"/>
<text x="418.6" y="826.2">40</text>
<line x1="414.2" y1="823.2" x2="416.6" y2="823.2" stroke="#333" stroke-width="0.9"/>
<rect x="447.4" y="649.7" width="236" height="176.8" fill="#fff" stroke="#333" stroke-width="1"/>
<text x="504" y="644.8" text-anchor="middle">ALDOA</text>
<text x="623" y="644.3" text-anchor="middle">PKM2</text>
<text x="565.2" y="838.4" text-anchor="middle">circPETH-147aa</text>
<defs><g id="HT02" fill="none" stroke-linecap="round" stroke-linejoin="round"><path d="M-1.7,0.0 -1.8,2.2 -2.4,2.2 -2.5,0.0 -1.5,-2.2 0.1,-2.2 1.1,-0.0 1.0,2.2 0.4,2.2 0.3,0.0 1.3,-2.2 2.9,-2.2 3.9,-0.0" stroke="#1f8a7c" stroke-width="3.0"/><path d="M-1.7,0.0 -1.8,2.2 -2.4,2.2 -2.5,0.0 -1.5,-2.2 0.1,-2.2 1.1,-0.0 1.0,2.2 0.4,2.2 0.3,0.0 1.3,-2.2 2.9,-2.2 3.9,-0.0" stroke="#45c9b7" stroke-width="2.1"/><path d="M-1.7,0.0 -1.8,2.2 -2.4,2.2 -2.5,0.0 -1.5,-2.2 0.1,-2.2 1.1,-0.0 1.0,2.2 0.4,2.2 0.3,0.0 1.3,-2.2 2.9,-2.2 3.9,-0.0" stroke="#8fe8dc" stroke-width="0.6" transform="translate(0 -0.5)"/></g><g id="HT03" fill="none" stroke-linecap="round" stroke-linejoin="round"><path d="M-3.1,0.0 -3.2,2.2 -3.8,2.2 -3.9,0.0 -2.9,-2.2 -1.3,-2.2 -0.3,-0.0 -0.4,2.2 -1.0,2.2 -1.1,0.0 -0.1,-2.2 1.5,-2.2 2.5,-0.0 2.4,2.2 1.8,2.2 1.7,0.0 2.7,-2.2 4.3,-2.2 5.3,-0.0" stroke="#1f8a7c" stroke-width="3.0"/><path d="M-3.1,0.0 -3.2,2.2 -3.8,2.2 -3.9,0.0 -2.9,-2.2 -1.3,-2.2 -0.3,-0.0 -0.4,2.2 -1.0,2.2 -1.1,0.0 -0.1,-2.2 1.5,-2.2 2.5,-0.0 2.4,2.2 1.8,2.2 1.7,0.0 2.7,-2.2 4.3,-2.2 5.3,-0.0" stroke="#45c9b7" stroke-width="2.1"/><path d="M-3.1,0.0 -3.2,2.2 -3.8,2.2 -3.9,0.0 -2.9,-2.2 -1.3,-2.2 -0.3,-0.0 -0.4,2.2 -1.0,2.2 -1.1,0.0 -0.1,-2.2 1.5,-2.2 2.5,-0.0 2.4,2.2 1.8,2.2 1.7,0.0 2.7,-2.2 4.3,-2.2 5.3,-0.0" stroke="#8fe8dc" stroke-width="0.6" transform="translate(0 -0.5)"/></g><g id="HT04" fill="none" stroke-linecap="round" stroke-linejoin="round"><path d="M-4.5,0.0 -4.6,2.2 -5.2,2.2 -5.3,0.0 -4.3,-2.2 -2.7,-2.2 -1.7,-0.0 -1.8,2.2 -2.4,2.2 -2.5,0.0 -1.5,-2.2 0.1,-2.2 1.1,-0.0 1.0,2.2 0.4,2.2 0.3,0.0 1.3,-2.2 2.9,-2.2 3.9,-0.0 3.8,2.2 3.2,2.2 3.1,0.0 4.1,-2.2 5.7,-2.2 6.7,-0.0" stroke="#1f8a7c" stroke-width="3.0"/><path d="M-4.5,0.0 -4.6,2.2 -5.2,2.2 -5.3,0.0 -4.3,-2.2 -2.7,-2.2 -1.7,-0.0 -1.8,2.2 -2.4,2.2 -2.5,0.0 -1.5,-2.2 0.1,-2.2 1.1,-0.0 1.0,2.2 0.4,2.2 0.3,0.0 1.3,-2.2 2.9,-2.2 3.9,-0.0 3.8,2.2 3.2,2.2 3.1,0.0 4.1,-2.2 5.7,-2.2 6.7,-0.0" stroke="#45c9b7" stroke-width="2.1"/><path d="M-4.5,0.0 -4.6,2.2 -5.2,2.2 -5.3,0.0 -4.3,-2.2 -2.7,-2.2 -1.7,-0.0 -1.8,2.2 -2.4,2.2 -2.5,0.0 -1.5,-2.2 0.1,-2.2 1.1,-0.0 1.0,2.2 0.4,2.2 0.3,0.0 1.3,-2.2 2.9,-2.2 3.9,-0.0 3.8,2.2 3.2,2.2 3.1,0.0 4.1,-2.2 5.7,-2.2 6.7,-0.0" stroke="#8fe8dc" stroke-width="0.6" transform="translate(0 -0.5)"/></g><g id="HT05" fill="none" stroke-linecap="round" stroke-linejoin="round"><path d="M-5.9,0.0 -6.0,2.2 -6.6,2.2 -6.7,0.0 -5.7,-2.2 -4.1,-2.2 -3.1,-0.0 -3.2,2.2 -3.8,2.2 -3.9,0.0 -2.9,-2.2 -1.3,-2.2 -0.3,-0.0 -0.4,2.2 -1.0,2.2 -1.1,0.0 -0.1,-2.2 1.5,-2.2 2.5,-0.0 2.4,2.2 1.8,2.2 1.7,0.0 2.7,-2.2 4.3,-2.2 5.3,-0.0 5.2,2.2 4.6,2.2 4.5,0.0 5.5,-2.2 7.1,-2.2 8.1,-0.0" stroke="#1f8a7c" stroke-width="3.0"/><path d="M-5.9,0.0 -6.0,2.2 -6.6,2.2 -6.7,0.0 -5.7,-2.2 -4.1,-2.2 -3.1,-0.0 -3.2,2.2 -3.8,2.2 -3.9,0.0 -2.9,-2.2 -1.3,-2.2 -0.3,-0.0 -0.4,2.2 -1.0,2.2 -1.1,0.0 -0.1,-2.2 1.5,-2.2 2.5,-0.0 2.4,2.2 1.8,2.2 1.7,0.0 2.7,-2.2 4.3,-2.2 5.3,-0.0 5.2,2.2 4.6,2.2 4.5,0.0 5.5,-2.2 7.1,-2.2 8.1,-0.0" stroke="#45c9b7" stroke-width="2.1"/><path d="M-5.9,0.0 -6.0,2.2 -6.6,2.2 -6.7,0.0 -5.7,-2.2 -4.1,-2.2 -3.1,-0.0 -3.2,2.2 -3.8,2.2 -3.9,0.0 -2.9,-2.2 -1.3,-2.2 -0.3,-0.0 -0.4,2.2 -1.0,2.2 -1.1,0.0 -0.1,-2.2 1.5,-2.2 2.5,-0.0 2.4,2.2 1.8,2.2 1.7,0.0 2.7,-2.2 4.3,-2.2 5.3,-0.0 5.2,2.2 4.6,2.2 4.5,0.0 5.5,-2.2 7.1,-2.2 8.1,-0.0" stroke="#8fe8dc" stroke-width="0.6" transform="translate(0 -0.5)"/></g><g id="RT00" fill="none"><path d="M-4.0,0 Q0,0 4.0,0" stroke="#1f8a7c" stroke-width="3.8"/><path d="M-4.0,0 Q0,0 4.0,0" stroke="#45c9b7" stroke-width="2.8"/><path d="M-4.0,0 Q0,0 4.0,0" stroke="#8fe8dc" stroke-width="0.9" transform="translate(0 -0.8)"/></g><g id="RT01" fill="none"><path d="M-5.0,0 Q0,2.0 5.0,0" stroke="#1f8a7c" stroke-width="3.8"/><path d="M-5.0,0 Q0,2.0 5.0,0" stroke="#45c9b7" stroke-width="2.8"/><path d="M-5.0,0 Q0,2.0 5.0,0" stroke="#8fe8dc" stroke-width="0.9" transform="translate(0 -0.8)"/></g><g id="RT02" fill="none"><path d="M-6.0,0 Q0,-2.0 6.0,0" stroke="#1f8a7c" stroke-width="3.8"/><path d="M-6.0,0 Q0,-2.0 6.0,0" stroke="#45c9b7" stroke-width="2.8"/><path d="M-6.0,0 Q0,-2.0 6.0,0" stroke="#8fe8dc" stroke-width="0.9" transform="translate(0 -0.8)"/></g><g id="RT03" fill="none"><path d="M-7.0,0 Q0,1.2 7.0,0" stroke="#1f8a7c" stroke-width="3.8"/><path d="M-7.0,0 Q0,1.2 7.0,0" stroke="#45c9b7" stroke-width="2.8"/><path d="M-7.0,0 Q0,1.2 7.0,0" stroke="#8fe8dc" stroke-width="0.9" transform="translate(0 -0.8)"/></g><g id="HT12" fill="none" stroke-linecap="round" stroke-linejoin="round"><path d="M-1.7,0.0 -1.8,2.2 -2.4,2.2 -2.5,0.0 -1.5,-2.2 0.1,-2.2 1.1,-0.0 1.0,2.2 0.4,2.2 0.3,0.0 1.3,-2.2 2.9,-2.2 3.9,-0.0" stroke="#25968a" stroke-width="3.0"/><path d="M-1.7,0.0 -1.8,2.2 -2.4,2.2 -2.5,0.0 -1.5,-2.2 0.1,-2.2 1.1,-0.0 1.0,2.2 0.4,2.2 0.3,0.0 1.3,-2.2 2.9,-2.2 3.9,-0.0" stroke="#52d3c2" stroke-width="2.1"/><path d="M-1.7,0.0 -1.8,2.2 -2.4,2.2 -2.5,0.0 -1.5,-2.2 0.1,-2.2 1.1,-0.0 1.0,2.2 0.4,2.2 0.3,0.0 1.3,-2.2 2.9,-2.2 3.9,-0.0" stroke="#a0f0e6" stroke-width="0.6" transform="translate(0 -0.5)"/></g><g id="HT13" fill="none" stroke-linecap="round" stroke-linejoin="round"><path d="M-3.1,0.0 -3.2,2.2 -3.8,2.2 -3.9,0.0 -2.9,-2.2 -1.3,-2.2 -0.3,-0.0 -0.4,2.2 -1.0,2.2 -1.1,0.0 -0.1,-2.2 1.5,-2.2 2.5,-0.0 2.4,2.2 1.8,2.2 1.7,0.0 2.7,-2.2 4.3,-2.2 5.3,-0.0" stroke="#25968a" stroke-width="3.0"/><path d="M-3.1,0.0 -3.2,2.2 -3.8,2.2 -3.9,0.0 -2.9,-2.2 -1.3,-2.2 -0.3,-0.0 -0.4,2.2 -1.0,2.2 -1.1,0.0 -0.1,-2.2 1.5,-2.2 2.5,-0.0 2.4,2.2 1.8,2.2 1.7,0.0 2.7,-2.2 4.3,-2.2 5.3,-0.0" stroke="#52d3c2" stroke-width="2.1"/><path d="M-3.1,0.0 -3.2,2.2 -3.8,2.2 -3.9,0.0 -2.9,-2.2 -1.3,-2.2 -0.3,-0.0 -0.4,2.2 -1.0,2.2 -1.1,0.0 -0.1,-2.2 1.5,-2.2 2.5,-0.0 2.4,2.2 1.8,2.2 1.7,0.0 2.7,-2.2 4.3,-2.2 5.3,-0.0" stroke="#a0f0e6" stroke-width="0.6" transform="translate(0 -0.5)"/></g><g id="HT14" fill="none" stroke-linecap="round" stroke-linejoin="round"><path d="M-4.5,0.0 -4.6,2.2 -5.2,2.2 -5.3,0.0 -4.3,-2.2 -2.7,-2.2 -1.7,-0.0 -1.8,2.2 -2.4,2.2 -2.5,0.0 -1.5,-2.2 0.1,-2.2 1.1,-0.0 1.0,2.2 0.4,2.2 0.3,0.0 1.3,-2.2 2.9,-2.2 3.9,-0.0 3.8,2.2 3.2,2.2 3.1,0.0 4.1,-2.2 5.7,-2.2 6.7,-0.0" stroke="#25968a" stroke-width="3.0"/><path d="M-4.5,0.0 -4.6,2.2 -5.2,2.2 -5.3,0.0 -4.3,-2.2 -2.7,-2.2 -1.7,-0.0 -1.8,2.2 -2.4,2.2 -2.5,0.0 -1.5,-2.2 0.1,-2.2 1.1,-0.0 1.0,2.2 0.4,2.2 0.3,0.0 1.3,-2.2 2.9,-2.2 3.9,-0.0 3.8,2.2 3.2,2.2 3.1,0.0 4.1,-2.2 5.7,-2.2 6.7,-0.0" stroke="#52d3c2" stroke-width="2.1"/><path d="M-4.5,0.0 -4.6,2.2 -5.2,2.2 -5.3,0.0 -4.3,-2.2 -2.7,-2.2 -1.7,-0.0 -1.8,2.2 -2.4,2.2 -2.5,0.0 -1.5,-2.2 0.1,-2.2 1.1,-0.0 1.0,2.2 0.4,2.2 0.3,0.0 1.3,-2.2 2.9,-2.2 3.9,-0.0 3.8,2.2 3.2,2.2 3.1,0.0 4.1,-2.2 5.7,-2.2 6.7,-0.0" stroke="#a0f0e6" stroke-width="0.6" transform="translate(0 -0.5)"/></g><g id="HT15" fill="none" stroke-linecap="round" stroke-linejoin="round"><path d="M-5.9,0.0 -6.0,2.2 -6.6,2.2 -6.7,0.0 -5.7,-2.2 -4.1,-2.2 -3.1,-0.0 -3.2,2.2 -3.8,2.2 -3.9,0.0 -2.9,-2.2 -1.3,-2.2 -0.3,-0.0 -0.4,2.2 -1.0,2.2 -1.1,0.0 -0.1,-2.2 1.5,-2.2 2.5,-0.0 2.4,2.2 1.8,2.2 1.7,0.0 2.7,-2.2 4.3,-2.2 5.3,-0.0 5.2,2.2 4.6,2.2 4.5,0.0 5.5,-2.2 7.1,-2.2 8.1,-0.0" stroke="#25968a" stroke-width="3.0"/><path d="M-5.9,0.0 -6.0,2.2 -6.6,2.2 -6.7,0.0 -5.7,-2.2 -4.1,-2.2 -3.1,-0.0 -3.2,2.2 -3.8,2.2 -3.9,0.0 -2.9,-2.2 -1.3,-2.2 -0.3,-0.0 -0.4,2.2 -1.0,2.2 -1.1,0.0 -0.1,-2.2 1.5,-2.2 2.5,-0.0 2.4,2.2 1.8,2.2 1.7,0.0 2.7,-2.2 4.3,-2.2 5.3,-0.0 5.2,2.2 4.6,2.2 4.5,0.0 5.5,-2.2 7.1,-2.2 8.1,-0.0" stroke="#52d3c2" stroke-width="2.1"/><path d="M-5.9,0.0 -6.0,2.2 -6.6,2.2 -6.7,0.0 -5.7,-2.2 -4.1,-2.2 -3.1,-0.0 -3.2,2.2 -3.8,2.2 -3.9,0.0 -2.9,-2.2 -1.3,-2.2 -0.3,-0.0 -0.4,2.2 -1.0,2.2 -1.1,0.0 -0.1,-2.2 1.5,-2.2 2.5,-0.0 2.4,2.2 1.8,2.2 1.7,0.0 2.7,-2.2 4.3,-2.2 5.3,-0.0 5.2,2.2 4.6,2.2 4.5,0.0 5.5,-2.2 7.1,-2.2 8.1,-0.0" stroke="#a0f0e6" stroke-width="0.6" transform="translate(0 -0.5)"/></g><g id="RT10" fill="none"><path d="M-4.0,0 Q0,0 4.0,0" stroke="#25968a" stroke-width="3.8"/><path d="M-4.0,0 Q0,0 4.0,0" stroke="#52d3c2" stroke-width="2.8"/><path d="M-4.0,0 Q0,0 4.0,0" stroke="#a0f0e6" stroke-width="0.9" transform="translate(0 -0.8)"/></g><g id="RT11" fill="none"><path d="M-5.0,0 Q0,2.0 5.0,0" stroke="#25968a" stroke-width="3.8"/><path d="M-5.0,0 Q0,2.0 5.0,0" stroke="#52d3c2" stroke-width="2.8"/><path d="M-5.0,0 Q0,2.0 5.0,0" stroke="#a0f0e6" stroke-width="0.9" transform="translate(0 -0.8)"/></g><g id="RT12" fill="none"><path d="M-6.0,0 Q0,-2.0 6.0,0" stroke="#25968a" stroke-width="3.8"/><path d="M-6.0,0 Q0,-2.0 6.0,0" stroke="#52d3c2" stroke-width="2.8"/><path d="M-6.0,0 Q0,-2.0 6.0,0" stroke="#a0f0e6" stroke-width="0.9" transform="translate(0 -0.8)"/></g><g id="RT13" fill="none"><path d="M-7.0,0 Q0,1.2 7.0,0" stroke="#25968a" stroke-width="3.8"/><path d="M-7.0,0 Q0,1.2 7.0,0" stroke="#52d3c2" stroke-width="2.8"/><path d="M-7.0,0 Q0,1.2 7.0,0" stroke="#a0f0e6" stroke-width="0.9" transform="translate(0 -0.8)"/></g><g id="HG02" fill="none" stroke-linecap="round" stroke-linejoin="round"><path d="M-1.7,0.0 -1.8,2.2 -2.4,2.2 -2.5,0.0 -1.5,-2.2 0.1,-2.2 1.1,-0.0 1.0,2.2 0.4,2.2 0.3,0.0 1.3,-2.2 2.9,-2.2 3.9,-0.0" stroke="#8a5a04" stroke-width="3.0"/><path d="M-1.7,0.0 -1.8,2.2 -2.4,2.2 -2.5,0.0 -1.5,-2.2 0.1,-2.2 1.1,-0.0 1.0,2.2 0.4,2.2 0.3,0.0 1.3,-2.2 2.9,-2.2 3.9,-0.0" stroke="#cf8f0e" stroke-width="2.1"/><path d="M-1.7,0.0 -1.8,2.2 -2.4,2.2 -2.5,0.0 -1.5,-2.2 0.1,-2.2 1.1,-0.0 1.0,2.2 0.4,2.2 0.3,0.0 1.3,-2.2 2.9,-2.2 3.9,-0.0" stroke="#f2be50" stroke-width="0.6" transform="translate(0 -0.5)"/></g><g id="HG03" fill="none" stroke-linecap="round" stroke-linejoin="round"><path d="M-3.1,0.0 -3.2,2.2 -3.8,2.2 -3.9,0.0 -2.9,-2.2 -1.3,-2.2 -0.3,-0.0 -0.4,2.2 -1.0,2.2 -1.1,0.0 -0.1,-2.2 1.5,-2.2 2.5,-0.0 2.4,2.2 1.8,2.2 1.7,0.0 2.7,-2.2 4.3,-2.2 5.3,-0.0" stroke="#8a5a04" stroke-width="3.0"/><path d="M-3.1,0.0 -3.2,2.2 -3.8,2.2 -3.9,0.0 -2.9,-2.2 -1.3,-2.2 -0.3,-0.0 -0.4,2.2 -1.0,2.2 -1.1,0.0 -0.1,-2.2 1.5,-2.2 2.5,-0.0 2.4,2.2 1.8,2.2 1.7,0.0 2.7,-2.2 4.3,-2.2 5.3,-0.0" stroke="#cf8f0e" stroke-width="2.1"/><path d="M-3.1,0.0 -3.2,2.2 -3.8,2.2 -3.9,0.0 -2.9,-2.2 -1.3,-2.2 -0.3,-0.0 -0.4,2.2 -1.0,2.2 -1.1,0.0 -0.1,-2.2 1.5,-2.2 2.5,-0.0 2.4,2.2 1.8,2.2 1.7,0.0 2.7,-2.2 4.3,-2.2 5.3,-0.0" stroke="#f2be50" stroke-width="0.6" transform="translate(0 -0.5)"/></g><g id="HG04" fill="none" stroke-linecap="round" stroke-linejoin="round"><path d="M-4.5,0.0 -4.6,2.2 -5.2,2.2 -5.3,0.0 -4.3,-2.2 -2.7,-2.2 -1.7,-0.0 -1.8,2.2 -2.4,2.2 -2.5,0.0 -1.5,-2.2 0.1,-2.2 1.1,-0.0 1.0,2.2 0.4,2.2 0.3,0.0 1.3,-2.2 2.9,-2.2 3.9,-0.0 3.8,2.2 3.2,2.2 3.1,0.0 4.1,-2.2 5.7,-2.2 6.7,-0.0" stroke="#8a5a04" stroke-width="3.0"/><path d="M-4.5,0.0 -4.6,2.2 -5.2,2.2 -5.3,0.0 -4.3,-2.2 -2.7,-2.2 -1.7,-0.0 -1.8,2.2 -2.4,2.2 -2.5,0.0 -1.5,-2.2 0.1,-2.2 1.1,-0.0 1.0,2.2 0.4,2.2 0.3,0.0 1.3,-2.2 2.9,-2.2 3.9,-0.0 3.8,2.2 3.2,2.2 3.1,0.0 4.1,-2.2 5.7,-2.2 6.7,-0.0" stroke="#cf8f0e" stroke-width="2.1"/><path d="M-4.5,0.0 -4.6,2.2 -5.2,2.2 -5.3,0.0 -4.3,-2.2 -2.7,-2.2 -1.7,-0.0 -1.8,2.2 -2.4,2.2 -2.5,0.0 -1.5,-2.2 0.1,-2.2 1.1,-0.0 1.0,2.2 0.4,2.2 0.3,0.0 1.3,-2.2 2.9,-2.2 3.9,-0.0 3.8,2.2 3.2,2.2 3.1,0.0 4.1,-2.2 5.7,-2.2 6.7,-0.0" stroke="#f2be50" stroke-width="0.6" transform="translate(0 -0.5)"/></g><g id="HG05" fill="none" stroke-linecap="round" stroke-linejoin="round"><path d="M-5.9,0.0 -6.0,2.2 -6.6,2.2 -6.7,0.0 -5.7,-2.2 -4.1,-2.2 -3.1,-0.0 -3.2,2.2 -3.8,2.2 -3.9,0.0 -2.9,-2.2 -1.3,-2.2 -0.3,-0.0 -0.4,2.2 -1.0,2.2 -1.1,0.0 -0.1,-2.2 1.5,-2.2 2.5,-0.0 2.4,2.2 1.8,2.2 1.7,0.0 2.7,-2.2 4.3,-2.2 5.3,-0.0 5.2,2.2 4.6,2.2 4.5,0.0 5.5,-2.2 7.1,-2.2 8.1,-0.0" stroke="#8a5a04" stroke-width="3.0"/><path d="M-5.9,0.0 -6.0,2.2 -6.6,2.2 -6.7,0.0 -5.7,-2.2 -4.1,-2.2 -3.1,-0.0 -3.2,2.2 -3.8,2.2 -3.9,0.0 -2.9,-2.2 -1.3,-2.2 -0.3,-0.0 -0.4,2.2 -1.0,2.2 -1.1,0.0 -0.1,-2.2 1.5,-2.2 2.5,-0.0 2.4,2.2 1.8,2.2 1.7,0.0 2.7,-2.2 4.3,-2.2 5.3,-0.0 5.2,2.2 4.6,2.2 4.5,0.0 5.5,-2.2 7.1,-2.2 8.1,-0.0" stroke="#cf8f0e" stroke-width="2.1"/><path d="M-5.9,0.0 -6.0,2.2 -6.6,2.2 -6.7,0.0 -5.7,-2.2 -4.1,-2.2 -3.1,-0.0 -3.2,2.2 -3.8,2.2 -3.9,0.0 -2.9,-2.2 -1.3,-2.2 -0.3,-0.0 -0.4,2.2 -1.0,2.2 -1.1,0.0 -0.1,-2.2 1.5,-2.2 2.5,-0.0 2.4,2.2 1.8,2.2 1.7,0.0 2.7,-2.2 4.3,-2.2 5.3,-0.0 5.2,2.2 4.6,2.2 4.5,0.0 5.5,-2.2 7.1,-2.2 8.1,-0.0" stroke="#f2be50" stroke-width="0.6" transform="translate(0 -0.5)"/></g><g id="RG00" fill="none"><path d="M-4.0,0 Q0,0 4.0,0" stroke="#8a5a04" stroke-width="3.8"/><path d="M-4.0,0 Q0,0 4.0,0" stroke="#cf8f0e" stroke-width="2.8"/><path d="M-4.0,0 Q0,0 4.0,0" stroke="#f2be50" stroke-width="0.9" transform="translate(0 -0.8)"/></g><g id="RG01" fill="none"><path d="M-5.0,0 Q0,2.0 5.0,0" stroke="#8a5a04" stroke-width="3.8"/><path d="M-5.0,0 Q0,2.0 5.0,0" stroke="#cf8f0e" stroke-width="2.8"/><path d="M-5.0,0 Q0,2.0 5.0,0" stroke="#f2be50" stroke-width="0.9" transform="translate(0 -0.8)"/></g><g id="RG02" fill="none"><path d="M-6.0,0 Q0,-2.0 6.0,0" stroke="#8a5a04" stroke-width="3.8"/><path d="M-6.0,0 Q0,-2.0 6.0,0" stroke="#cf8f0e" stroke-width="2.8"/><path d="M-6.0,0 Q0,-2.0 6.0,0" stroke="#f2be50" stroke-width="0.9" transform="translate(0 -0.8)"/></g><g id="RG03" fill="none"><path d="M-7.0,0 Q0,1.2 7.0,0" stroke="#8a5a04" stroke-width="3.8"/><path d="M-7.0,0 Q0,1.2 7.0,0" stroke="#cf8f0e" stroke-width="2.8"/><path d="M-7.0,0 Q0,1.2 7.0,0" stroke="#f2be50" stroke-width="0.9" transform="translate(0 -0.8)"/></g><g id="HG12" fill="none" stroke-linecap="round" stroke-linejoin="round"><path d="M-1.7,0.0 -1.8,2.2 -2.4,2.2 -2.5,0.0 -1.5,-2.2 0.1,-2.2 1.1,-0.0 1.0,2.2 0.4,2.2 0.3,0.0 1.3,-2.2 2.9,-2.2 3.9,-0.0" stroke="#95650a" stroke-width="3.0"/><path d="M-1.7,0.0 -1.8,2.2 -2.4,2.2 -2.5,0.0 -1.5,-2.2 0.1,-2.2 1.1,-0.0 1.0,2.2 0.4,2.2 0.3,0.0 1.3,-2.2 2.9,-2.2 3.9,-0.0" stroke="#daa024" stroke-width="2.1"/><path d="M-1.7,0.0 -1.8,2.2 -2.4,2.2 -2.5,0.0 -1.5,-2.2 0.1,-2.2 1.1,-0.0 1.0,2.2 0.4,2.2 0.3,0.0 1.3,-2.2 2.9,-2.2 3.9,-0.0" stroke="#f6cc6a" stroke-width="0.6" transform="translate(0 -0.5)"/></g><g id="HG13" fill="none" stroke-linecap="round" stroke-linejoin="round"><path d="M-3.1,0.0 -3.2,2.2 -3.8,2.2 -3.9,0.0 -2.9,-2.2 -1.3,-2.2 -0.3,-0.0 -0.4,2.2 -1.0,2.2 -1.1,0.0 -0.1,-2.2 1.5,-2.2 2.5,-0.0 2.4,2.2 1.8,2.2 1.7,0.0 2.7,-2.2 4.3,-2.2 5.3,-0.0" stroke="#95650a" stroke-width="3.0"/><path d="M-3.1,0.0 -3.2,2.2 -3.8,2.2 -3.9,0.0 -2.9,-2.2 -1.3,-2.2 -0.3,-0.0 -0.4,2.2 -1.0,2.2 -1.1,0.0 -0.1,-2.2 1.5,-2.2 2.5,-0.0 2.4,2.2 1.8,2.2 1.7,0.0 2.7,-2.2 4.3,-2.2 5.3,-0.0" stroke="#daa024" stroke-width="2.1"/><path d="M-3.1,0.0 -3.2,2.2 -3.8,2.2 -3.9,0.0 -2.9,-2.2 -1.3,-2.2 -0.3,-0.0 -0.4,2.2 -1.0,2.2 -1.1,0.0 -0.1,-2.2 1.5,-2.2 2.5,-0.0 2.4,2.2 1.8,2.2 1.7,0.0 2.7,-2.2 4.3,-2.2 5.3,-0.0" stroke="#f6cc6a" stroke-width="0.6" transform="translate(0 -0.5)"/></g><g id="HG14" fill="none" stroke-linecap="round" stroke-linejoin="round"><path d="M-4.5,0.0 -4.6,2.2 -5.2,2.2 -5.3,0.0 -4.3,-2.2 -2.7,-2.2 -1.7,-0.0 -1.8,2.2 -2.4,2.2 -2.5,0.0 -1.5,-2.2 0.1,-2.2 1.1,-0.0 1.0,2.2 0.4,2.2 0.3,0.0 1.3,-2.2 2.9,-2.2 3.9,-0.0 3.8,2.2 3.2,2.2 3.1,0.0 4.1,-2.2 5.7,-2.2 6.7,-0.0" stroke="#95650a" stroke-width="3.0"/><path d="M-4.5,0.0 -4.6,2.2 -5.2,2.2 -5.3,0.0 -4.3,-2.2 -2.7,-2.2 -1.7,-0.0 -1.8,2.2 -2.4,2.2 -2.5,0.0 -1.5,-2.2 0.1,-2.2 1.1,-0.0 1.0,2.2 0.4,2.2 0.3,0.0 1.3,-2.2 2.9,-2.2 3.9,-0.0 3.8,2.2 3.2,2.2 3.1,0.0 4.1,-2.2 5.7,-2.2 6.7,-0.0" stroke="#daa024" stroke-width="2.1"/><path d="M-4.5,0.0 -4.6,2.2 -5.2,2.2 -5.3,0.0 -4.3,-2.2 -2.7,-2.2 -1.7,-0.0 -1.8,2.2 -2.4,2.2 -2.5,0.0 -1.5,-2.2 0.1,-2.2 1.1,-0.0 1.0,2.2 0.4,2.2 0.3,0.0 1.3,-2.2 2.9,-2.2 3.9,-0.0 3.8,2.2 3.2,2.2 3.1,0.0 4.1,-2.2 5.7,-2.2 6.7,-0.0" stroke="#f6cc6a" stroke-width="0.6" transform="translate(0 -0.5)"/></g><g id="HG15" fill="none" stroke-linecap="round" stroke-linejoin="round"><path d="M-5.9,0.0 -6.0,2.2 -6.6,2.2 -6.7,0.0 -5.7,-2.2 -4.1,-2.2 -3.1,-0.0 -3.2,2.2 -3.8,2.2 -3.9,0.0 -2.9,-2.2 -1.3,-2.2 -0.3,-0.0 -0.4,2.2 -1.0,2.2 -1.1,0.0 -0.1,-2.2 1.5,-2.2 2.5,-0.0 2.4,2.2 1.8,2.2 1.7,0.0 2.7,-2.2 4.3,-2.2 5.3,-0.0 5.2,2.2 4.6,2.2 4.5,0.0 5.5,-2.2 7.1,-2.2 8.1,-0.0" stroke="#95650a" stroke-width="3.0"/><path d="M-5.9,0.0 -6.0,2.2 -6.6,2.2 -6.7,0.0 -5.7,-2.2 -4.1,-2.2 -3.1,-0.0 -3.2,2.2 -3.8,2.2 -3.9,0.0 -2.9,-2.2 -1.3,-2.2 -0.3,-0.0 -0.4,2.2 -1.0,2.2 -1.1,0.0 -0.1,-2.2 1.5,-2.2 2.5,-0.0 2.4,2.2 1.8,2.2 1.7,0.0 2.7,-2.2 4.3,-2.2 5.3,-0.0 5.2,2.2 4.6,2.2 4.5,0.0 5.5,-2.2 7.1,-2.2 8.1,-0.0" stroke="#daa024" stroke-width="2.1"/><path d="M-5.9,0.0 -6.0,2.2 -6.6,2.2 -6.7,0.0 -5.7,-2.2 -4.1,-2.2 -3.1,-0.0 -3.2,2.2 -3.8,2.2 -3.9,0.0 -2.9,-2.2 -1.3,-2.2 -0.3,-0.0 -0.4,2.2 -1.0,2.2 -1.1,0.0 -0.1,-2.2 1.5,-2.2 2.5,-0.0 2.4,2.2 1.8,2.2 1.7,0.0 2.7,-2.2 4.3,-2.2 5.3,-0.0 5.2,2.2 4.6,2.2 4.5,0.0 5.5,-2.2 7.1,-2.2 8.1,-0.0" stroke="#f6cc6a" stroke-width="0.6" transform="translate(0 -0.5)"/></g><g id="RG10" fill="none"><path d="M-4.0,0 Q0,0 4.0,0" stroke="#95650a" stroke-width="3.8"/><path d="M-4.0,0 Q0,0 4.0,0" stroke="#daa024" stroke-width="2.8"/><path d="M-4.0,0 Q0,0 4.0,0" stroke="#f6cc6a" stroke-width="0.9" transform="translate(0 -0.8)"/></g><g id="RG11" fill="none"><path d="M-5.0,0 Q0,2.0 5.0,0" stroke="#95650a" stroke-width="3.8"/><path d="M-5.0,0 Q0,2.0 5.0,0" stroke="#daa024" stroke-width="2.8"/><path d="M-5.0,0 Q0,2.0 5.0,0" stroke="#f6cc6a" stroke-width="0.9" transform="translate(0 -0.8)"/></g><g id="RG12" fill="none"><path d="M-6.0,0 Q0,-2.0 6.0,0" stroke="#95650a" stroke-width="3.8"/><path d="M-6.0,0 Q0,-2.0 6.0,0" stroke="#daa024" stroke-width="2.8"/><path d="M-6.0,0 Q0,-2.0 6.0,0" stroke="#f6cc6a" stroke-width="0.9" transform="translate(0 -0.8)"/></g><g id="RG13" fill="none"><path d="M-7.0,0 Q0,1.2 7.0,0" stroke="#95650a" stroke-width="3.8"/><path d="M-7.0,0 Q0,1.2 7.0,0" stroke="#daa024" stroke-width="2.8"/><path d="M-7.0,0 Q0,1.2 7.0,0" stroke="#f6cc6a" stroke-width="0.9" transform="translate(0 -0.8)"/></g><g id="HM02" fill="none" stroke-linecap="round" stroke-linejoin="round"><path d="M-1.7,0.0 -1.8,2.2 -2.4,2.2 -2.5,0.0 -1.5,-2.2 0.1,-2.2 1.1,-0.0 1.0,2.2 0.4,2.2 0.3,0.0 1.3,-2.2 2.9,-2.2 3.9,-0.0" stroke="#7a0a3e" stroke-width="3.0"/><path d="M-1.7,0.0 -1.8,2.2 -2.4,2.2 -2.5,0.0 -1.5,-2.2 0.1,-2.2 1.1,-0.0 1.0,2.2 0.4,2.2 0.3,0.0 1.3,-2.2 2.9,-2.2 3.9,-0.0" stroke="#c4186a" stroke-width="2.1"/><path d="M-1.7,0.0 -1.8,2.2 -2.4,2.2 -2.5,0.0 -1.5,-2.2 0.1,-2.2 1.1,-0.0 1.0,2.2 0.4,2.2 0.3,0.0 1.3,-2.2 2.9,-2.2 3.9,-0.0" stroke="#ee70a8" stroke-width="0.6" transform="translate(0 -0.5)"/></g><g id="HM03" fill="none" stroke-linecap="round" stroke-linejoin="round"><path d="M-3.1,0.0 -3.2,2.2 -3.8,2.2 -3.9,0.0 -2.9,-2.2 -1.3,-2.2 -0.3,-0.0 -0.4,2.2 -1.0,2.2 -1.1,0.0 -0.1,-2.2 1.5,-2.2 2.5,-0.0 2.4,2.2 1.8,2.2 1.7,0.0 2.7,-2.2 4.3,-2.2 5.3,-0.0" stroke="#7a0a3e" stroke-width="3.0"/><path d="M-3.1,0.0 -3.2,2.2 -3.8,2.2 -3.9,0.0 -2.9,-2.2 -1.3,-2.2 -0.3,-0.0 -0.4,2.2 -1.0,2.2 -1.1,0.0 -0.1,-2.2 1.5,-2.2 2.5,-0.0 2.4,2.2 1.8,2.2 1.7,0.0 2.7,-2.2 4.3,-2.2 5.3,-0.0" stroke="#c4186a" stroke-width="2.1"/><path d="M-3.1,0.0 -3.2,2.2 -3.8,2.2 -3.9,0.0 -2.9,-2.2 -1.3,-2.2 -0.3,-0.0 -0.4,2.2 -1.0,2.2 -1.1,0.0 -0.1,-2.2 1.5,-2.2 2.5,-0.0 2.4,2.2 1.8,2.2 1.7,0.0 2.7,-2.2 4.3,-2.2 5.3,-0.0" stroke="#ee70a8" stroke-width="0.6" transform="translate(0 -0.5)"/></g><g id="HM04" fill="none" stroke-linecap="round" stroke-linejoin="round"><path d="M-4.5,0.0 -4.6,2.2 -5.2,2.2 -5.3,0.0 -4.3,-2.2 -2.7,-2.2 -1.7,-0.0 -1.8,2.2 -2.4,2.2 -2.5,0.0 -1.5,-2.2 0.1,-2.2 1.1,-0.0 1.0,2.2 0.4,2.2 0.3,0.0 1.3,-2.2 2.9,-2.2 3.9,-0.0 3.8,2.2 3.2,2.2 3.1,0.0 4.1,-2.2 5.7,-2.2 6.7,-0.0" stroke="#7a0a3e" stroke-width="3.0"/><path d="M-4.5,0.0 -4.6,2.2 -5.2,2.2 -5.3,0.0 -4.3,-2.2 -2.7,-2.2 -1.7,-0.0 -1.8,2.2 -2.4,2.2 -2.5,0.0 -1.5,-2.2 0.1,-2.2 1.1,-0.0 1.0,2.2 0.4,2.2 0.3,0.0 1.3,-2.2 2.9,-2.2 3.9,-0.0 3.8,2.2 3.2,2.2 3.1,0.0 4.1,-2.2 5.7,-2.2 6.7,-0.0" stroke="#c4186a" stroke-width="2.1"/><path d="M-4.5,0.0 -4.6,2.2 -5.2,2.2 -5.3,0.0 -4.3,-2.2 -2.7,-2.2 -1.7,-0.0 -1.8,2.2 -2.4,2.2 -2.5,0.0 -1.5,-2.2 0.1,-2.2 1.1,-0.0 1.0,2.2 0.4,2.2 0.3,0.0 1.3,-2.2 2.9,-2.2 3.9,-0.0 3.8,2.2 3.2,2.2 3.1,0.0 4.1,-2.2 5.7,-2.2 6.7,-0.0" stroke="#ee70a8" stroke-width="0.6" transform="translate(0 -0.5)"/></g><g id="HM05" fill="none" stroke-linecap="round" stroke-linejoin="round"><path d="M-5.9,0.0 -6.0,2.2 -6.6,2.2 -6.7,0.0 -5.7,-2.2 -4.1,-2.2 -3.1,-0.0 -3.2,2.2 -3.8,2.2 -3.9,0.0 -2.9,-2.2 -1.3,-2.2 -0.3,-0.0 -0.4,2.2 -1.0,2.2 -1.1,0.0 -0.1,-2.2 1.5,-2.2 2.5,-0.0 2.4,2.2 1.8,2.2 1.7,0.0 2.7,-2.2 4.3,-2.2 5.3,-0.0 5.2,2.2 4.6,2.2 4.5,0.0 5.5,-2.2 7.1,-2.2 8.1,-0.0" stroke="#7a0a3e" stroke-width="3.0"/><path d="M-5.9,0.0 -6.0,2.2 -6.6,2.2 -6.7,0.0 -5.7,-2.2 -4.1,-2.2 -3.1,-0.0 -3.2,2.2 -3.8,2.2 -3.9,0.0 -2.9,-2.2 -1.3,-2.2 -0.3,-0.0 -0.4,2.2 -1.0,2.2 -1.1,0.0 -0.1,-2.2 1.5,-2.2 2.5,-0.0 2.4,2.2 1.8,2.2 1.7,0.0 2.7,-2.2 4.3,-2.2 5.3,-0.0 5.2,2.2 4.6,2.2 4.5,0.0 5.5,-2.2 7.1,-2.2 8.1,-0.0" stroke="#c4186a" stroke-width="2.1"/><path d="M-5.9,0.0 -6.0,2.2 -6.6,2.2 -6.7,0.0 -5.7,-2.2 -4.1,-2.2 -3.1,-0.0 -3.2,2.2 -3.8,2.2 -3.9,0.0 -2.9,-2.2 -1.3,-2.2 -0.3,-0.0 -0.4,2.2 -1.0,2.2 -1.1,0.0 -0.1,-2.2 1.5,-2.2 2.5,-0.0 2.4,2.2 1.8,2.2 1.7,0.0 2.7,-2.2 4.3,-2.2 5.3,-0.0 5.2,2.2 4.6,2.2 4.5,0.0 5.5,-2.2 7.1,-2.2 8.1,-0.0" stroke="#ee70a8" stroke-width="0.6" transform="translate(0 -0.5)"/></g><g id="RM00" fill="none"><path d="M-4.0,0 Q0,0 4.0,0" stroke="#7a0a3e" stroke-width="3.8"/><path d="M-4.0,0 Q0,0 4.0,0" stroke="#c4186a" stroke-width="2.8"/><path d="M-4.0,0 Q0,0 4.0,0" stroke="#ee70a8" stroke-width="0.9" transform="translate(0 -0.8)"/></g><g id="RM01" fill="none"><path d="M-5.0,0 Q0,2.0 5.0,0" stroke="#7a0a3e" stroke-width="3.8"/><path d="M-5.0,0 Q0,2.0 5.0,0" stroke="#c4186a" stroke-width="2.8"/><path d="M-5.0,0 Q0,2.0 5.0,0" stroke="#ee70a8" stroke-width="0.9" transform="translate(0 -0.8)"/></g><g id="RM02" fill="none"><path d="M-6.0,0 Q0,-2.0 6.0,0" stroke="#7a0a3e" stroke-width="3.8"/><path d="M-6.0,0 Q0,-2.0 6.0,0" stroke="#c4186a" stroke-width="2.8"/><path d="M-6.0,0 Q0,-2.0 6.0,0" stroke="#ee70a8" stroke-width="0.9" transform="translate(0 -0.8)"/></g><g id="RM03" fill="none"><path d="M-7.0,0 Q0,1.2 7.0,0" stroke="#7a0a3e" stroke-width="3.8"/><path d="M-7.0,0 Q0,1.2 7.0,0" stroke="#c4186a" stroke-width="2.8"/><path d="M-7.0,0 Q0,1.2 7.0,0" stroke="#ee70a8" stroke-width="0.9" transform="translate(0 -0.8)"/></g><g id="HM12" fill="none" stroke-linecap="round" stroke-linejoin="round"><path d="M-1.7,0.0 -1.8,2.2 -2.4,2.2 -2.5,0.0 -1.5,-2.2 0.1,-2.2 1.1,-0.0 1.0,2.2 0.4,2.2 0.3,0.0 1.3,-2.2 2.9,-2.2 3.9,-0.0" stroke="#860d46" stroke-width="3.0"/><path d="M-1.7,0.0 -1.8,2.2 -2.4,2.2 -2.5,0.0 -1.5,-2.2 0.1,-2.2 1.1,-0.0 1.0,2.2 0.4,2.2 0.3,0.0 1.3,-2.2 2.9,-2.2 3.9,-0.0" stroke="#d02a7a" stroke-width="2.1"/><path d="M-1.7,0.0 -1.8,2.2 -2.4,2.2 -2.5,0.0 -1.5,-2.2 0.1,-2.2 1.1,-0.0 1.0,2.2 0.4,2.2 0.3,0.0 1.3,-2.2 2.9,-2.2 3.9,-0.0" stroke="#f088b8" stroke-width="0.6" transform="translate(0 -0.5)"/></g><g id="HM13" fill="none" stroke-linecap="round" stroke-linejoin="round"><path d="M-3.1,0.0 -3.2,2.2 -3.8,2.2 -3.9,0.0 -2.9,-2.2 -1.3,-2.2 -0.3,-0.0 -0.4,2.2 -1.0,2.2 -1.1,0.0 -0.1,-2.2 1.5,-2.2 2.5,-0.0 2.4,2.2 1.8,2.2 1.7,0.0 2.7,-2.2 4.3,-2.2 5.3,-0.0" stroke="#860d46" stroke-width="3.0"/><path d="M-3.1,0.0 -3.2,2.2 -3.8,2.2 -3.9,0.0 -2.9,-2.2 -1.3,-2.2 -0.3,-0.0 -0.4,2.2 -1.0,2.2 -1.1,0.0 -0.1,-2.2 1.5,-2.2 2.5,-0.0 2.4,2.2 1.8,2.2 1.7,0.0 2.7,-2.2 4.3,-2.2 5.3,-0.0" stroke="#d02a7a" stroke-width="2.1"/><path d="M-3.1,0.0 -3.2,2.2 -3.8,2.2 -3.9,0.0 -2.9,-2.2 -1.3,-2.2 -0.3,-0.0 -0.4,2.2 -1.0,2.2 -1.1,0.0 -0.1,-2.2 1.5,-2.2 2.5,-0.0 2.4,2.2 1.8,2.2 1.7,0.0 2.7,-2.2 4.3,-2.2 5.3,-0.0" stroke="#f088b8" stroke-width="0.6" transform="translate(0 -0.5)"/></g><g id="HM14" fill="none" stroke-linecap="round" stroke-linejoin="round"><path d="M-4.5,0.0 -4.6,2.2 -5.2,2.2 -5.3,0.0 -4.3,-2.2 -2.7,-2.2 -1.7,-0.0 -1.8,2.2 -2.4,2.2 -2.5,0.0 -1.5,-2.2 0.1,-2.2 1.1,-0.0 1.0,2.2 0.4,2.2 0.3,0.0 1.3,-2.2 2.9,-2.2 3.9,-0.0 3.8,2.2 3.2,2.2 3.1,0.0 4.1,-2.2 5.7,-2.2 6.7,-0.0" stroke="#860d46" stroke-width="3.0"/><path d="M-4.5,0.0 -4.6,2.2 -5.2,2.2 -5.3,0.0 -4.3,-2.2 -2.7,-2.2 -1.7,-0.0 -1.8,2.2 -2.4,2.2 -2.5,0.0 -1.5,-2.2 0.1,-2.2 1.1,-0.0 1.0,2.2 0.4,2.2 0.3,0.0 1.3,-2.2 2.9,-2.2 3.9,-0.0 3.8,2.2 3.2,2.2 3.1,0.0 4.1,-2.2 5.7,-2.2 6.7,-0.0" stroke="#d02a7a" stroke-width="2.1"/><path d="M-4.5,0.0 -4.6,2.2 -5.2,2.2 -5.3,0.0 -4.3,-2.2 -2.7,-2.2 -1.7,-0.0 -1.8,2.2 -2.4,2.2 -2.5,0.0 -1.5,-2.2 0.1,-2.2 1.1,-0.0 1.0,2.2 0.4,2.2 0.3,0.0 1.3,-2.2 2.9,-2.2 3.9,-0.0 3.8,2.2 3.2,2.2 3.1,0.0 4.1,-2.2 5.7,-2.2 6.7,-0.0" stroke="#f088b8" stroke-width="0.6" transform="translate(0 -0.5)"/></g><g id="HM15" fill="none" stroke-linecap="round" stroke-linejoin="round"><path d="M-5.9,0.0 -6.0,2.2 -6.6,2.2 -6.7,0.0 -5.7,-2.2 -4.1,-2.2 -3.1,-0.0 -3.2,2.2 -3.8,2.2 -3.9,0.0 -2.9,-2.2 -1.3,-2.2 -0.3,-0.0 -0.4,2.2 -1.0,2.2 -1.1,0.0 -0.1,-2.2 1.5,-2.2 2.5,-0.0 2.4,2.2 1.8,2.2 1.7,0.0 2.7,-2.2 4.3,-2.2 5.3,-0.0 5.2,2.2 4.6,2.2 4.5,0.0 5.5,-2.2 7.1,-2.2 8.1,-0.0" stroke="#860d46" stroke-width="3.0"/><path d="M-5.9,0.0 -6.0,2.2 -6.6,2.2 -6.7,0.0 -5.7,-2.2 -4.1,-2.2 -3.1,-0.0 -3.2,2.2 -3.8,2.2 -3.9,0.0 -2.9,-2.2 -1.3,-2.2 -0.3,-0.0 -0.4,2.2 -1.0,2.2 -1.1,0.0 -0.1,-2.2 1.5,-2.2 2.5,-0.0 2.4,2.2 1.8,2.2 1.7,0.0 2.7,-2.2 4.3,-2.2 5.3,-0.0 5.2,2.2 4.6,2.2 4.5,0.0 5.5,-2.2 7.1,-2.2 8.1,-0.0" stroke="#d02a7a" stroke-width="2.1"/><path d="M-5.9,0.0 -6.0,2.2 -6.6,2.2 -6.7,0.0 -5.7,-2.2 -4.1,-2.2 -3.1,-0.0 -3.2,2.2 -3.8,2.2 -3.9,0.0 -2.9,-2.2 -1.3,-2.2 -0.3,-0.0 -0.4,2.2 -1.0,2.2 -1.1,0.0 -0.1,-2.2 1.5,-2.2 2.5,-0.0 2.4,2.2 1.8,2.2 1.7,0.0 2.7,-2.2 4.3,-2.2 5.3,-0.0 5.2,2.2 4.6,2.2 4.5,0.0 5.5,-2.2 7.1,-2.2 8.1,-0.0" stroke="#f088b8" stroke-width="0.6" transform="translate(0 -0.5)"/></g><g id="RM10" fill="none"><path d="M-4.0,0 Q0,0 4.0,0" stroke="#860d46" stroke-width="3.8"/><path d="M-4.0,0 Q0,0 4.0,0" stroke="#d02a7a" stroke-width="2.8"/><path d="M-4.0,0 Q0,0 4.0,0" stroke="#f088b8" stroke-width="0.9" transform="translate(0 -0.8)"/></g><g id="RM11" fill="none"><path d="M-5.0,0 Q0,2.0 5.0,0" stroke="#860d46" stroke-width="3.8"/><path d="M-5.0,0 Q0,2.0 5.0,0" stroke="#d02a7a" stroke-width="2.8"/><path d="M-5.0,0 Q0,2.0 5.0,0" stroke="#f088b8" stroke-width="0.9" transform="translate(0 -0.8)"/></g><g id="RM12" fill="none"><path d="M-6.0,0 Q0,-2.0 6.0,0" stroke="#860d46" stroke-width="3.8"/><path d="M-6.0,0 Q0,-2.0 6.0,0" stroke="#d02a7a" stroke-width="2.8"/><path d="M-6.0,0 Q0,-2.0 6.0,0" stroke="#f088b8" stroke-width="0.9" transform="translate(0 -0.8)"/></g><g id="RM13" fill="none"><path d="M-7.0,0 Q0,1.2 7.0,0" stroke="#860d46" stroke-width="3.8"/><path d="M-7.0,0 Q0,1.2 7.0,0" stroke="#d02a7a" stroke-width="2.8"/><path d="M-7.0,0 Q0,1.2 7.0,0" stroke="#f088b8" stroke-width="0.9" transform="translate(0 -0.8)"/></g></defs>
<clipPath id="jclip"><rect x="448" y="650.2" width="235" height="175.8"/></clipPath>
<g clip-path="url(#jclip)">
<use href="#HG04" transform="translate(627.2 753.9) rotate(168) scale(1.00)"/>
<use href="#RG03" transform="translate(629.5 761.5) rotate(161) scale(0.89)"/>
<use href="#RG02" transform="translate(645.6 745.4) rotate(165) scale(0.93)"/>
<use href="#RG03" transform="translate(657.1 747.3) rotate(203) scale(0.88)"/>
<use href="#HG03" transform="translate(596.2 774.6) rotate(167) scale(1.00)"/>
<use href="#RG10" transform="translate(624.0 729.1) rotate(356) scale(0.85)"/>
<use href="#HG14" transform="translate(612.0 685.3) rotate(210) scale(0.92)"/>
<use href="#HG02" transform="translate(644.5 753.0) rotate(140) scale(0.99)"/>
<use href="#HG05" transform="translate(629.4 725.4) rotate(12) scale(1.03)"/>
<use href="#RG01" transform="translate(613.4 694.2) rotate(163) scale(0.96)"/>
<use href="#HG02" transform="translate(639.0 763.1) rotate(210) scale(1.03)"/>
<use href="#RG00" transform="translate(591.2 780.7) rotate(216) scale(0.99)"/>
<use href="#HG13" transform="translate(612.4 770.5) rotate(61) scale(1.12)"/>
<use href="#RG03" transform="translate(615.0 768.8) rotate(155) scale(1.09)"/>
<use href="#RG02" transform="translate(604.5 804.7) rotate(48) scale(0.96)"/>
<use href="#RG02" transform="translate(665.3 763.0) rotate(298) scale(0.93)"/>
<use href="#HG04" transform="translate(626.7 763.8) rotate(291) scale(1.14)"/>
<use href="#HG15" transform="translate(620.9 738.5) rotate(319) scale(0.85)"/>
<use href="#HG15" transform="translate(606.7 730.0) rotate(112) scale(1.14)"/>
<use href="#RG11" transform="translate(585.8 789.0) rotate(288) scale(0.90)"/>
<use href="#RG11" transform="translate(668.1 760.9) rotate(51) scale(1.01)"/>
<use href="#HG04" transform="translate(623.2 691.1) rotate(136) scale(1.01)"/>
<use href="#HG12" transform="translate(673.0 749.0) rotate(151) scale(0.86)"/>
<use href="#RG00" transform="translate(586.5 696.9) rotate(102) scale(1.07)"/>
<use href="#HG15" transform="translate(631.9 757.0) rotate(224) scale(1.07)"/>
<use href="#HG04" transform="translate(623.4 749.6) rotate(74) scale(1.04)"/>
<use href="#RG01" transform="translate(613.8 805.0) rotate(359) scale(1.12)"/>
<use href="#HG05" transform="translate(654.1 711.6) rotate(300) scale(0.98)"/>
<use href="#HG13" transform="translate(589.9 690.0) rotate(199) scale(1.00)"/>
<use href="#HG14" transform="translate(596.1 770.9) rotate(35) scale(0.97)"/>
<use href="#RG00" transform="translate(615.3 750.9) rotate(155) scale(0.90)"/>
<use href="#RG01" transform="translate(631.7 705.0) rotate(142) scale(1.02)"/>
<use href="#HG03" transform="translate(608.1 731.6) rotate(70) scale(0.96)"/>
<use href="#HG03" transform="translate(645.4 789.1) rotate(215) scale(1.08)"/>
<use href="#HG13" transform="translate(625.0 744.7) rotate(143) scale(0.94)"/>
<use href="#RG02" transform="translate(662.9 760.1) rotate(225) scale(0.99)"/>
<use href="#HG15" transform="translate(626.3 769.1) rotate(94) scale(1.02)"/>
<use href="#RG01" transform="translate(659.7 763.1) rotate(98) scale(1.06)"/>
<use href="#RG02" transform="translate(593.0 751.3) rotate(31) scale(1.05)"/>
<use href="#RG03" transform="translate(630.3 724.9) rotate(178) scale(0.89)"/>
<use href="#HG13" transform="translate(662.1 762.9) rotate(77) scale(0.98)"/>
<use href="#RG00" transform="translate(630.4 771.6) rotate(279) scale(0.87)"/>
<use href="#HG04" transform="translate(615.1 799.2) rotate(237) scale(0.95)"/>
<use href="#RG02" transform="translate(618.4 726.5) rotate(142) scale(0.97)"/>
<use href="#HG03" transform="translate(646.7 788.3) rotate(197) scale(1.09)"/>
<use href="#RG13" transform="translate(655.9 766.4) rotate(79) scale(1.08)"/>
<use href="#RG13" transform="translate(590.1 762.1) rotate(273) scale(1.15)"/>
<use href="#RG12" transform="translate(624.2 734.2) rotate(267) scale(1.15)"/>
<use href="#RG02" transform="translate(653.1 758.8) rotate(67) scale(0.93)"/>
<use href="#RG03" transform="translate(647.6 783.7) rotate(311) scale(0.97)"/>
<use href="#RG02" transform="translate(623.7 783.8) rotate(327) scale(1.09)"/>
<use href="#RG00" transform="translate(656.2 751.6) rotate(7) scale(0.91)"/>
<use href="#HG14" transform="translate(659.4 737.0) rotate(149) scale(1.00)"/>
<use href="#HG02" transform="translate(664.1 767.1) rotate(136) scale(1.06)"/>
<use href="#HG03" transform="translate(619.8 751.1) rotate(121) scale(0.97)"/>
<use href="#HG04" transform="translate(626.7 728.9) rotate(224) scale(0.89)"/>
<use href="#HG13" transform="translate(614.1 786.1) rotate(355) scale(1.01)"/>
<use href="#RG01" transform="translate(635.7 717.1) rotate(220) scale(1.00)"/>
<use href="#HG13" transform="translate(647.5 784.4) rotate(172) scale(0.98)"/>
<use href="#RG02" transform="translate(609.0 799.4) rotate(263) scale(0.92)"/>
<use href="#HG14" transform="translate(645.6 782.6) rotate(148) scale(0.86)"/>
<use href="#RG01" transform="translate(600.0 748.2) rotate(204) scale(0.95)"/>
<use href="#RG13" transform="translate(622.4 745.1) rotate(124) scale(1.12)"/>
<use href="#RG12" transform="translate(633.9 734.2) rotate(327) scale(0.94)"/>
<use href="#HG05" transform="translate(632.2 730.9) rotate(250) scale(1.01)"/>
<use href="#RG13" transform="translate(621.7 708.2) rotate(328) scale(1.14)"/>
<use href="#HG13" transform="translate(624.2 692.3) rotate(187) scale(0.89)"/>
<use href="#RG11" transform="translate(627.5 719.2) rotate(52) scale(1.08)"/>
<use href="#HG03" transform="translate(602.1 793.1) rotate(170) scale(0.90)"/>
<use href="#RG12" transform="translate(601.7 799.0) rotate(38) scale(1.07)"/>
<use href="#HG02" transform="translate(610.1 765.2) rotate(354) scale(0.98)"/>
<use href="#HG03" transform="translate(635.5 734.7) rotate(59) scale(1.15)"/>
<use href="#RG02" transform="translate(672.6 757.4) rotate(321) scale(0.87)"/>
<use href="#RG01" transform="translate(614.4 743.1) rotate(105) scale(1.10)"/>
<use href="#HG13" transform="translate(648.4 752.2) rotate(258) scale(1.07)"/>
<use href="#RG01" transform="translate(666.4 760.0) rotate(73) scale(1.14)"/>
<use href="#HG14" transform="translate(632.9 728.4) rotate(179) scale(1.05)"/>
<use href="#HG04" transform="translate(656.9 759.6) rotate(268) scale(1.01)"/>
<use href="#HG14" transform="translate(607.8 752.8) rotate(166) scale(1.13)"/>
<use href="#HG04" transform="translate(603.9 728.4) rotate(151) scale(0.92)"/>
<use href="#RG01" transform="translate(604.0 740.9) rotate(161) scale(1.15)"/>
<use href="#HG05" transform="translate(635.8 734.1) rotate(100) scale(1.13)"/>
<use href="#HG13" transform="translate(652.9 712.8) rotate(55) scale(1.13)"/>
<use href="#HG04" transform="translate(658.4 748.2) rotate(142) scale(0.92)"/>
<use href="#HG14" transform="translate(654.0 768.9) rotate(74) scale(0.93)"/>
<use href="#HG02" transform="translate(633.5 725.1) rotate(133) scale(1.03)"/>
<use href="#RG01" transform="translate(656.1 743.0) rotate(274) scale(1.07)"/>
<use href="#HG14" transform="translate(637.6 724.8) rotate(279) scale(0.96)"/>
<use href="#HG13" transform="translate(614.6 727.6) rotate(293) scale(1.12)"/>
<use href="#HG14" transform="translate(658.5 763.4) rotate(148) scale(0.97)"/>
<use href="#HG05" transform="translate(649.5 708.0) rotate(196) scale(0.97)"/>
<use href="#RG00" transform="translate(631.7 766.1) rotate(254) scale(1.13)"/>
<use href="#RG10" transform="translate(613.3 794.6) rotate(245) scale(0.86)"/>
<use href="#RG03" transform="translate(619.0 771.2) rotate(308) scale(0.91)"/>
<use href="#HG13" transform="translate(655.4 712.9) rotate(72) scale(1.04)"/>
<use href="#RG03" transform="translate(668.1 766.5) rotate(260) scale(0.97)"/>
<use href="#HG13" transform="translate(597.9 799.6) rotate(205) scale(0.93)"/>
<use href="#HG13" transform="translate(637.7 753.5) rotate(222) scale(1.10)"/>
<use href="#RG12" transform="translate(618.7 764.9) rotate(101) scale(1.12)"/>
<use href="#HG02" transform="translate(615.7 779.5) rotate(268) scale(1.01)"/>
<use href="#HG13" transform="translate(585.0 699.6) rotate(212) scale(1.02)"/>
<use href="#HG02" transform="translate(625.7 740.8) rotate(181) scale(0.96)"/>
<use href="#HG14" transform="translate(634.7 738.6) rotate(17) scale(0.87)"/>
<use href="#HG14" transform="translate(608.6 701.1) rotate(123) scale(1.01)"/>
<use href="#RG11" transform="translate(628.5 743.9) rotate(234) scale(1.01)"/>
<use href="#RG13" transform="translate(643.9 718.3) rotate(25) scale(0.91)"/>
<use href="#HG05" transform="translate(619.6 761.3) rotate(48) scale(0.89)"/>
<use href="#RG03" transform="translate(623.9 744.4) rotate(44) scale(1.11)"/>
<use href="#HG03" transform="translate(605.1 742.3) rotate(149) scale(0.92)"/>
<use href="#HG12" transform="translate(606.9 733.0) rotate(322) scale(0.93)"/>
<use href="#HG12" transform="translate(640.8 751.9) rotate(323) scale(0.88)"/>
<use href="#RG01" transform="translate(653.7 769.3) rotate(323) scale(1.13)"/>
<use href="#RG00" transform="translate(628.9 726.0) rotate(114) scale(1.05)"/>
<use href="#HG03" transform="translate(628.2 731.5) rotate(79) scale(1.15)"/>
<use href="#HG13" transform="translate(632.8 718.5) rotate(89) scale(1.03)"/>
<use href="#HG02" transform="translate(662.2 746.0) rotate(203) scale(0.90)"/>
<use href="#HG12" transform="translate(605.4 787.3) rotate(265) scale(0.96)"/>
<use href="#HG14" transform="translate(621.1 717.2) rotate(193) scale(1.05)"/>
<use href="#HG12" transform="translate(641.7 706.0) rotate(285) scale(0.97)"/>
<use href="#RG10" transform="translate(587.8 792.7) rotate(190) scale(1.01)"/>
<use href="#HG04" transform="translate(633.8 749.2) rotate(134) scale(1.03)"/>
<use href="#HG12" transform="translate(603.5 782.5) rotate(66) scale(0.89)"/>
<use href="#RG10" transform="translate(605.0 710.3) rotate(54) scale(0.90)"/>
<use href="#HG15" transform="translate(643.3 771.2) rotate(197) scale(1.10)"/>
<use href="#HG03" transform="translate(594.1 797.3) rotate(117) scale(0.89)"/>
<use href="#HG04" transform="translate(633.9 729.7) rotate(303) scale(0.96)"/>
<use href="#HG02" transform="translate(615.1 773.3) rotate(94) scale(1.07)"/>
<use href="#HG13" transform="translate(634.9 729.5) rotate(67) scale(1.04)"/>
<use href="#RG10" transform="translate(638.6 752.7) rotate(55) scale(1.14)"/>
<use href="#HG13" transform="translate(619.1 720.7) rotate(284) scale(1.09)"/>
<use href="#HG14" transform="translate(642.6 751.6) rotate(192) scale(1.05)"/>
<use href="#HG13" transform="translate(590.0 802.1) rotate(204) scale(0.89)"/>
<use href="#RG11" transform="translate(659.8 748.4) rotate(190) scale(0.91)"/>
<use href="#HG03" transform="translate(598.4 803.7) rotate(107) scale(0.94)"/>
<use href="#HG13" transform="translate(615.8 723.9) rotate(277) scale(0.93)"/>
<use href="#RG10" transform="translate(604.6 804.5) rotate(244) scale(1.03)"/>
<use href="#HG04" transform="translate(660.3 751.1) rotate(275) scale(0.92)"/>
<use href="#HG03" transform="translate(629.5 790.3) rotate(180) scale(0.96)"/>
<use href="#HG04" transform="translate(601.1 724.0) rotate(111) scale(0.90)"/>
<use href="#RG00" transform="translate(635.8 755.0) rotate(190) scale(1.13)"/>
<use href="#HG14" transform="translate(673.4 746.0) rotate(119) scale(1.02)"/>
<use href="#RG00" transform="translate(657.6 731.4) rotate(59) scale(0.90)"/>
<use href="#HG04" transform="translate(646.8 740.5) rotate(5) scale(0.94)"/>
<use href="#RG03" transform="translate(638.0 771.9) rotate(267) scale(0.90)"/>
<use href="#HG04" transform="translate(625.0 757.7) rotate(342) scale(1.00)"/>
<use href="#RG03" transform="translate(637.7 745.1) rotate(185) scale(0.96)"/>
<use href="#HG13" transform="translate(631.7 742.9) rotate(349) scale(0.93)"/>
<use href="#HG04" transform="translate(607.9 802.2) rotate(153) scale(1.02)"/>
<use href="#RG11" transform="translate(612.2 769.1) rotate(89) scale(1.07)"/>
<use href="#RG01" transform="translate(647.3 741.4) rotate(243) scale(0.97)"/>
<use href="#RG03" transform="translate(595.3 777.4) rotate(312) scale(1.08)"/>
<use href="#HG03" transform="translate(645.5 744.3) rotate(127) scale(0.86)"/>
<use href="#HG13" transform="translate(605.6 762.1) rotate(55) scale(0.98)"/>
<use href="#RG10" transform="translate(593.1 721.3) rotate(10) scale(1.01)"/>
<use href="#HG13" transform="translate(655.8 710.2) rotate(209) scale(0.92)"/>
<use href="#HG04" transform="translate(645.6 733.4) rotate(85) scale(0.99)"/>
<use href="#RG13" transform="translate(629.6 733.6) rotate(291) scale(1.13)"/>
<use href="#RG12" transform="translate(601.5 782.9) rotate(54) scale(1.02)"/>
<use href="#RG01" transform="translate(609.2 787.3) rotate(21) scale(0.87)"/>
<use href="#HG05" transform="translate(650.9 736.7) rotate(153) scale(1.02)"/>
<use href="#HG04" transform="translate(606.5 796.6) rotate(31) scale(1.02)"/>
<use href="#RG10" transform="translate(654.4 762.2) rotate(88) scale(1.07)"/>
<use href="#HG14" transform="translate(601.7 679.8) rotate(96) scale(0.91)"/>
<use href="#RG13" transform="translate(613.9 762.9) rotate(109) scale(1.08)"/>
<use href="#HG14" transform="translate(620.1 796.7) rotate(344) scale(1.07)"/>
<path d="M593.8,701.0 Q584.4,704.8 585.0,700.4 L585.5,696.0" fill="none" stroke="#c08010" stroke-width="1.1" stroke-linecap="round" stroke-linejoin="round"/>
<path d="M630.1,777.7 Q639.2,790.5 638.9,783.8 L638.7,777.1" fill="none" stroke="#daa024" stroke-width="1.0" stroke-linecap="round" stroke-linejoin="round"/>
<path d="M605.2,733.4 Q606.1,739.8 605.4,738.6 L604.8,737.4" fill="none" stroke="#daa024" stroke-width="1.0" stroke-linecap="round" stroke-linejoin="round"/>
<path d="M636.2,758.9 Q635.9,744.1 629.0,752.4 Q622.0,760.7 629.3,750.3 L636.5,739.9" fill="none" stroke="#cf8f0e" stroke-width="1.0" stroke-linecap="round" stroke-linejoin="round"/>
<path d="M598.4,683.8 Q609.3,684.4 609.4,683.9 Q609.6,683.4 603.6,680.7 Q597.6,678.0 598.3,678.5 L599.1,678.9" fill="none" stroke="#cf8f0e" stroke-width="1.0" stroke-linecap="round" stroke-linejoin="round"/>
<path d="M633.1,711.4 Q644.4,727.2 642.8,725.0 Q641.1,722.8 639.5,725.1 L637.8,727.3" fill="none" stroke="#daa024" stroke-width="1.1" stroke-linecap="round" stroke-linejoin="round"/>
<path d="M618.3,804.0 Q620.2,801.9 611.3,796.5 L602.4,791.0" fill="none" stroke="#cf8f0e" stroke-width="0.9" stroke-linecap="round" stroke-linejoin="round"/>
<path d="M631.1,770.4 Q645.9,774.3 640.7,780.4 Q635.4,786.5 640.6,782.2 Q645.9,777.9 643.1,777.5 L640.2,777.1" fill="none" stroke="#daa024" stroke-width="0.8" stroke-linecap="round" stroke-linejoin="round"/>
<path d="M626.7,722.0 Q636.0,717.6 633.2,717.5 L630.4,717.4" fill="none" stroke="#daa024" stroke-width="0.9" stroke-linecap="round" stroke-linejoin="round"/>
<path d="M602.7,776.7 Q599.5,766.0 597.5,763.5 Q595.5,760.9 593.5,765.9 Q591.5,770.9 590.6,775.0 L589.7,779.2" fill="none" stroke="#c08010" stroke-width="1.0" stroke-linecap="round" stroke-linejoin="round"/>
<path d="M638.7,749.0 Q648.9,749.9 647.1,740.1 Q645.2,730.3 638.4,740.7 L631.6,751.1" fill="none" stroke="#cf8f0e" stroke-width="0.9" stroke-linecap="round" stroke-linejoin="round"/>
<path d="M646.3,748.2 Q627.5,755.7 635.2,754.0 Q642.8,752.3 642.3,749.4 L641.8,746.4" fill="none" stroke="#c08010" stroke-width="0.9" stroke-linecap="round" stroke-linejoin="round"/>
<path d="M645.4,747.2 Q640.8,760.2 642.3,759.0 Q643.7,757.9 646.9,758.9 Q650.0,759.9 646.5,751.4 L643.0,742.9" fill="none" stroke="#cf8f0e" stroke-width="0.8" stroke-linecap="round" stroke-linejoin="round"/>
<path d="M635.1,715.8 Q635.9,701.7 637.2,708.0 L638.6,714.3" fill="none" stroke="#c08010" stroke-width="1.0" stroke-linecap="round" stroke-linejoin="round"/>
<path d="M639.6,767.6 Q630.0,784.9 643.1,779.1 Q656.2,773.3 648.9,778.6 Q641.6,783.8 642.0,783.9 L642.5,784.0" fill="none" stroke="#daa024" stroke-width="1.0" stroke-linecap="round" stroke-linejoin="round"/>
<path d="M590.0,750.0 Q589.4,761.5 590.0,764.6 L590.6,767.7" fill="none" stroke="#c08010" stroke-width="0.8" stroke-linecap="round" stroke-linejoin="round"/>
<path d="M620.4,760.0 Q624.3,755.7 628.1,758.2 Q631.9,760.7 628.6,756.4 L625.3,752.0" fill="none" stroke="#cf8f0e" stroke-width="0.8" stroke-linecap="round" stroke-linejoin="round"/>
<path d="M647.0,774.5 Q637.0,760.5 638.2,761.1 Q639.3,761.7 641.2,758.4 L643.0,755.1" fill="none" stroke="#c08010" stroke-width="0.8" stroke-linecap="round" stroke-linejoin="round"/>
<path d="M612.7,801.7 Q610.5,803.2 610.4,799.0 L610.3,794.7" fill="none" stroke="#cf8f0e" stroke-width="0.9" stroke-linecap="round" stroke-linejoin="round"/>
<path d="M632.2,707.9 Q632.1,714.1 639.5,709.8 Q646.9,705.6 642.7,709.0 L638.5,712.5" fill="none" stroke="#cf8f0e" stroke-width="0.9" stroke-linecap="round" stroke-linejoin="round"/>
<path d="M590.9,778.1 Q595.1,800.5 597.0,788.5 Q598.9,776.4 594.7,778.9 L590.5,781.3" fill="none" stroke="#c08010" stroke-width="1.1" stroke-linecap="round" stroke-linejoin="round"/>
<path d="M616.6,713.5 Q623.7,704.4 613.9,707.8 L604.1,711.3" fill="none" stroke="#c08010" stroke-width="1.0" stroke-linecap="round" stroke-linejoin="round"/>
<path d="M643.8,750.9 Q649.4,751.9 650.6,751.8 Q651.9,751.6 650.8,749.3 Q649.8,747.0 653.7,754.7 L657.5,762.5" fill="none" stroke="#c08010" stroke-width="1.1" stroke-linecap="round" stroke-linejoin="round"/>
<path d="M624.4,764.0 Q635.7,751.6 629.2,756.1 Q622.7,760.6 620.8,762.2 Q619.0,763.9 619.1,760.8 L619.2,757.7" fill="none" stroke="#daa024" stroke-width="0.9" stroke-linecap="round" stroke-linejoin="round"/>
<path d="M622.0,705.2 Q614.5,720.9 620.5,724.3 Q626.5,727.7 619.5,717.8 Q612.6,708.0 612.2,707.9 L611.8,707.8" fill="none" stroke="#cf8f0e" stroke-width="0.8" stroke-linecap="round" stroke-linejoin="round"/>
<path d="M647.3,743.5 Q646.2,727.4 649.7,729.5 L653.2,731.5" fill="none" stroke="#c08010" stroke-width="1.1" stroke-linecap="round" stroke-linejoin="round"/>
<path d="M666.4,745.7 Q659.3,749.0 653.5,751.7 Q647.8,754.4 655.7,761.1 Q663.7,767.7 653.0,763.7 L642.3,759.7" fill="none" stroke="#cf8f0e" stroke-width="0.9" stroke-linecap="round" stroke-linejoin="round"/>
<path d="M596.2,727.0 Q596.2,722.6 598.8,720.9 Q601.3,719.1 598.3,721.0 Q595.3,723.0 594.9,722.8 L594.5,722.6" fill="none" stroke="#daa024" stroke-width="1.1" stroke-linecap="round" stroke-linejoin="round"/>
<path d="M604.8,733.0 Q599.6,725.1 608.5,734.6 Q617.4,744.0 609.3,737.3 L601.3,730.6" fill="none" stroke="#c08010" stroke-width="1.1" stroke-linecap="round" stroke-linejoin="round"/>
<path d="M596.3,763.6 Q598.3,769.0 594.9,776.7 Q591.6,784.3 595.9,772.8 Q600.3,761.2 602.2,770.5 L604.1,779.8" fill="none" stroke="#cf8f0e" stroke-width="0.9" stroke-linecap="round" stroke-linejoin="round"/>
<path d="M604.3,709.7 Q603.2,686.1 611.8,693.0 Q620.4,699.9 624.3,704.9 L628.3,710.0" fill="none" stroke="#cf8f0e" stroke-width="0.9" stroke-linecap="round" stroke-linejoin="round"/>
<path d="M614.4,693.2 Q609.1,692.0 606.8,692.7 Q604.4,693.3 599.4,690.5 L594.4,687.8" fill="none" stroke="#daa024" stroke-width="0.9" stroke-linecap="round" stroke-linejoin="round"/>
<path d="M612.7,763.8 Q633.3,773.0 630.7,771.2 Q628.2,769.3 624.3,766.7 L620.4,764.0" fill="none" stroke="#cf8f0e" stroke-width="0.8" stroke-linecap="round" stroke-linejoin="round"/>
<path d="M603.0,772.2 Q588.6,786.6 597.5,784.0 Q606.4,781.4 600.5,778.5 Q594.7,775.6 592.1,777.3 L589.5,779.0" fill="none" stroke="#c08010" stroke-width="1.0" stroke-linecap="round" stroke-linejoin="round"/>
<path d="M599.9,728.4 Q600.6,719.3 602.1,724.0 L603.6,728.7" fill="none" stroke="#daa024" stroke-width="0.9" stroke-linecap="round" stroke-linejoin="round"/>
<path d="M623.9,768.8 Q646.2,771.4 646.1,771.4 Q645.9,771.5 638.0,767.4 L630.0,763.2" fill="none" stroke="#cf8f0e" stroke-width="0.8" stroke-linecap="round" stroke-linejoin="round"/>
<path d="M601.2,743.2 Q610.7,756.8 603.4,755.6 Q596.0,754.3 599.6,752.2 L603.1,750.0" fill="none" stroke="#cf8f0e" stroke-width="0.8" stroke-linecap="round" stroke-linejoin="round"/>
<path d="M639.0,740.7 Q625.3,733.3 630.8,731.6 L636.3,729.8" fill="none" stroke="#daa024" stroke-width="1.0" stroke-linecap="round" stroke-linejoin="round"/>
<path d="M643.4,741.8 Q643.0,737.4 644.6,736.9 Q646.2,736.5 642.9,739.3 Q639.6,742.2 639.5,744.3 L639.4,746.4" fill="none" stroke="#cf8f0e" stroke-width="0.9" stroke-linecap="round" stroke-linejoin="round"/>
<path d="M671.4,745.9 Q646.4,727.1 647.3,733.5 Q648.1,739.9 654.8,740.4 Q661.6,740.9 653.9,736.9 L646.1,732.8" fill="none" stroke="#cf8f0e" stroke-width="1.1" stroke-linecap="round" stroke-linejoin="round"/>
<path d="M627.4,748.3 Q630.0,737.0 625.0,742.5 L620.0,748.0" fill="none" stroke="#cf8f0e" stroke-width="0.9" stroke-linecap="round" stroke-linejoin="round"/>
<path d="M648.5,751.6 Q640.5,762.3 638.2,762.8 Q636.0,763.2 635.5,763.7 Q635.0,764.3 640.6,761.6 L646.2,758.9" fill="none" stroke="#c08010" stroke-width="0.9" stroke-linecap="round" stroke-linejoin="round"/>
<path d="M630.8,754.6 Q648.2,775.4 639.5,768.2 Q630.8,761.0 639.6,763.9 L648.3,766.9" fill="none" stroke="#cf8f0e" stroke-width="1.1" stroke-linecap="round" stroke-linejoin="round"/>
<path d="M596.6,798.2 Q586.4,786.3 592.3,786.1 Q598.1,786.0 597.7,787.7 Q597.2,789.4 593.1,784.6 L589.1,779.7" fill="none" stroke="#c08010" stroke-width="1.1" stroke-linecap="round" stroke-linejoin="round"/>
<path d="M608.1,713.0 Q593.5,718.6 600.5,723.7 L607.5,728.8" fill="none" stroke="#cf8f0e" stroke-width="1.0" stroke-linecap="round" stroke-linejoin="round"/>
<path d="M607.1,745.8 Q622.3,741.0 622.7,744.9 Q623.2,748.7 614.1,749.3 L605.1,750.0" fill="none" stroke="#cf8f0e" stroke-width="1.0" stroke-linecap="round" stroke-linejoin="round"/>
<path d="M604.3,784.8 Q594.5,786.7 601.6,783.0 Q608.7,779.2 603.7,787.8 L598.6,796.5" fill="none" stroke="#daa024" stroke-width="0.8" stroke-linecap="round" stroke-linejoin="round"/>
<path d="M592.9,794.2 Q590.5,802.2 588.2,796.2 Q585.9,790.2 588.7,791.3 L591.5,792.5" fill="none" stroke="#cf8f0e" stroke-width="0.9" stroke-linecap="round" stroke-linejoin="round"/>
<path d="M644.9,780.6 Q634.8,793.1 632.8,785.4 Q630.8,777.7 635.7,779.2 Q640.6,780.7 639.4,783.0 L638.3,785.3" fill="none" stroke="#cf8f0e" stroke-width="0.8" stroke-linecap="round" stroke-linejoin="round"/>
<path d="M668.0,766.3 Q665.2,768.6 665.2,770.9 Q665.1,773.3 668.3,765.8 L671.5,758.4" fill="none" stroke="#daa024" stroke-width="1.0" stroke-linecap="round" stroke-linejoin="round"/>
<use href="#HT12" transform="translate(561.7 732.6) rotate(327) scale(0.86)"/>
<use href="#RT00" transform="translate(580.3 751.6) rotate(29) scale(1.06)"/>
<use href="#RT12" transform="translate(584.4 757.7) rotate(88) scale(0.99)"/>
<use href="#HT14" transform="translate(589.8 737.5) rotate(43) scale(0.87)"/>
<use href="#RT12" transform="translate(556.5 715.6) rotate(276) scale(1.00)"/>
<use href="#HT14" transform="translate(588.4 747.7) rotate(142) scale(1.00)"/>
<use href="#RT03" transform="translate(550.5 738.3) rotate(132) scale(1.04)"/>
<use href="#HT04" transform="translate(557.5 754.6) rotate(74) scale(0.99)"/>
<use href="#RT00" transform="translate(586.2 758.5) rotate(349) scale(1.10)"/>
<use href="#HT02" transform="translate(549.7 743.2) rotate(110) scale(0.90)"/>
<use href="#RT03" transform="translate(575.9 724.7) rotate(168) scale(1.00)"/>
<use href="#RT11" transform="translate(523.1 721.6) rotate(193) scale(0.87)"/>
<use href="#RT00" transform="translate(578.4 747.3) rotate(47) scale(1.07)"/>
<use href="#HT14" transform="translate(543.0 731.2) rotate(349) scale(1.00)"/>
<use href="#HT05" transform="translate(536.7 668.5) rotate(82) scale(0.85)"/>
<use href="#RT00" transform="translate(524.2 712.4) rotate(252) scale(0.86)"/>
<use href="#RT12" transform="translate(556.9 759.2) rotate(186) scale(1.10)"/>
<use href="#HT13" transform="translate(505.2 682.1) rotate(83) scale(1.14)"/>
<use href="#HT13" transform="translate(584.3 743.2) rotate(140) scale(1.15)"/>
<use href="#RT11" transform="translate(479.1 710.6) rotate(184) scale(0.89)"/>
<use href="#HT05" transform="translate(586.8 723.7) rotate(133) scale(1.12)"/>
<use href="#HT15" transform="translate(541.8 737.5) rotate(192) scale(0.87)"/>
<use href="#HT03" transform="translate(540.3 716.0) rotate(231) scale(0.89)"/>
<use href="#HT03" transform="translate(551.4 755.3) rotate(328) scale(1.10)"/>
<use href="#RT03" transform="translate(472.9 727.0) rotate(186) scale(0.98)"/>
<use href="#RT13" transform="translate(518.5 711.8) rotate(284) scale(1.02)"/>
<use href="#RT01" transform="translate(526.0 737.0) rotate(38) scale(0.87)"/>
<use href="#HT14" transform="translate(454.8 700.7) rotate(207) scale(0.92)"/>
<use href="#HT03" transform="translate(569.8 762.8) rotate(6) scale(1.02)"/>
<use href="#HT05" transform="translate(585.1 748.1) rotate(218) scale(0.94)"/>
<use href="#RT03" transform="translate(564.5 728.5) rotate(24) scale(0.91)"/>
<use href="#RT03" transform="translate(542.7 728.5) rotate(137) scale(1.02)"/>
<use href="#HT14" transform="translate(578.1 744.9) rotate(10) scale(0.96)"/>
<use href="#HT02" transform="translate(566.4 715.4) rotate(182) scale(1.01)"/>
<use href="#HT15" transform="translate(541.8 724.6) rotate(104) scale(0.96)"/>
<use href="#RT13" transform="translate(532.0 701.8) rotate(181) scale(1.01)"/>
<use href="#RT12" transform="translate(561.8 760.5) rotate(276) scale(1.15)"/>
<use href="#HT15" transform="translate(549.2 725.9) rotate(243) scale(1.06)"/>
<use href="#RT01" transform="translate(522.0 679.3) rotate(246) scale(1.12)"/>
<use href="#RT03" transform="translate(544.9 714.1) rotate(128) scale(0.98)"/>
<use href="#HT14" transform="translate(534.2 709.9) rotate(356) scale(1.05)"/>
<use href="#HT05" transform="translate(485.5 711.4) rotate(198) scale(1.09)"/>
<use href="#RT02" transform="translate(590.7 747.6) rotate(356) scale(0.85)"/>
<use href="#HT14" transform="translate(558.3 688.0) rotate(12) scale(1.03)"/>
<use href="#HT14" transform="translate(557.1 708.7) rotate(81) scale(0.90)"/>
<use href="#HT04" transform="translate(568.0 729.3) rotate(166) scale(1.11)"/>
<use href="#HT03" transform="translate(514.5 722.2) rotate(293) scale(1.11)"/>
<use href="#HT12" transform="translate(542.9 689.6) rotate(88) scale(1.07)"/>
<use href="#HT14" transform="translate(523.6 706.9) rotate(237) scale(1.13)"/>
<use href="#HT13" transform="translate(574.2 759.7) rotate(127) scale(1.09)"/>
<use href="#HT03" transform="translate(514.4 730.1) rotate(128) scale(1.02)"/>
<use href="#HT14" transform="translate(563.6 718.3) rotate(197) scale(0.99)"/>
<use href="#HT14" transform="translate(528.4 681.5) rotate(213) scale(1.04)"/>
<use href="#RT00" transform="translate(505.1 683.3) rotate(56) scale(1.12)"/>
<use href="#RT02" transform="translate(532.0 731.5) rotate(86) scale(0.94)"/>
<use href="#RT03" transform="translate(520.0 719.6) rotate(207) scale(1.12)"/>
<use href="#RT01" transform="translate(550.2 757.1) rotate(64) scale(1.00)"/>
<use href="#HT05" transform="translate(537.4 744.0) rotate(337) scale(1.07)"/>
<use href="#HT04" transform="translate(540.6 737.6) rotate(324) scale(0.95)"/>
<use href="#HT13" transform="translate(474.3 705.2) rotate(194) scale(0.88)"/>
<use href="#HT14" transform="translate(580.4 743.1) rotate(329) scale(1.13)"/>
<use href="#RT10" transform="translate(549.7 771.0) rotate(119) scale(1.07)"/>
<use href="#HT05" transform="translate(542.7 733.9) rotate(84) scale(0.98)"/>
<use href="#HT05" transform="translate(528.3 749.3) rotate(34) scale(1.07)"/>
<use href="#HT12" transform="translate(525.7 721.6) rotate(10) scale(1.10)"/>
<use href="#RT11" transform="translate(547.4 722.1) rotate(256) scale(0.99)"/>
<use href="#RT10" transform="translate(558.9 730.8) rotate(62) scale(1.04)"/>
<use href="#RT01" transform="translate(550.5 757.2) rotate(84) scale(1.10)"/>
<use href="#HT12" transform="translate(566.5 693.7) rotate(323) scale(0.94)"/>
<use href="#HT04" transform="translate(575.1 743.7) rotate(338) scale(0.99)"/>
<use href="#HT05" transform="translate(553.9 755.2) rotate(102) scale(0.88)"/>
<use href="#HT14" transform="translate(543.7 704.8) rotate(247) scale(1.06)"/>
<use href="#RT10" transform="translate(559.0 749.9) rotate(27) scale(1.11)"/>
<use href="#HT04" transform="translate(452.4 708.4) rotate(211) scale(0.98)"/>
<use href="#RT00" transform="translate(559.1 725.0) rotate(20) scale(1.09)"/>
<use href="#HT04" transform="translate(546.4 772.9) rotate(172) scale(1.11)"/>
<use href="#HT03" transform="translate(540.3 731.2) rotate(25) scale(1.02)"/>
<use href="#HT14" transform="translate(533.0 727.2) rotate(173) scale(1.15)"/>
<use href="#HT03" transform="translate(569.7 722.5) rotate(115) scale(0.87)"/>
<use href="#RT02" transform="translate(501.1 739.9) rotate(28) scale(0.88)"/>
<use href="#HT02" transform="translate(534.5 679.8) rotate(45) scale(0.86)"/>
<use href="#RT00" transform="translate(535.8 685.2) rotate(67) scale(1.13)"/>
<use href="#HT14" transform="translate(516.1 705.3) rotate(264) scale(0.96)"/>
<use href="#HT04" transform="translate(554.2 728.9) rotate(279) scale(0.97)"/>
<use href="#RT01" transform="translate(517.3 680.1) rotate(276) scale(0.97)"/>
<use href="#RT02" transform="translate(540.0 687.9) rotate(85) scale(1.09)"/>
<use href="#RT11" transform="translate(593.0 733.5) rotate(138) scale(0.96)"/>
<use href="#HT12" transform="translate(569.7 755.9) rotate(105) scale(0.86)"/>
<use href="#HT14" transform="translate(553.0 747.3) rotate(331) scale(1.03)"/>
<use href="#HT15" transform="translate(541.8 732.2) rotate(182) scale(1.00)"/>
<use href="#RT03" transform="translate(579.8 737.3) rotate(24) scale(0.87)"/>
<use href="#HT12" transform="translate(557.8 692.8) rotate(62) scale(0.93)"/>
<use href="#HT05" transform="translate(564.9 746.8) rotate(177) scale(1.13)"/>
<use href="#RT00" transform="translate(552.2 763.5) rotate(66) scale(1.13)"/>
<use href="#RT01" transform="translate(520.6 728.5) rotate(147) scale(1.07)"/>
<use href="#HT03" transform="translate(480.5 727.8) rotate(21) scale(1.06)"/>
<use href="#HT03" transform="translate(560.9 718.6) rotate(327) scale(1.06)"/>
<use href="#RT02" transform="translate(458.4 707.1) rotate(35) scale(0.99)"/>
<use href="#RT11" transform="translate(552.7 722.4) rotate(94) scale(1.15)"/>
<use href="#RT10" transform="translate(567.3 744.9) rotate(139) scale(0.94)"/>
<use href="#RT10" transform="translate(524.4 676.1) rotate(52) scale(0.91)"/>
<use href="#HT03" transform="translate(561.8 767.8) rotate(34) scale(1.12)"/>
<use href="#RT11" transform="translate(555.9 719.5) rotate(100) scale(0.87)"/>
<use href="#RT13" transform="translate(503.5 733.3) rotate(114) scale(1.02)"/>
<use href="#RT10" transform="translate(539.3 737.2) rotate(130) scale(1.15)"/>
<use href="#RT11" transform="translate(491.8 694.1) rotate(177) scale(0.89)"/>
<use href="#HT05" transform="translate(554.3 709.7) rotate(335) scale(1.02)"/>
<use href="#RT00" transform="translate(579.1 743.5) rotate(336) scale(1.08)"/>
<use href="#RT00" transform="translate(516.2 669.6) rotate(262) scale(1.04)"/>
<use href="#HT03" transform="translate(576.2 749.2) rotate(56) scale(1.05)"/>
<use href="#RT13" transform="translate(524.0 736.0) rotate(154) scale(1.01)"/>
<use href="#HT04" transform="translate(541.5 757.8) rotate(105) scale(1.05)"/>
<use href="#HT02" transform="translate(519.2 667.5) rotate(259) scale(0.99)"/>
<use href="#HT03" transform="translate(481.7 703.4) rotate(0) scale(1.08)"/>
<use href="#RT13" transform="translate(510.2 699.4) rotate(122) scale(1.06)"/>
<use href="#HT04" transform="translate(525.4 689.3) rotate(61) scale(1.10)"/>
<use href="#HT13" transform="translate(571.1 731.9) rotate(105) scale(0.90)"/>
<use href="#RT03" transform="translate(568.7 723.9) rotate(150) scale(1.12)"/>
<use href="#HT12" transform="translate(553.1 719.4) rotate(332) scale(1.12)"/>
<use href="#HT03" transform="translate(556.2 738.6) rotate(183) scale(0.93)"/>
<use href="#HT13" transform="translate(559.6 736.2) rotate(251) scale(1.05)"/>
<use href="#HT12" transform="translate(525.1 683.8) rotate(229) scale(1.10)"/>
<use href="#RT00" transform="translate(470.6 710.7) rotate(18) scale(1.11)"/>
<use href="#HT03" transform="translate(523.9 762.5) rotate(140) scale(1.06)"/>
<use href="#RT12" transform="translate(562.7 737.5) rotate(71) scale(0.92)"/>
<use href="#RT02" transform="translate(559.6 747.1) rotate(318) scale(0.90)"/>
<use href="#RT02" transform="translate(544.1 741.2) rotate(76) scale(1.02)"/>
<use href="#HT15" transform="translate(539.1 747.9) rotate(318) scale(1.08)"/>
<use href="#RT10" transform="translate(533.9 722.9) rotate(165) scale(0.93)"/>
<use href="#RT10" transform="translate(576.8 735.8) rotate(104) scale(0.86)"/>
<use href="#RT10" transform="translate(566.3 751.5) rotate(43) scale(1.01)"/>
<use href="#HT04" transform="translate(536.4 722.4) rotate(218) scale(1.01)"/>
<use href="#HT03" transform="translate(547.7 751.1) rotate(273) scale(0.89)"/>
<use href="#RT00" transform="translate(540.2 723.1) rotate(42) scale(0.89)"/>
<use href="#HT13" transform="translate(568.4 761.0) rotate(319) scale(1.03)"/>
<use href="#HT03" transform="translate(531.6 712.4) rotate(329) scale(0.95)"/>
<use href="#HT13" transform="translate(595.1 740.6) rotate(239) scale(0.99)"/>
<use href="#RT03" transform="translate(494.2 704.8) rotate(203) scale(0.96)"/>
<use href="#RT03" transform="translate(557.1 743.6) rotate(270) scale(0.86)"/>
<use href="#HT14" transform="translate(553.5 719.6) rotate(11) scale(0.95)"/>
<use href="#RT00" transform="translate(535.7 728.2) rotate(256) scale(1.12)"/>
<use href="#RT03" transform="translate(552.2 767.8) rotate(52) scale(1.10)"/>
<use href="#HT15" transform="translate(562.2 733.1) rotate(234) scale(0.89)"/>
<use href="#HT03" transform="translate(583.5 746.9) rotate(292) scale(0.93)"/>
<use href="#RT10" transform="translate(580.6 721.3) rotate(210) scale(1.11)"/>
<use href="#HT05" transform="translate(589.1 746.8) rotate(356) scale(0.93)"/>
<use href="#HT04" transform="translate(564.3 745.3) rotate(260) scale(0.95)"/>
<use href="#HT03" transform="translate(528.5 707.5) rotate(327) scale(1.15)"/>
<use href="#HT05" transform="translate(495.1 706.4) rotate(26) scale(0.95)"/>
<use href="#RT00" transform="translate(527.5 680.6) rotate(36) scale(1.00)"/>
<use href="#RT11" transform="translate(544.3 719.0) rotate(229) scale(1.06)"/>
<use href="#RT11" transform="translate(575.0 711.2) rotate(268) scale(0.89)"/>
<use href="#HT03" transform="translate(481.2 702.7) rotate(181) scale(1.06)"/>
<use href="#RT11" transform="translate(547.9 717.0) rotate(218) scale(0.98)"/>
<use href="#HT04" transform="translate(583.1 748.3) rotate(92) scale(1.13)"/>
<use href="#HT03" transform="translate(577.1 723.1) rotate(128) scale(1.04)"/>
<use href="#HT15" transform="translate(573.8 735.2) rotate(23) scale(1.10)"/>
<use href="#HT14" transform="translate(562.9 726.2) rotate(62) scale(1.09)"/>
<use href="#RT10" transform="translate(546.0 744.7) rotate(278) scale(1.11)"/>
<use href="#RT12" transform="translate(547.4 689.1) rotate(66) scale(1.01)"/>
<use href="#HT04" transform="translate(523.1 740.7) rotate(63) scale(0.99)"/>
<use href="#RT11" transform="translate(591.3 733.9) rotate(188) scale(0.93)"/>
<use href="#RT01" transform="translate(556.8 719.9) rotate(157) scale(0.86)"/>
<use href="#HT03" transform="translate(475.6 708.9) rotate(195) scale(0.95)"/>
<use href="#HT04" transform="translate(541.0 739.5) rotate(97) scale(0.98)"/>
<use href="#RT10" transform="translate(531.1 733.7) rotate(224) scale(0.89)"/>
<use href="#RT02" transform="translate(573.0 744.4) rotate(5) scale(1.15)"/>
<use href="#HT03" transform="translate(569.1 750.3) rotate(27) scale(0.89)"/>
<use href="#HT13" transform="translate(562.5 762.5) rotate(74) scale(0.87)"/>
<use href="#RT11" transform="translate(574.7 764.8) rotate(254) scale(1.04)"/>
<use href="#HT13" transform="translate(557.0 705.8) rotate(64) scale(1.04)"/>
<use href="#RT00" transform="translate(572.1 701.8) rotate(76) scale(0.91)"/>
<use href="#HT05" transform="translate(532.5 716.4) rotate(261) scale(1.10)"/>
<use href="#HT12" transform="translate(535.0 742.7) rotate(106) scale(0.93)"/>
<use href="#HT04" transform="translate(550.5 726.4) rotate(25) scale(0.92)"/>
<use href="#HT14" transform="translate(467.7 703.3) rotate(19) scale(1.09)"/>
<use href="#HT04" transform="translate(468.9 704.6) rotate(201) scale(1.10)"/>
<use href="#HT05" transform="translate(520.7 687.8) rotate(14) scale(0.99)"/>
<use href="#HT14" transform="translate(461.9 708.4) rotate(37) scale(0.96)"/>
<use href="#HT04" transform="translate(573.6 766.6) rotate(16) scale(0.85)"/>
<use href="#RT10" transform="translate(552.9 751.7) rotate(118) scale(0.85)"/>
<use href="#HT03" transform="translate(563.8 741.6) rotate(253) scale(1.14)"/>
<use href="#HT05" transform="translate(581.4 740.9) rotate(195) scale(1.07)"/>
<use href="#RT12" transform="translate(533.9 768.0) rotate(264) scale(1.07)"/>
<use href="#HT02" transform="translate(555.4 758.6) rotate(255) scale(0.92)"/>
<use href="#RT00" transform="translate(577.0 763.3) rotate(144) scale(0.96)"/>
<use href="#HT15" transform="translate(548.5 761.8) rotate(144) scale(1.04)"/>
<use href="#RT00" transform="translate(548.8 736.5) rotate(19) scale(1.00)"/>
<use href="#HT05" transform="translate(509.9 712.3) rotate(246) scale(1.06)"/>
<use href="#HT04" transform="translate(549.8 696.1) rotate(242) scale(1.07)"/>
<use href="#RT00" transform="translate(579.7 757.0) rotate(328) scale(1.09)"/>
<use href="#HT03" transform="translate(557.9 716.5) rotate(358) scale(0.96)"/>
<use href="#HT12" transform="translate(513.9 687.7) rotate(76) scale(1.13)"/>
<use href="#RT12" transform="translate(533.5 735.4) rotate(208) scale(1.00)"/>
<use href="#RT10" transform="translate(478.9 715.6) rotate(17) scale(1.10)"/>
<use href="#RT00" transform="translate(569.4 742.7) rotate(39) scale(0.86)"/>
<use href="#HT13" transform="translate(581.3 746.5) rotate(272) scale(0.89)"/>
<use href="#RT13" transform="translate(539.5 705.2) rotate(229) scale(1.06)"/>
<use href="#HT05" transform="translate(544.8 738.4) rotate(201) scale(1.10)"/>
<use href="#RT10" transform="translate(582.8 756.6) rotate(357) scale(0.86)"/>
<use href="#HT03" transform="translate(567.9 713.4) rotate(338) scale(0.93)"/>
<use href="#HT13" transform="translate(521.5 686.1) rotate(191) scale(0.92)"/>
<use href="#HT04" transform="translate(518.9 731.5) rotate(341) scale(1.04)"/>
<use href="#HT03" transform="translate(541.0 726.6) rotate(63) scale(0.98)"/>
<use href="#RT00" transform="translate(582.8 743.2) rotate(271) scale(0.92)"/>
<use href="#RT12" transform="translate(594.1 740.5) rotate(70) scale(0.93)"/>
<use href="#HT03" transform="translate(579.4 743.2) rotate(247) scale(0.95)"/>
<use href="#RT00" transform="translate(577.3 752.8) rotate(67) scale(1.02)"/>
<use href="#RT02" transform="translate(482.3 712.0) rotate(20) scale(1.11)"/>
<use href="#RT03" transform="translate(576.9 723.5) rotate(207) scale(0.89)"/>
<use href="#HT13" transform="translate(507.7 714.5) rotate(305) scale(0.88)"/>
<use href="#HT04" transform="translate(571.5 752.1) rotate(93) scale(1.11)"/>
<use href="#HT13" transform="translate(567.1 753.7) rotate(38) scale(1.05)"/>
<use href="#HT04" transform="translate(496.9 702.6) rotate(15) scale(1.03)"/>
<use href="#RT03" transform="translate(491.4 706.9) rotate(178) scale(0.92)"/>
<use href="#HT04" transform="translate(573.7 733.8) rotate(277) scale(0.97)"/>
<use href="#HT12" transform="translate(555.1 733.2) rotate(329) scale(1.05)"/>
<use href="#RT03" transform="translate(569.0 751.2) rotate(97) scale(1.05)"/>
<use href="#HT12" transform="translate(530.0 722.4) rotate(237) scale(1.02)"/>
<use href="#HT03" transform="translate(539.6 690.6) rotate(234) scale(0.96)"/>
<use href="#RT03" transform="translate(575.6 751.3) rotate(132) scale(0.91)"/>
<use href="#HT13" transform="translate(545.3 693.9) rotate(325) scale(0.93)"/>
<use href="#RT01" transform="translate(564.8 759.2) rotate(180) scale(1.08)"/>
<use href="#HT13" transform="translate(583.2 757.3) rotate(151) scale(1.14)"/>
<use href="#HT05" transform="translate(564.7 723.6) rotate(355) scale(1.10)"/>
<path d="M452.9,700.4 Q470.3,704.2 463.5,703.9 Q456.7,703.6 457.4,699.4 L458.1,695.1" fill="none" stroke="#3dbcaa" stroke-width="0.9" stroke-linecap="round" stroke-linejoin="round"/>
<path d="M478.3,696.1 Q485.7,693.4 486.5,698.5 Q487.3,703.6 481.3,700.0 Q475.4,696.5 481.6,694.0 L487.9,691.5" fill="none" stroke="#52d3c2" stroke-width="0.9" stroke-linecap="round" stroke-linejoin="round"/>
<path d="M515.2,733.4 Q513.6,742.2 514.4,737.8 Q515.2,733.5 510.6,736.3 L506.0,739.1" fill="none" stroke="#3dbcaa" stroke-width="1.0" stroke-linecap="round" stroke-linejoin="round"/>
<path d="M525.7,707.9 Q512.1,708.9 518.8,717.1 Q525.4,725.4 517.2,720.7 L509.0,715.9" fill="none" stroke="#45c9b7" stroke-width="0.9" stroke-linecap="round" stroke-linejoin="round"/>
<path d="M544.6,739.6 Q525.3,756.0 530.0,745.0 L534.6,734.1" fill="none" stroke="#52d3c2" stroke-width="0.9" stroke-linecap="round" stroke-linejoin="round"/>
<path d="M496.9,701.1 Q495.2,695.7 497.1,700.1 Q499.1,704.5 502.3,699.9 Q505.6,695.3 497.9,703.6 L490.2,712.0" fill="none" stroke="#45c9b7" stroke-width="1.0" stroke-linecap="round" stroke-linejoin="round"/>
<path d="M514.0,733.8 Q489.8,744.5 491.8,744.2 Q493.7,743.9 501.1,739.3 L508.6,734.7" fill="none" stroke="#45c9b7" stroke-width="1.1" stroke-linecap="round" stroke-linejoin="round"/>
<path d="M488.6,734.0 Q501.8,735.6 500.0,737.5 Q498.2,739.4 500.1,736.5 L502.0,733.7" fill="none" stroke="#3dbcaa" stroke-width="1.0" stroke-linecap="round" stroke-linejoin="round"/>
<path d="M535.4,769.1 Q531.9,757.3 531.4,758.1 Q530.9,758.9 531.5,761.5 Q532.2,764.2 530.5,759.6 L528.8,755.1" fill="none" stroke="#52d3c2" stroke-width="0.9" stroke-linecap="round" stroke-linejoin="round"/>
<path d="M488.1,723.6 Q484.9,738.1 484.1,732.2 Q483.2,726.4 479.6,732.6 L476.0,738.8" fill="none" stroke="#3dbcaa" stroke-width="1.0" stroke-linecap="round" stroke-linejoin="round"/>
<path d="M513.0,677.8 Q518.1,671.9 516.4,674.8 L514.6,677.6" fill="none" stroke="#45c9b7" stroke-width="0.9" stroke-linecap="round" stroke-linejoin="round"/>
<path d="M455.0,700.6 Q460.7,695.2 460.9,697.5 Q461.1,699.8 463.1,697.7 Q465.0,695.5 465.1,698.6 L465.3,701.8" fill="none" stroke="#45c9b7" stroke-width="0.9" stroke-linecap="round" stroke-linejoin="round"/>
<path d="M566.0,758.8 Q566.5,760.6 564.7,757.0 Q562.8,753.4 556.5,750.8 Q550.3,748.2 557.5,751.4 L564.7,754.7" fill="none" stroke="#3dbcaa" stroke-width="1.1" stroke-linecap="round" stroke-linejoin="round"/>
<path d="M559.7,750.5 Q576.9,751.2 575.6,746.0 L574.3,740.7" fill="none" stroke="#45c9b7" stroke-width="1.1" stroke-linecap="round" stroke-linejoin="round"/>
<path d="M523.4,735.4 Q526.0,727.0 518.1,726.5 L510.1,726.0" fill="none" stroke="#52d3c2" stroke-width="1.0" stroke-linecap="round" stroke-linejoin="round"/>
<path d="M552.1,708.7 Q562.0,714.6 560.6,711.6 L559.3,708.5" fill="none" stroke="#52d3c2" stroke-width="0.9" stroke-linecap="round" stroke-linejoin="round"/>
<path d="M574.6,716.8 Q572.5,731.3 571.6,730.9 Q570.7,730.4 570.2,725.4 Q569.7,720.3 572.3,726.0 L574.9,731.7" fill="none" stroke="#45c9b7" stroke-width="1.1" stroke-linecap="round" stroke-linejoin="round"/>
<path d="M479.3,712.6 Q489.1,725.1 492.1,719.0 L495.1,713.0" fill="none" stroke="#3dbcaa" stroke-width="1.0" stroke-linecap="round" stroke-linejoin="round"/>
<path d="M587.9,754.6 Q586.3,749.2 581.4,748.6 Q576.6,748.1 581.1,747.9 L585.6,747.8" fill="none" stroke="#52d3c2" stroke-width="1.0" stroke-linecap="round" stroke-linejoin="round"/>
<path d="M560.5,744.5 Q548.1,738.2 543.2,737.5 Q538.3,736.8 543.4,744.9 Q548.5,752.9 544.2,752.7 L539.8,752.6" fill="none" stroke="#3dbcaa" stroke-width="1.1" stroke-linecap="round" stroke-linejoin="round"/>
<path d="M520.3,738.4 Q522.8,746.5 525.6,744.9 L528.5,743.3" fill="none" stroke="#3dbcaa" stroke-width="1.1" stroke-linecap="round" stroke-linejoin="round"/>
<path d="M586.6,743.8 Q587.2,729.2 587.7,739.8 Q588.1,750.3 586.1,740.8 Q584.2,731.2 590.6,734.1 L597.0,737.0" fill="none" stroke="#52d3c2" stroke-width="1.0" stroke-linecap="round" stroke-linejoin="round"/>
<path d="M519.8,743.8 Q517.1,728.0 507.7,727.2 L498.4,726.4" fill="none" stroke="#52d3c2" stroke-width="0.9" stroke-linecap="round" stroke-linejoin="round"/>
<path d="M534.4,759.1 Q544.2,754.4 539.8,758.5 Q535.4,762.7 530.7,762.4 Q525.9,762.2 528.0,761.0 L530.1,759.9" fill="none" stroke="#3dbcaa" stroke-width="0.9" stroke-linecap="round" stroke-linejoin="round"/>
<path d="M544.6,761.6 Q544.5,760.2 549.4,759.1 L554.3,758.0" fill="none" stroke="#45c9b7" stroke-width="0.8" stroke-linecap="round" stroke-linejoin="round"/>
<path d="M564.9,718.5 Q554.6,713.7 561.4,725.7 Q568.1,737.7 561.8,727.9 Q555.5,718.1 558.1,719.5 L560.8,721.0" fill="none" stroke="#3dbcaa" stroke-width="0.9" stroke-linecap="round" stroke-linejoin="round"/>
<path d="M566.0,692.2 Q555.2,684.2 561.3,690.1 Q567.4,696.0 567.5,697.0 L567.6,698.0" fill="none" stroke="#3dbcaa" stroke-width="1.1" stroke-linecap="round" stroke-linejoin="round"/>
<path d="M543.9,720.2 Q520.8,736.2 527.4,731.7 L533.9,727.1" fill="none" stroke="#3dbcaa" stroke-width="0.9" stroke-linecap="round" stroke-linejoin="round"/>
<path d="M517.0,700.4 Q519.7,712.7 520.9,711.1 Q522.1,709.4 524.7,701.2 L527.2,693.0" fill="none" stroke="#45c9b7" stroke-width="0.9" stroke-linecap="round" stroke-linejoin="round"/>
<path d="M540.1,748.0 Q545.1,734.5 548.7,738.6 Q552.3,742.7 541.6,742.3 Q530.9,742.0 536.5,745.9 L542.2,749.7" fill="none" stroke="#52d3c2" stroke-width="1.0" stroke-linecap="round" stroke-linejoin="round"/>
<path d="M527.8,746.6 Q523.2,735.2 524.8,737.9 Q526.4,740.7 523.5,741.7 L520.5,742.7" fill="none" stroke="#3dbcaa" stroke-width="0.9" stroke-linecap="round" stroke-linejoin="round"/>
<path d="M531.8,664.0 Q539.2,672.3 535.2,670.6 Q531.3,668.9 528.1,666.5 L525.0,664.0" fill="none" stroke="#45c9b7" stroke-width="0.8" stroke-linecap="round" stroke-linejoin="round"/>
<path d="M516.4,688.5 Q520.9,678.6 527.5,683.5 L534.0,688.4" fill="none" stroke="#3dbcaa" stroke-width="0.9" stroke-linecap="round" stroke-linejoin="round"/>
<path d="M548.0,712.6 Q551.7,701.0 548.6,707.4 Q545.5,713.9 543.4,717.1 L541.4,720.3" fill="none" stroke="#52d3c2" stroke-width="0.8" stroke-linecap="round" stroke-linejoin="round"/>
<path d="M572.3,752.5 Q566.3,748.1 565.7,742.7 Q565.1,737.2 571.9,742.0 Q578.7,746.7 577.5,746.3 L576.3,745.8" fill="none" stroke="#52d3c2" stroke-width="0.9" stroke-linecap="round" stroke-linejoin="round"/>
<path d="M504.8,740.1 Q505.5,748.1 503.7,742.6 Q502.0,737.1 503.7,736.7 L505.4,736.3" fill="none" stroke="#52d3c2" stroke-width="1.1" stroke-linecap="round" stroke-linejoin="round"/>
<path d="M577.3,762.1 Q572.4,766.3 576.0,765.3 Q579.6,764.3 575.9,766.0 Q572.2,767.8 573.2,758.0 L574.3,748.3" fill="none" stroke="#45c9b7" stroke-width="1.0" stroke-linecap="round" stroke-linejoin="round"/>
<path d="M497.9,720.3 Q479.4,714.7 487.3,726.4 Q495.1,738.1 487.0,739.6 L478.9,741.0" fill="none" stroke="#52d3c2" stroke-width="0.9" stroke-linecap="round" stroke-linejoin="round"/>
<path d="M515.3,747.6 Q508.0,738.6 505.6,740.9 L503.1,743.3" fill="none" stroke="#52d3c2" stroke-width="1.1" stroke-linecap="round" stroke-linejoin="round"/>
<path d="M570.2,765.8 Q572.2,747.1 569.4,750.2 Q566.6,753.4 566.4,755.7 L566.3,757.9" fill="none" stroke="#52d3c2" stroke-width="1.1" stroke-linecap="round" stroke-linejoin="round"/>
<path d="M537.7,724.7 Q539.8,727.4 541.5,726.7 L543.3,726.0" fill="none" stroke="#45c9b7" stroke-width="1.0" stroke-linecap="round" stroke-linejoin="round"/>
<path d="M544.2,758.8 Q549.5,749.6 546.0,753.1 L542.5,756.7" fill="none" stroke="#45c9b7" stroke-width="1.0" stroke-linecap="round" stroke-linejoin="round"/>
<path d="M528.1,663.4 Q544.0,680.7 537.6,673.3 L531.2,665.8" fill="none" stroke="#3dbcaa" stroke-width="1.1" stroke-linecap="round" stroke-linejoin="round"/>
<path d="M545.4,707.9 Q549.4,707.1 548.5,705.5 Q547.6,704.0 552.8,699.1 L558.0,694.3" fill="none" stroke="#45c9b7" stroke-width="0.9" stroke-linecap="round" stroke-linejoin="round"/>
<path d="M528.8,692.4 Q526.5,711.6 522.3,713.2 L518.2,714.9" fill="none" stroke="#52d3c2" stroke-width="1.0" stroke-linecap="round" stroke-linejoin="round"/>
<path d="M567.7,730.6 Q576.9,741.3 568.4,738.2 Q560.0,735.0 554.8,731.4 Q549.6,727.8 555.0,720.9 L560.5,714.1" fill="none" stroke="#52d3c2" stroke-width="0.8" stroke-linecap="round" stroke-linejoin="round"/>
<path d="M528.5,724.0 Q546.0,744.3 534.4,732.7 L522.7,721.2" fill="none" stroke="#3dbcaa" stroke-width="1.0" stroke-linecap="round" stroke-linejoin="round"/>
<path d="M518.9,667.9 Q539.1,668.7 540.9,675.0 Q542.8,681.4 535.4,677.0 L528.0,672.6" fill="none" stroke="#52d3c2" stroke-width="0.9" stroke-linecap="round" stroke-linejoin="round"/>
<path d="M506.1,722.0 Q513.1,714.9 515.9,711.3 L518.7,707.7" fill="none" stroke="#45c9b7" stroke-width="1.1" stroke-linecap="round" stroke-linejoin="round"/>
<path d="M488.9,700.2 Q483.0,707.9 479.4,704.3 Q475.9,700.7 481.2,698.6 Q486.6,696.6 482.6,705.6 L478.6,714.6" fill="none" stroke="#45c9b7" stroke-width="0.8" stroke-linecap="round" stroke-linejoin="round"/>
<path d="M527.4,739.2 Q520.8,746.3 521.2,749.8 Q521.6,753.2 527.8,751.6 L534.1,749.9" fill="none" stroke="#3dbcaa" stroke-width="0.9" stroke-linecap="round" stroke-linejoin="round"/>
<path d="M473.3,708.7 Q476.6,694.2 476.5,698.8 Q476.4,703.3 487.5,711.7 Q498.6,720.1 493.3,719.6 L488.0,719.2" fill="none" stroke="#52d3c2" stroke-width="1.0" stroke-linecap="round" stroke-linejoin="round"/>
<path d="M592.2,746.9 Q568.4,755.7 572.9,757.6 Q577.3,759.5 583.9,760.6 Q590.5,761.6 577.6,751.9 L564.6,742.1" fill="none" stroke="#3dbcaa" stroke-width="1.0" stroke-linecap="round" stroke-linejoin="round"/>
<path d="M464.2,704.3 Q452.3,708.6 452.6,707.6 Q452.8,706.6 456.8,705.0 Q460.8,703.4 461.2,704.8 L461.6,706.1" fill="none" stroke="#3dbcaa" stroke-width="0.9" stroke-linecap="round" stroke-linejoin="round"/>
<path d="M539.6,736.0 Q529.7,722.7 535.0,724.7 Q540.4,726.7 542.0,726.4 L543.6,726.0" fill="none" stroke="#45c9b7" stroke-width="0.9" stroke-linecap="round" stroke-linejoin="round"/>
<path d="M528.9,776.2 Q547.3,789.7 547.6,793.8 L548.0,797.9" fill="none" stroke="#c41a6c" stroke-width="0.9" stroke-linecap="round" stroke-linejoin="round"/>
<path d="M544.6,798.2 Q537.3,791.4 534.6,791.3 Q531.9,791.2 530.6,797.1 L529.2,803.0" fill="none" stroke="#c41a6c" stroke-width="1.0" stroke-linecap="round" stroke-linejoin="round"/>
<path d="M536.2,794.5 Q543.8,795.8 538.9,799.5 L534.0,803.3" fill="none" stroke="#d0287a" stroke-width="1.0" stroke-linecap="round" stroke-linejoin="round"/>
<path d="M548.7,786.4 Q555.0,796.6 552.8,794.2 L550.6,791.8" fill="none" stroke="#c41a6c" stroke-width="0.8" stroke-linecap="round" stroke-linejoin="round"/>
<path d="M546.2,800.6 Q537.2,784.3 539.9,796.0 Q542.6,807.8 541.4,798.7 L540.2,789.7" fill="none" stroke="#d83c88" stroke-width="1.0" stroke-linecap="round" stroke-linejoin="round"/>
<path d="M568.6,788.1 Q568.3,794.5 567.5,787.8 Q566.6,781.0 565.2,788.7 L563.8,796.5" fill="none" stroke="#c41a6c" stroke-width="1.1" stroke-linecap="round" stroke-linejoin="round"/>
<path d="M563.3,788.4 Q574.4,791.0 561.4,795.3 Q548.3,799.6 549.9,796.8 Q551.6,794.0 558.7,790.0 L565.8,786.1" fill="none" stroke="#d83c88" stroke-width="1.0" stroke-linecap="round" stroke-linejoin="round"/>
<path d="M545.4,770.6 Q540.8,779.3 540.8,778.9 Q540.8,778.5 541.8,775.3 L542.8,772.0" fill="none" stroke="#d83c88" stroke-width="1.0" stroke-linecap="round" stroke-linejoin="round"/>
<path d="M523,778 C520,784 527,787 531,782 C534,778 528,774 524,777" fill="none" stroke="#cf2a7c" stroke-width="1.1" stroke-linecap="round"/>
<path d="M527,788 C525,796 530,802 537,801 C542,800 540,794 536,792" fill="none" stroke="#cf2a7c" stroke-width="1.1" stroke-linecap="round"/>
<path d="M542,805 C540,812 544,817 549,815 C554,813 552,807 547,806 C556,808 558,800 553,797" fill="none" stroke="#cf2a7c" stroke-width="1.1" stroke-linecap="round"/>
<path d="M545,777 C552,774 560,776 568,777 C574,778 578,780 583,784 C585,788 580,790 576,786" fill="none" stroke="#cf2a7c" stroke-width="1.1" stroke-linecap="round"/>
<path d="M538,792 C545,798 552,796 549,789 C546,783 540,786 541,792" fill="none" stroke="#cf2a7c" stroke-width="1.1" stroke-linecap="round"/>
<path d="M531,781 C536,786 533,796 528,803 C533,806 540,806 545,803" fill="none" stroke="#cf2a7c" stroke-width="1.1" stroke-linecap="round"/>
<path d="M556,779 C560,786 566,790 570,787 C574,784 576,792 574,797" fill="none" stroke="#cf2a7c" stroke-width="1.1" stroke-linecap="round"/>
<path d="M548,800 C552,806 560,808 564,804 C568,800 572,806 578,804" fill="none" stroke="#cf2a7c" stroke-width="1.1" stroke-linecap="round"/>
<path d="M532.5,777 Q534,786 538.5,794" fill="none" stroke="#7a0a3e" stroke-width="3.5999999999999996"/><path d="M532.5,777 Q534,786 538.5,794" fill="none" stroke="#c4186a" stroke-width="2.8"/><path d="M532.5,777 Q534,786 538.5,794" fill="none" stroke="#e85898" stroke-width="0.7" transform="translate(-0.4 -0.4)"/>
<path d="M536,776 Q538,784 542,791" fill="none" stroke="#7a0a3e" stroke-width="3.2"/><path d="M536,776 Q538,784 542,791" fill="none" stroke="#c4186a" stroke-width="2.4"/><path d="M536,776 Q538,784 542,791" fill="none" stroke="#e85898" stroke-width="0.7" transform="translate(-0.4 -0.4)"/>
<path d="M542,763.5 Q546,768 550,772.5" fill="none" stroke="#7a0a3e" stroke-width="3.5999999999999996"/><path d="M542,763.5 Q546,768 550,772.5" fill="none" stroke="#c4186a" stroke-width="2.8"/><path d="M542,763.5 Q546,768 550,772.5" fill="none" stroke="#e85898" stroke-width="0.7" transform="translate(-0.4 -0.4)"/>
<path d="M555,788 Q563,790 571,801" fill="none" stroke="#7a0a3e" stroke-width="3.5999999999999996"/><path d="M555,788 Q563,790 571,801" fill="none" stroke="#c4186a" stroke-width="2.8"/><path d="M555,788 Q563,790 571,801" fill="none" stroke="#e85898" stroke-width="0.7" transform="translate(-0.4 -0.4)"/>
<path d="M556,793 Q562,792 568,797" fill="none" stroke="#7a0a3e" stroke-width="3.0"/><path d="M556,793 Q562,792 568,797" fill="none" stroke="#c4186a" stroke-width="2.2"/><path d="M556,793 Q562,792 568,797" fill="none" stroke="#e85898" stroke-width="0.7" transform="translate(-0.4 -0.4)"/>
<path d="M560,803 Q566,806 572,804" fill="none" stroke="#7a0a3e" stroke-width="3.0"/><path d="M560,803 Q566,806 572,804" fill="none" stroke="#c4186a" stroke-width="2.2"/><path d="M560,803 Q566,806 572,804" fill="none" stroke="#e85898" stroke-width="0.7" transform="translate(-0.4 -0.4)"/>
<use href="#HT03" transform="translate(455.9 704.5) rotate(16) scale(1.01)"/>
<use href="#HT13" transform="translate(464.5 705.6) rotate(16) scale(0.97)"/>
<use href="#HT13" transform="translate(471.6 709.6) rotate(23) scale(1.10)"/>
<use href="#HT13" transform="translate(481.1 714.4) rotate(17) scale(1.07)"/>
<use href="#HT13" transform="translate(489.3 717.6) rotate(24) scale(1.00)"/>
<use href="#HT03" transform="translate(497.0 721.3) rotate(37) scale(1.03)"/>
<use href="#HT13" transform="translate(459.4 711.2) rotate(12) scale(1.05)"/>
<use href="#HT03" transform="translate(468.2 714.4) rotate(20) scale(1.06)"/>
<use href="#HT03" transform="translate(475.5 718.3) rotate(21) scale(0.97)"/>
<use href="#HT03" transform="translate(484.7 721.7) rotate(23) scale(1.01)"/>
<use href="#HT02" transform="translate(472.2 695.8) rotate(4) scale(1.09)"/>
<use href="#HT02" transform="translate(486.2 689.8) rotate(57) scale(1.04)"/>
<use href="#HT03" transform="translate(500.5 681.6) rotate(49) scale(1.04)"/>
<use href="#HT13" transform="translate(504.2 688.1) rotate(52) scale(0.99)"/>
<use href="#HT03" transform="translate(508.1 694.6) rotate(46) scale(1.04)"/>
<use href="#HT13" transform="translate(507.7 667.1) rotate(44) scale(1.10)"/>
<use href="#HT03" transform="translate(512.3 673.7) rotate(56) scale(1.04)"/>
<use href="#HT03" transform="translate(516.3 679.7) rotate(67) scale(0.96)"/>
<use href="#HT13" transform="translate(517.0 661.4) rotate(3) scale(1.08)"/>
<use href="#HT03" transform="translate(524.4 660.9) rotate(20) scale(0.96)"/>
<use href="#HT03" transform="translate(530.2 663.0) rotate(49) scale(0.97)"/>
<use href="#HT03" transform="translate(536.1 668.6) rotate(27) scale(0.95)"/>
<path d="M467,684 C466,678 478,676 484,680 C488,683 480,688 470,686" fill="none" stroke="#45c9b7" stroke-width="1.1" stroke-linecap="round"/>
<path d="M555,690 C560,678 572,682 568,694 C566,700 560,704 556,700" fill="none" stroke="#45c9b7" stroke-width="1.0" stroke-linecap="round"/>
<path d="M552,700 C556,688 570,690 572,702 C574,712 566,716 560,712" fill="none" stroke="#45c9b7" stroke-width="1.0" stroke-linecap="round"/>
<path d="M540,676 C546,668 552,672 548,680" fill="none" stroke="#45c9b7" stroke-width="1.0" stroke-linecap="round"/>
<path d="M465,732 C470,726 478,730 475,738 C472,744 480,746 488,744" fill="none" stroke="#45c9b7" stroke-width="1.0" stroke-linecap="round"/>
<path d="M482,738 C486,748 494,752 498,744" fill="none" stroke="#45c9b7" stroke-width="1.0" stroke-linecap="round"/>
<use href="#HG03" transform="translate(590.4 678.9) rotate(82) scale(0.95)"/>
<use href="#HG13" transform="translate(588.5 687.4) rotate(111) scale(1.10)"/>
<use href="#HG13" transform="translate(590.3 693.9) rotate(48) scale(1.00)"/>
<use href="#HG03" transform="translate(592.2 699.5) rotate(70) scale(1.09)"/>
<use href="#HG03" transform="translate(628.8 697.2) rotate(21) scale(1.06)"/>
<use href="#HG13" transform="translate(635.9 699.3) rotate(15) scale(1.01)"/>
<use href="#HG13" transform="translate(643.2 702.0) rotate(27) scale(1.00)"/>
<use href="#HG03" transform="translate(651.3 706.6) rotate(27) scale(0.98)"/>
<use href="#HG03" transform="translate(596.7 798.5) rotate(50) scale(1.09)"/>
<use href="#HG13" transform="translate(602.7 806.0) rotate(33) scale(1.03)"/>
<use href="#HG13" transform="translate(609.1 807.8) rotate(-1) scale(1.10)"/>
<use href="#HG03" transform="translate(616.4 806.5) rotate(-18) scale(1.09)"/>
<path d="M596,675 C605,670 614,676 616,690 C617,700 612,712 610,722" fill="none" stroke="#cf8f0e" stroke-width="1.1" stroke-linecap="round"/>
<path d="M612,690 C622,686 630,690 628,700" fill="none" stroke="#cf8f0e" stroke-width="1.0" stroke-linecap="round"/>
<path d="M662,745 C672,738 682,748 676,756 C670,762 660,760 656,752" fill="none" stroke="#cf8f0e" stroke-width="1.0" stroke-linecap="round"/>
<path d="M630,806 C624,814 610,818 600,814" fill="none" stroke="#cf8f0e" stroke-width="1.0" stroke-linecap="round"/>
<path d="M571.3,740.0 572.4,740.9 573.0,742.3 573.4,743.7" fill="none" stroke="#2a3ad8" stroke-width="1.0" stroke-linecap="round" stroke-linejoin="round"/>
<path d="M573.5,739.4 574.8,738.7 576.2,738.2 577.5,737.4" fill="none" stroke="#2a3ad8" stroke-width="1.0" stroke-linecap="round" stroke-linejoin="round"/>
<path d="M571.3,739.6 572.7,738.9 573.9,738.1" fill="none" stroke="#2a3ad8" stroke-width="1.0" stroke-linecap="round" stroke-linejoin="round"/>
<path d="M579.1,739.8 580.3,740.7 581.6,741.5 582.9,742.2" fill="none" stroke="#3344e0" stroke-width="1.0" stroke-linecap="round" stroke-linejoin="round"/>
<path d="M579.9,741.5 580.1,742.9 580.2,744.4" fill="none" stroke="#3344e0" stroke-width="1.0" stroke-linecap="round" stroke-linejoin="round"/>
<path d="M578.3,739.2 577.0,740.0 575.7,740.6" fill="none" stroke="#3344e0" stroke-width="1.0" stroke-linecap="round" stroke-linejoin="round"/>
<path d="M569.2,744.2 570.7,744.2 572.1,744.7" fill="none" stroke="#9aa0c8" stroke-width="1.0" stroke-linecap="round" stroke-linejoin="round"/>
<path d="M570.7,743.1 572.0,743.8 573.3,744.5 574.4,745.6" fill="none" stroke="#9aa0c8" stroke-width="1.0" stroke-linecap="round" stroke-linejoin="round"/>
<path d="M570.0,745.9 568.5,745.7 567.0,745.8" fill="none" stroke="#9aa0c8" stroke-width="1.0" stroke-linecap="round" stroke-linejoin="round"/>
<path d="M580.9,759.9 581.6,758.6 582.4,757.3 583.5,756.3" fill="none" stroke="#2a3ad8" stroke-width="1.0" stroke-linecap="round" stroke-linejoin="round"/>
<path d="M580.3,759.7 579.4,760.9 578.3,761.8 578.0,763.3" fill="none" stroke="#2a3ad8" stroke-width="1.0" stroke-linecap="round" stroke-linejoin="round"/>
<path d="M582.7,761.5 584.1,762.1 585.5,762.5 586.9,763.1" fill="none" stroke="#2a3ad8" stroke-width="1.0" stroke-linecap="round" stroke-linejoin="round"/>
<path d="M583.9,764.8 582.4,765.1 581.1,765.9" fill="none" stroke="#5560e0" stroke-width="1.0" stroke-linecap="round" stroke-linejoin="round"/>
<path d="M582.3,762.8 580.8,762.6 579.6,763.6 578.3,764.2" fill="none" stroke="#5560e0" stroke-width="1.0" stroke-linecap="round" stroke-linejoin="round"/>
<path d="M582.3,765.5 582.4,767.0 582.7,768.4" fill="none" stroke="#5560e0" stroke-width="1.0" stroke-linecap="round" stroke-linejoin="round"/>
<path d="M561.1,759.2 559.8,758.4 559.3,757.0 559.4,755.5" fill="none" stroke="#c8c8d0" stroke-width="1.0" stroke-linecap="round" stroke-linejoin="round"/>
<path d="M558.4,759.8 557.1,760.6 556.0,761.6" fill="none" stroke="#c8c8d0" stroke-width="1.0" stroke-linecap="round" stroke-linejoin="round"/>
<path d="M561.5,761.0 562.6,762.0 564.0,762.6 565.3,763.2" fill="none" stroke="#c8c8d0" stroke-width="1.0" stroke-linecap="round" stroke-linejoin="round"/>
<path d="M553.9,758.5 554.8,757.4 555.8,756.3" fill="none" stroke="#d0d0d8" stroke-width="1.0" stroke-linecap="round" stroke-linejoin="round"/>
<path d="M553.5,757.1 553.2,755.7 553.0,754.2 553.3,752.7" fill="none" stroke="#d0d0d8" stroke-width="1.0" stroke-linecap="round" stroke-linejoin="round"/>
<path d="M552.3,757.6 551.6,756.3 550.7,755.1 549.7,754.0" fill="none" stroke="#d0d0d8" stroke-width="1.0" stroke-linecap="round" stroke-linejoin="round"/>
<path d="M588.9,778.4 587.4,778.4 585.9,778.4 584.4,778.5" fill="none" stroke="#b0b0c0" stroke-width="1.0" stroke-linecap="round" stroke-linejoin="round"/>
<path d="M587.3,777.6 587.2,779.1 588.0,780.4" fill="none" stroke="#b0b0c0" stroke-width="1.0" stroke-linecap="round" stroke-linejoin="round"/>
<path d="M588.9,776.4 589.7,775.2 591.0,774.5" fill="none" stroke="#b0b0c0" stroke-width="1.0" stroke-linecap="round" stroke-linejoin="round"/>
<path d="M575.9,732.0 575.3,733.4 575.1,734.9" fill="none" stroke="#c0c0d0" stroke-width="1.0" stroke-linecap="round" stroke-linejoin="round"/>
<path d="M573.3,731.7 574.5,732.6 575.9,733.2 577.3,733.5" fill="none" stroke="#c0c0d0" stroke-width="1.0" stroke-linecap="round" stroke-linejoin="round"/>
<path d="M574.3,732.6 575.2,731.4 575.9,730.1" fill="none" stroke="#c0c0d0" stroke-width="1.0" stroke-linecap="round" stroke-linejoin="round"/>
</g>
</g>
</svg></body></html>
